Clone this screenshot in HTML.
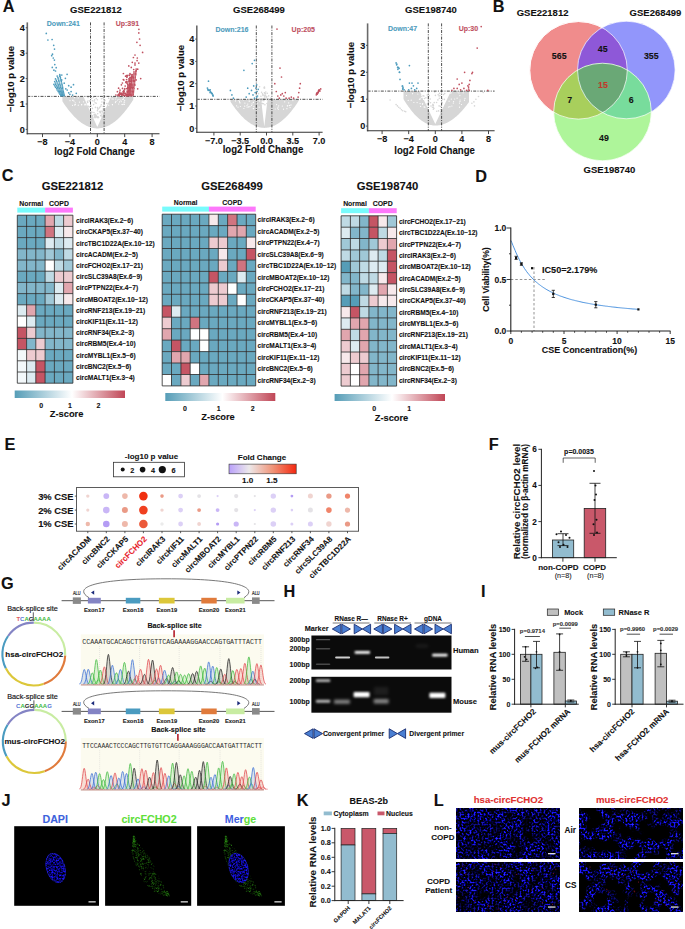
<!DOCTYPE html><html><head><meta charset="utf-8"><style>html,body{margin:0;padding:0;background:#fff;}svg{display:block;}text{font-family:"Liberation Sans",sans-serif;}</style></head><body>
<svg width="685" height="929" viewBox="0 0 685 929">
<rect width="685" height="929" fill="#fff"/>
<path d="M62.4 96.4 L62.4 101.3 L63.2 102.6 L64.1 103.9 L65 105.2 L65.9 106.4 L66.7 107.6 L67.6 108.8 L68.5 109.9 L69.4 111 L70.2 112.1 L71.1 113.1 L72 114.1 L72.8 115.1 L73.7 116 L74.6 116.9 L75.5 117.8 L76.3 118.6 L77.2 119.4 L78.1 120.2 L79 120.9 L79.8 121.6 L80.7 122.3 L81.6 122.9 L82.5 123.5 L83.3 124.1 L84.2 124.6 L85.1 125.1 L85.9 125.5 L86.8 125.9 L87.7 126.3 L88.6 126.7 L89.4 127 L90.3 127.3 L91.2 127.6 L92.1 127.8 L92.9 128 L93.8 128.1 L94.7 128.2 L95.6 128.3 L96.4 128.4 L97.3 128.4 L97.3 128.4 L98.2 128.4 L99.1 128.3 L100 128.2 L100.9 128.1 L101.8 127.9 L102.7 127.7 L103.6 127.5 L104.5 127.2 L105.4 126.9 L106.3 126.6 L107.2 126.2 L108.1 125.8 L109 125.4 L109.9 124.9 L110.8 124.3 L111.7 123.8 L112.6 123.2 L113.5 122.6 L114.4 121.9 L115.3 121.2 L116.2 120.5 L117.1 119.7 L118 118.9 L118.9 118.1 L119.8 117.2 L120.7 116.3 L121.6 115.3 L122.5 114.3 L123.4 113.3 L124.3 112.2 L125.2 111.1 L126.1 110 L127 108.8 L127.9 107.6 L128.8 106.4 L129.7 105.1 L130.6 103.8 L131.5 102.5 L132.4 101.1 L133.3 99.7 L133.3 96.4 L111.2 96.4 L97.3 126.9 L83.4 96.4Z" fill="#d6d6d6"/>
<circle cx="72.8" cy="100.4" r="0.6" fill="#fff"/>
<circle cx="84.9" cy="104.9" r="0.6" fill="#fff"/>
<circle cx="124" cy="102.1" r="0.6" fill="#fff"/>
<circle cx="117.4" cy="100" r="0.6" fill="#fff"/>
<circle cx="78.3" cy="105.2" r="0.6" fill="#fff"/>
<circle cx="74" cy="101.1" r="0.6" fill="#fff"/>
<circle cx="75.5" cy="104.7" r="0.6" fill="#fff"/>
<circle cx="112.4" cy="104.6" r="0.6" fill="#fff"/>
<circle cx="112.1" cy="98.9" r="0.6" fill="#fff"/>
<circle cx="74.2" cy="97.1" r="0.6" fill="#fff"/>
<circle cx="122.2" cy="104.6" r="0.6" fill="#fff"/>
<circle cx="120.9" cy="100.1" r="0.6" fill="#fff"/>
<circle cx="85.1" cy="104" r="0.6" fill="#fff"/>
<circle cx="119" cy="99.5" r="0.6" fill="#fff"/>
<circle cx="86.1" cy="104.8" r="0.6" fill="#fff"/>
<circle cx="124.2" cy="104.4" r="0.6" fill="#fff"/>
<circle cx="75.2" cy="102.8" r="0.6" fill="#fff"/>
<circle cx="115.9" cy="101.4" r="0.6" fill="#fff"/>
<circle cx="70" cy="100.7" r="0.6" fill="#fff"/>
<circle cx="124.3" cy="97.4" r="0.6" fill="#fff"/>
<circle cx="81.6" cy="104.6" r="0.6" fill="#fff"/>
<circle cx="124.6" cy="102" r="0.6" fill="#fff"/>
<circle cx="85.1" cy="104.5" r="0.6" fill="#fff"/>
<circle cx="123.9" cy="104.2" r="0.6" fill="#fff"/>
<circle cx="122.8" cy="99.4" r="0.6" fill="#fff"/>
<circle cx="78.2" cy="97.9" r="0.6" fill="#fff"/>
<circle cx="108.7" cy="105.2" r="0.6" fill="#fff"/>
<circle cx="119.5" cy="101.9" r="0.6" fill="#fff"/>
<circle cx="79.5" cy="102.1" r="0.6" fill="#fff"/>
<circle cx="72.5" cy="105.3" r="0.6" fill="#fff"/>
<circle cx="122.1" cy="104.3" r="0.6" fill="#fff"/>
<circle cx="74.6" cy="97.7" r="0.6" fill="#fff"/>
<circle cx="112.4" cy="104.7" r="0.6" fill="#fff"/>
<circle cx="124.7" cy="100.3" r="0.6" fill="#fff"/>
<circle cx="123.5" cy="98.9" r="0.6" fill="#fff"/>
<circle cx="81.7" cy="104.8" r="0.6" fill="#fff"/>
<circle cx="118.7" cy="104" r="0.6" fill="#fff"/>
<circle cx="115.4" cy="102.6" r="0.6" fill="#fff"/>
<circle cx="121.2" cy="101.7" r="0.6" fill="#fff"/>
<circle cx="73" cy="100" r="0.6" fill="#fff"/>
<circle cx="74.5" cy="104.9" r="0.6" fill="#fff"/>
<circle cx="115.7" cy="99" r="0.6" fill="#fff"/>
<circle cx="116.2" cy="97.6" r="0.6" fill="#fff"/>
<circle cx="83.5" cy="101.8" r="0.6" fill="#fff"/>
<circle cx="113.2" cy="99.1" r="0.6" fill="#fff"/>
<circle cx="95.1" cy="102.7" r="0.8" fill="#d6d6d6"/>
<circle cx="97.4" cy="117.6" r="0.8" fill="#d6d6d6"/>
<circle cx="100.7" cy="106.3" r="0.8" fill="#d6d6d6"/>
<circle cx="105.1" cy="108.7" r="0.8" fill="#d6d6d6"/>
<circle cx="95.8" cy="117.6" r="0.8" fill="#d6d6d6"/>
<circle cx="102.1" cy="111" r="0.8" fill="#d6d6d6"/>
<circle cx="101.3" cy="104.8" r="0.8" fill="#d6d6d6"/>
<circle cx="99.7" cy="107.2" r="0.8" fill="#d6d6d6"/>
<circle cx="96.3" cy="116.6" r="0.8" fill="#d6d6d6"/>
<circle cx="93.5" cy="97.2" r="0.8" fill="#d6d6d6"/>
<circle cx="87.5" cy="101.3" r="0.8" fill="#d6d6d6"/>
<circle cx="88.1" cy="97.5" r="0.8" fill="#d6d6d6"/>
<circle cx="92.7" cy="115.8" r="0.8" fill="#d6d6d6"/>
<circle cx="100.5" cy="112.4" r="0.8" fill="#d6d6d6"/>
<circle cx="95" cy="117.1" r="0.8" fill="#d6d6d6"/>
<circle cx="90" cy="101.5" r="0.8" fill="#d6d6d6"/>
<circle cx="91.7" cy="112.3" r="0.8" fill="#d6d6d6"/>
<circle cx="101.1" cy="115.2" r="0.8" fill="#d6d6d6"/>
<circle cx="103.2" cy="109.1" r="0.8" fill="#d6d6d6"/>
<circle cx="101.4" cy="98.8" r="0.8" fill="#d6d6d6"/>
<circle cx="92.4" cy="100.7" r="0.8" fill="#d6d6d6"/>
<circle cx="93.9" cy="112.5" r="0.8" fill="#d6d6d6"/>
<circle cx="94.9" cy="114.8" r="0.8" fill="#d6d6d6"/>
<circle cx="96.3" cy="98.6" r="0.8" fill="#d6d6d6"/>
<circle cx="91" cy="105.9" r="0.8" fill="#d6d6d6"/>
<circle cx="96.2" cy="103.2" r="0.8" fill="#d6d6d6"/>
<circle cx="94.8" cy="116.1" r="0.8" fill="#d6d6d6"/>
<circle cx="101.9" cy="116.8" r="0.8" fill="#d6d6d6"/>
<circle cx="106.9" cy="103.5" r="0.8" fill="#d6d6d6"/>
<circle cx="98.1" cy="109" r="0.8" fill="#d6d6d6"/>
<circle cx="94.7" cy="116.4" r="0.8" fill="#d6d6d6"/>
<circle cx="108.7" cy="98.2" r="0.8" fill="#d6d6d6"/>
<circle cx="93.6" cy="104.6" r="0.8" fill="#d6d6d6"/>
<circle cx="94.1" cy="101.1" r="0.8" fill="#d6d6d6"/>
<circle cx="92.2" cy="116.2" r="0.8" fill="#d6d6d6"/>
<circle cx="94.6" cy="99.9" r="0.8" fill="#d6d6d6"/>
<circle cx="97" cy="116.6" r="0.8" fill="#d6d6d6"/>
<circle cx="97.4" cy="99.8" r="0.8" fill="#d6d6d6"/>
<circle cx="92.4" cy="108.4" r="0.8" fill="#d6d6d6"/>
<circle cx="97.4" cy="110.8" r="0.8" fill="#d6d6d6"/>
<circle cx="88.4" cy="106.3" r="0.8" fill="#d6d6d6"/>
<circle cx="91.6" cy="98.4" r="0.8" fill="#d6d6d6"/>
<circle cx="91.8" cy="112.3" r="0.8" fill="#d6d6d6"/>
<circle cx="96.2" cy="115.2" r="0.8" fill="#d6d6d6"/>
<circle cx="89.2" cy="106.9" r="0.8" fill="#d6d6d6"/>
<circle cx="91.2" cy="112.9" r="0.8" fill="#d6d6d6"/>
<circle cx="95.2" cy="115.7" r="0.8" fill="#d6d6d6"/>
<circle cx="94.2" cy="114.6" r="0.8" fill="#d6d6d6"/>
<circle cx="98.1" cy="116.9" r="0.8" fill="#d6d6d6"/>
<circle cx="97.7" cy="113.7" r="0.8" fill="#d6d6d6"/>
<circle cx="100.8" cy="111.4" r="0.8" fill="#d6d6d6"/>
<circle cx="99.5" cy="111.5" r="0.8" fill="#d6d6d6"/>
<circle cx="101.9" cy="102" r="0.8" fill="#d6d6d6"/>
<circle cx="102.5" cy="111.9" r="0.8" fill="#d6d6d6"/>
<circle cx="95.4" cy="107.4" r="0.8" fill="#d6d6d6"/>
<circle cx="95.2" cy="114.2" r="0.8" fill="#d6d6d6"/>
<circle cx="104.4" cy="110.7" r="0.8" fill="#d6d6d6"/>
<circle cx="94.1" cy="117.6" r="0.8" fill="#d6d6d6"/>
<circle cx="100.2" cy="112.7" r="0.8" fill="#d6d6d6"/>
<circle cx="98.6" cy="117.6" r="0.8" fill="#d6d6d6"/>
<circle cx="87.7" cy="102.5" r="0.8" fill="#d6d6d6"/>
<circle cx="103.3" cy="106.4" r="0.8" fill="#d6d6d6"/>
<circle cx="102" cy="114" r="0.8" fill="#d6d6d6"/>
<circle cx="99.4" cy="108" r="0.8" fill="#d6d6d6"/>
<circle cx="103" cy="98.3" r="0.8" fill="#d6d6d6"/>
<circle cx="100.6" cy="115.7" r="0.8" fill="#d6d6d6"/>
<circle cx="89.2" cy="100.7" r="0.8" fill="#d6d6d6"/>
<circle cx="97.7" cy="108.9" r="0.8" fill="#d6d6d6"/>
<circle cx="97.4" cy="107.5" r="0.8" fill="#d6d6d6"/>
<circle cx="104.9" cy="100.4" r="0.8" fill="#d6d6d6"/>
<line x1="27.3" y1="96.4" x2="159.5" y2="96.4" stroke="#222" stroke-width="0.8" stroke-dasharray="3 1.3 1 1.3"/>
<line x1="90.5" y1="22.4" x2="90.5" y2="133.8" stroke="#222" stroke-width="0.8" stroke-dasharray="3 1.3 1 1.3"/>
<line x1="104.1" y1="22.4" x2="104.1" y2="133.8" stroke="#222" stroke-width="0.8" stroke-dasharray="3 1.3 1 1.3"/>
<circle cx="64.2" cy="95.6" r="0.85" fill="#4e9cbd"/>
<circle cx="64" cy="94.2" r="0.85" fill="#4e9cbd"/>
<circle cx="63.6" cy="92.8" r="0.85" fill="#4e9cbd"/>
<circle cx="63.3" cy="91.4" r="0.85" fill="#4e9cbd"/>
<circle cx="63" cy="90" r="0.85" fill="#4e9cbd"/>
<circle cx="62.7" cy="88.6" r="0.85" fill="#4e9cbd"/>
<circle cx="62.6" cy="87.2" r="0.85" fill="#4e9cbd"/>
<circle cx="62.2" cy="85.8" r="0.85" fill="#4e9cbd"/>
<circle cx="62" cy="84.4" r="0.85" fill="#4e9cbd"/>
<circle cx="61.6" cy="83" r="0.85" fill="#4e9cbd"/>
<circle cx="61.3" cy="81.6" r="0.85" fill="#4e9cbd"/>
<circle cx="61" cy="80.3" r="0.85" fill="#4e9cbd"/>
<circle cx="60.5" cy="78.9" r="0.85" fill="#4e9cbd"/>
<circle cx="60.4" cy="77.5" r="0.85" fill="#4e9cbd"/>
<circle cx="60.1" cy="76.1" r="0.85" fill="#4e9cbd"/>
<circle cx="59.8" cy="74.7" r="0.85" fill="#4e9cbd"/>
<circle cx="63.2" cy="95.6" r="0.85" fill="#4e9cbd"/>
<circle cx="62.7" cy="94.2" r="0.85" fill="#4e9cbd"/>
<circle cx="62.4" cy="92.8" r="0.85" fill="#4e9cbd"/>
<circle cx="62" cy="91.4" r="0.85" fill="#4e9cbd"/>
<circle cx="61.7" cy="90" r="0.85" fill="#4e9cbd"/>
<circle cx="61.2" cy="88.6" r="0.85" fill="#4e9cbd"/>
<circle cx="60.8" cy="87.2" r="0.85" fill="#4e9cbd"/>
<circle cx="60.3" cy="85.8" r="0.85" fill="#4e9cbd"/>
<circle cx="59.9" cy="84.4" r="0.85" fill="#4e9cbd"/>
<circle cx="59.5" cy="83" r="0.85" fill="#4e9cbd"/>
<circle cx="59" cy="81.6" r="0.85" fill="#4e9cbd"/>
<circle cx="58.8" cy="80.3" r="0.85" fill="#4e9cbd"/>
<circle cx="58.2" cy="78.9" r="0.85" fill="#4e9cbd"/>
<circle cx="57.9" cy="77.5" r="0.85" fill="#4e9cbd"/>
<circle cx="57.2" cy="76.1" r="0.85" fill="#4e9cbd"/>
<circle cx="62.4" cy="95.6" r="0.85" fill="#4e9cbd"/>
<circle cx="61.9" cy="94.2" r="0.85" fill="#4e9cbd"/>
<circle cx="61.3" cy="92.8" r="0.85" fill="#4e9cbd"/>
<circle cx="60.8" cy="91.4" r="0.85" fill="#4e9cbd"/>
<circle cx="60.2" cy="90" r="0.85" fill="#4e9cbd"/>
<circle cx="59.6" cy="88.6" r="0.85" fill="#4e9cbd"/>
<circle cx="59" cy="87.2" r="0.85" fill="#4e9cbd"/>
<circle cx="58.5" cy="85.8" r="0.85" fill="#4e9cbd"/>
<circle cx="58.1" cy="84.4" r="0.85" fill="#4e9cbd"/>
<circle cx="57.3" cy="83" r="0.85" fill="#4e9cbd"/>
<circle cx="56.8" cy="81.6" r="0.85" fill="#4e9cbd"/>
<circle cx="56.3" cy="80.3" r="0.85" fill="#4e9cbd"/>
<circle cx="55.5" cy="78.9" r="0.85" fill="#4e9cbd"/>
<circle cx="61.6" cy="95.6" r="0.85" fill="#4e9cbd"/>
<circle cx="61" cy="94.2" r="0.85" fill="#4e9cbd"/>
<circle cx="60" cy="92.8" r="0.85" fill="#4e9cbd"/>
<circle cx="59.4" cy="91.4" r="0.85" fill="#4e9cbd"/>
<circle cx="58.8" cy="90" r="0.85" fill="#4e9cbd"/>
<circle cx="58" cy="88.6" r="0.85" fill="#4e9cbd"/>
<circle cx="57.4" cy="87.2" r="0.85" fill="#4e9cbd"/>
<circle cx="56.7" cy="85.8" r="0.85" fill="#4e9cbd"/>
<circle cx="55.8" cy="84.4" r="0.85" fill="#4e9cbd"/>
<circle cx="55.4" cy="83" r="0.85" fill="#4e9cbd"/>
<circle cx="54.7" cy="81.6" r="0.85" fill="#4e9cbd"/>
<circle cx="60.8" cy="95.6" r="0.85" fill="#4e9cbd"/>
<circle cx="60" cy="94.2" r="0.85" fill="#4e9cbd"/>
<circle cx="59.1" cy="92.8" r="0.85" fill="#4e9cbd"/>
<circle cx="58.2" cy="91.4" r="0.85" fill="#4e9cbd"/>
<circle cx="57.2" cy="90" r="0.85" fill="#4e9cbd"/>
<circle cx="56.6" cy="88.6" r="0.85" fill="#4e9cbd"/>
<circle cx="55.6" cy="87.2" r="0.85" fill="#4e9cbd"/>
<circle cx="54.8" cy="85.8" r="0.85" fill="#4e9cbd"/>
<circle cx="53.9" cy="84.4" r="0.85" fill="#4e9cbd"/>
<circle cx="46.3" cy="33.4" r="0.85" fill="#4e9cbd"/>
<circle cx="47.9" cy="40" r="0.85" fill="#4e9cbd"/>
<circle cx="52.1" cy="39.5" r="0.85" fill="#4e9cbd"/>
<circle cx="53.7" cy="45.3" r="0.85" fill="#4e9cbd"/>
<circle cx="54.5" cy="49.1" r="0.85" fill="#4e9cbd"/>
<circle cx="52.5" cy="54.2" r="0.85" fill="#4e9cbd"/>
<circle cx="51.7" cy="55.7" r="0.85" fill="#4e9cbd"/>
<circle cx="53.3" cy="58" r="0.85" fill="#4e9cbd"/>
<circle cx="54.4" cy="60.1" r="0.85" fill="#4e9cbd"/>
<circle cx="52.3" cy="67.4" r="0.85" fill="#4e9cbd"/>
<circle cx="56.2" cy="67.7" r="0.85" fill="#4e9cbd"/>
<circle cx="53.9" cy="70.2" r="0.85" fill="#4e9cbd"/>
<circle cx="67.1" cy="74.3" r="0.85" fill="#4e9cbd"/>
<circle cx="65.4" cy="78.3" r="0.85" fill="#4e9cbd"/>
<circle cx="61.8" cy="75" r="0.85" fill="#4e9cbd"/>
<circle cx="68.7" cy="85.7" r="0.85" fill="#4e9cbd"/>
<circle cx="73.5" cy="84.7" r="0.85" fill="#4e9cbd"/>
<circle cx="71.1" cy="87.2" r="0.85" fill="#4e9cbd"/>
<circle cx="71.1" cy="91.6" r="0.85" fill="#4e9cbd"/>
<circle cx="76.3" cy="93.3" r="0.85" fill="#4e9cbd"/>
<circle cx="64.2" cy="83.2" r="0.85" fill="#4e9cbd"/>
<circle cx="65.8" cy="88.8" r="0.85" fill="#4e9cbd"/>
<circle cx="68.7" cy="92.8" r="0.85" fill="#4e9cbd"/>
<circle cx="59.6" cy="76.1" r="0.85" fill="#4e9cbd"/>
<circle cx="61.7" cy="79.9" r="0.85" fill="#4e9cbd"/>
<circle cx="67.2" cy="90" r="0.85" fill="#4e9cbd"/>
<circle cx="69.9" cy="94.3" r="0.85" fill="#4e9cbd"/>
<circle cx="72.6" cy="95.1" r="0.85" fill="#4e9cbd"/>
<circle cx="54.8" cy="64.6" r="0.85" fill="#4e9cbd"/>
<circle cx="55.5" cy="71" r="0.85" fill="#4e9cbd"/>
<circle cx="127" cy="95.6" r="0.85" fill="#c0505f"/>
<circle cx="127.2" cy="94.2" r="0.85" fill="#c0505f"/>
<circle cx="127.5" cy="92.8" r="0.85" fill="#c0505f"/>
<circle cx="127.2" cy="91.4" r="0.85" fill="#c0505f"/>
<circle cx="127.4" cy="90" r="0.85" fill="#c0505f"/>
<circle cx="127.6" cy="88.6" r="0.85" fill="#c0505f"/>
<circle cx="127.9" cy="87.2" r="0.85" fill="#c0505f"/>
<circle cx="127.9" cy="85.8" r="0.85" fill="#c0505f"/>
<circle cx="127.7" cy="84.4" r="0.85" fill="#c0505f"/>
<circle cx="127.7" cy="83" r="0.85" fill="#c0505f"/>
<circle cx="128.1" cy="81.6" r="0.85" fill="#c0505f"/>
<circle cx="128.3" cy="95.6" r="0.85" fill="#c0505f"/>
<circle cx="128.4" cy="94.2" r="0.85" fill="#c0505f"/>
<circle cx="128.7" cy="92.8" r="0.85" fill="#c0505f"/>
<circle cx="128.8" cy="91.4" r="0.85" fill="#c0505f"/>
<circle cx="128.9" cy="90" r="0.85" fill="#c0505f"/>
<circle cx="129" cy="88.6" r="0.85" fill="#c0505f"/>
<circle cx="129.2" cy="87.2" r="0.85" fill="#c0505f"/>
<circle cx="129.4" cy="85.8" r="0.85" fill="#c0505f"/>
<circle cx="129.5" cy="84.4" r="0.85" fill="#c0505f"/>
<circle cx="129.6" cy="83" r="0.85" fill="#c0505f"/>
<circle cx="129.7" cy="81.6" r="0.85" fill="#c0505f"/>
<circle cx="129.6" cy="80.3" r="0.85" fill="#c0505f"/>
<circle cx="130" cy="78.9" r="0.85" fill="#c0505f"/>
<circle cx="129.6" cy="95.6" r="0.85" fill="#c0505f"/>
<circle cx="129.7" cy="94.2" r="0.85" fill="#c0505f"/>
<circle cx="129.7" cy="92.8" r="0.85" fill="#c0505f"/>
<circle cx="130" cy="91.4" r="0.85" fill="#c0505f"/>
<circle cx="130.3" cy="90" r="0.85" fill="#c0505f"/>
<circle cx="130.2" cy="88.6" r="0.85" fill="#c0505f"/>
<circle cx="130.5" cy="87.2" r="0.85" fill="#c0505f"/>
<circle cx="130.8" cy="85.8" r="0.85" fill="#c0505f"/>
<circle cx="130.7" cy="84.4" r="0.85" fill="#c0505f"/>
<circle cx="131.2" cy="83" r="0.85" fill="#c0505f"/>
<circle cx="131.3" cy="81.6" r="0.85" fill="#c0505f"/>
<circle cx="131.4" cy="80.3" r="0.85" fill="#c0505f"/>
<circle cx="131.6" cy="78.9" r="0.85" fill="#c0505f"/>
<circle cx="131.8" cy="77.5" r="0.85" fill="#c0505f"/>
<circle cx="131.9" cy="76.1" r="0.85" fill="#c0505f"/>
<circle cx="130.8" cy="95.6" r="0.85" fill="#c0505f"/>
<circle cx="130.7" cy="94.2" r="0.85" fill="#c0505f"/>
<circle cx="130.8" cy="92.8" r="0.85" fill="#c0505f"/>
<circle cx="131" cy="91.4" r="0.85" fill="#c0505f"/>
<circle cx="131" cy="90" r="0.85" fill="#c0505f"/>
<circle cx="131" cy="88.6" r="0.85" fill="#c0505f"/>
<circle cx="131.3" cy="87.2" r="0.85" fill="#c0505f"/>
<circle cx="131.5" cy="85.8" r="0.85" fill="#c0505f"/>
<circle cx="131.4" cy="84.4" r="0.85" fill="#c0505f"/>
<circle cx="131.3" cy="83" r="0.85" fill="#c0505f"/>
<circle cx="131.6" cy="81.6" r="0.85" fill="#c0505f"/>
<circle cx="131.7" cy="80.3" r="0.85" fill="#c0505f"/>
<circle cx="131.7" cy="78.9" r="0.85" fill="#c0505f"/>
<circle cx="132" cy="77.5" r="0.85" fill="#c0505f"/>
<circle cx="131.9" cy="76.1" r="0.85" fill="#c0505f"/>
<circle cx="132.2" cy="74.7" r="0.85" fill="#c0505f"/>
<circle cx="131.7" cy="95.6" r="0.85" fill="#c0505f"/>
<circle cx="131.9" cy="94.2" r="0.85" fill="#c0505f"/>
<circle cx="132.2" cy="92.8" r="0.85" fill="#c0505f"/>
<circle cx="132.3" cy="91.4" r="0.85" fill="#c0505f"/>
<circle cx="132.4" cy="90" r="0.85" fill="#c0505f"/>
<circle cx="132.5" cy="88.6" r="0.85" fill="#c0505f"/>
<circle cx="132.6" cy="87.2" r="0.85" fill="#c0505f"/>
<circle cx="132.8" cy="85.8" r="0.85" fill="#c0505f"/>
<circle cx="132.9" cy="84.4" r="0.85" fill="#c0505f"/>
<circle cx="133" cy="83" r="0.85" fill="#c0505f"/>
<circle cx="133.2" cy="81.6" r="0.85" fill="#c0505f"/>
<circle cx="133.3" cy="80.3" r="0.85" fill="#c0505f"/>
<circle cx="133.4" cy="78.9" r="0.85" fill="#c0505f"/>
<circle cx="133.6" cy="77.5" r="0.85" fill="#c0505f"/>
<circle cx="133.7" cy="76.1" r="0.85" fill="#c0505f"/>
<circle cx="134" cy="74.7" r="0.85" fill="#c0505f"/>
<circle cx="134" cy="73.3" r="0.85" fill="#c0505f"/>
<circle cx="134" cy="71.9" r="0.85" fill="#c0505f"/>
<circle cx="133" cy="95.6" r="0.85" fill="#c0505f"/>
<circle cx="133.2" cy="94.2" r="0.85" fill="#c0505f"/>
<circle cx="133.4" cy="92.8" r="0.85" fill="#c0505f"/>
<circle cx="133.5" cy="91.4" r="0.85" fill="#c0505f"/>
<circle cx="133.7" cy="90" r="0.85" fill="#c0505f"/>
<circle cx="134" cy="88.6" r="0.85" fill="#c0505f"/>
<circle cx="133.8" cy="87.2" r="0.85" fill="#c0505f"/>
<circle cx="134.1" cy="85.8" r="0.85" fill="#c0505f"/>
<circle cx="134.4" cy="84.4" r="0.85" fill="#c0505f"/>
<circle cx="134.6" cy="83" r="0.85" fill="#c0505f"/>
<circle cx="134.7" cy="81.6" r="0.85" fill="#c0505f"/>
<circle cx="134.8" cy="80.3" r="0.85" fill="#c0505f"/>
<circle cx="135.1" cy="78.9" r="0.85" fill="#c0505f"/>
<circle cx="135.2" cy="77.5" r="0.85" fill="#c0505f"/>
<circle cx="135.3" cy="76.1" r="0.85" fill="#c0505f"/>
<circle cx="135.8" cy="74.7" r="0.85" fill="#c0505f"/>
<circle cx="135.8" cy="73.3" r="0.85" fill="#c0505f"/>
<circle cx="135.8" cy="71.9" r="0.85" fill="#c0505f"/>
<circle cx="136.1" cy="70.5" r="0.85" fill="#c0505f"/>
<circle cx="136.2" cy="69.1" r="0.85" fill="#c0505f"/>
<circle cx="130.4" cy="88.1" r="0.85" fill="#c0505f"/>
<circle cx="128.9" cy="78.8" r="0.85" fill="#c0505f"/>
<circle cx="121.3" cy="93.4" r="0.85" fill="#c0505f"/>
<circle cx="126.6" cy="94.6" r="0.85" fill="#c0505f"/>
<circle cx="127.9" cy="88" r="0.85" fill="#c0505f"/>
<circle cx="119.8" cy="92.2" r="0.85" fill="#c0505f"/>
<circle cx="131.5" cy="80.4" r="0.85" fill="#c0505f"/>
<circle cx="129.9" cy="79.1" r="0.85" fill="#c0505f"/>
<circle cx="129.1" cy="80.2" r="0.85" fill="#c0505f"/>
<circle cx="123.2" cy="93.9" r="0.85" fill="#c0505f"/>
<circle cx="117.4" cy="91.7" r="0.85" fill="#c0505f"/>
<circle cx="119.3" cy="95.8" r="0.85" fill="#c0505f"/>
<circle cx="125.7" cy="93.4" r="0.85" fill="#c0505f"/>
<circle cx="127.4" cy="75.8" r="0.85" fill="#c0505f"/>
<circle cx="132.1" cy="76.4" r="0.85" fill="#c0505f"/>
<circle cx="126.7" cy="75.8" r="0.85" fill="#c0505f"/>
<circle cx="119.2" cy="94" r="0.85" fill="#c0505f"/>
<circle cx="118.8" cy="94.3" r="0.85" fill="#c0505f"/>
<circle cx="129.8" cy="85.7" r="0.85" fill="#c0505f"/>
<circle cx="126.6" cy="79.5" r="0.85" fill="#c0505f"/>
<circle cx="128.8" cy="85" r="0.85" fill="#c0505f"/>
<circle cx="124.8" cy="95.5" r="0.85" fill="#c0505f"/>
<circle cx="130.1" cy="77.3" r="0.85" fill="#c0505f"/>
<circle cx="125.9" cy="82.2" r="0.85" fill="#c0505f"/>
<circle cx="126.8" cy="94.5" r="0.85" fill="#c0505f"/>
<circle cx="127.4" cy="92.2" r="0.85" fill="#c0505f"/>
<circle cx="127.1" cy="75.3" r="0.85" fill="#c0505f"/>
<circle cx="129.6" cy="90.9" r="0.85" fill="#c0505f"/>
<circle cx="122.4" cy="83" r="0.85" fill="#c0505f"/>
<circle cx="117.8" cy="95.1" r="0.85" fill="#c0505f"/>
<circle cx="130.2" cy="77.5" r="0.85" fill="#c0505f"/>
<circle cx="127.3" cy="94.9" r="0.85" fill="#c0505f"/>
<circle cx="129.4" cy="75" r="0.85" fill="#c0505f"/>
<circle cx="124.2" cy="91.8" r="0.85" fill="#c0505f"/>
<circle cx="115.9" cy="95" r="0.85" fill="#c0505f"/>
<circle cx="129.3" cy="75.3" r="0.85" fill="#c0505f"/>
<circle cx="129.8" cy="88.1" r="0.85" fill="#c0505f"/>
<circle cx="128.7" cy="90.2" r="0.85" fill="#c0505f"/>
<circle cx="123.9" cy="80" r="0.85" fill="#c0505f"/>
<circle cx="120.3" cy="93.5" r="0.85" fill="#c0505f"/>
<circle cx="124.2" cy="93.7" r="0.85" fill="#c0505f"/>
<circle cx="122" cy="93.4" r="0.85" fill="#c0505f"/>
<circle cx="128.4" cy="95" r="0.85" fill="#c0505f"/>
<circle cx="123" cy="91.8" r="0.85" fill="#c0505f"/>
<circle cx="129.7" cy="86.8" r="0.85" fill="#c0505f"/>
<circle cx="129.2" cy="90.5" r="0.85" fill="#c0505f"/>
<circle cx="124.8" cy="88.7" r="0.85" fill="#c0505f"/>
<circle cx="118.6" cy="88.2" r="0.85" fill="#c0505f"/>
<circle cx="120" cy="90.1" r="0.85" fill="#c0505f"/>
<circle cx="126.7" cy="95.9" r="0.85" fill="#c0505f"/>
<circle cx="122.4" cy="94.6" r="0.85" fill="#c0505f"/>
<circle cx="126.5" cy="83" r="0.85" fill="#c0505f"/>
<circle cx="123.7" cy="92.3" r="0.85" fill="#c0505f"/>
<circle cx="128.1" cy="87.4" r="0.85" fill="#c0505f"/>
<circle cx="123.4" cy="95.3" r="0.85" fill="#c0505f"/>
<circle cx="120" cy="93.5" r="0.85" fill="#c0505f"/>
<circle cx="126.4" cy="81.6" r="0.85" fill="#c0505f"/>
<circle cx="127.9" cy="87.3" r="0.85" fill="#c0505f"/>
<circle cx="126.9" cy="77.2" r="0.85" fill="#c0505f"/>
<circle cx="125.2" cy="86" r="0.85" fill="#c0505f"/>
<circle cx="126.8" cy="88.5" r="0.85" fill="#c0505f"/>
<circle cx="124.5" cy="89.8" r="0.85" fill="#c0505f"/>
<circle cx="129.7" cy="89.2" r="0.85" fill="#c0505f"/>
<circle cx="129.9" cy="83.7" r="0.85" fill="#c0505f"/>
<circle cx="125.6" cy="76.2" r="0.85" fill="#c0505f"/>
<circle cx="130" cy="87.3" r="0.85" fill="#c0505f"/>
<circle cx="123.3" cy="79.5" r="0.85" fill="#c0505f"/>
<circle cx="121.8" cy="95.1" r="0.85" fill="#c0505f"/>
<circle cx="118.9" cy="95.5" r="0.85" fill="#c0505f"/>
<circle cx="124.9" cy="95.5" r="0.85" fill="#c0505f"/>
<circle cx="130.5" cy="81.2" r="0.85" fill="#c0505f"/>
<circle cx="125.7" cy="94.8" r="0.85" fill="#c0505f"/>
<circle cx="121.4" cy="84.8" r="0.85" fill="#c0505f"/>
<circle cx="131.6" cy="78.2" r="0.85" fill="#c0505f"/>
<circle cx="129.2" cy="94" r="0.85" fill="#c0505f"/>
<circle cx="123.6" cy="90.9" r="0.85" fill="#c0505f"/>
<circle cx="131" cy="74.6" r="0.85" fill="#c0505f"/>
<circle cx="121.8" cy="94.7" r="0.85" fill="#c0505f"/>
<circle cx="122.5" cy="88.4" r="0.85" fill="#c0505f"/>
<circle cx="120.4" cy="94.3" r="0.85" fill="#c0505f"/>
<circle cx="138.9" cy="29.3" r="0.85" fill="#c0505f"/>
<circle cx="138.8" cy="32.9" r="0.85" fill="#c0505f"/>
<circle cx="139.6" cy="39" r="0.85" fill="#c0505f"/>
<circle cx="136.9" cy="42.3" r="0.85" fill="#c0505f"/>
<circle cx="140.1" cy="45.3" r="0.85" fill="#c0505f"/>
<circle cx="142.6" cy="52.4" r="0.85" fill="#c0505f"/>
<circle cx="135" cy="55" r="0.85" fill="#c0505f"/>
<circle cx="133.4" cy="57.5" r="0.85" fill="#c0505f"/>
<circle cx="137.3" cy="58" r="0.85" fill="#c0505f"/>
<circle cx="137.1" cy="60.6" r="0.85" fill="#c0505f"/>
<circle cx="132.3" cy="62.3" r="0.85" fill="#c0505f"/>
<circle cx="135" cy="63.1" r="0.85" fill="#c0505f"/>
<circle cx="138.8" cy="63.1" r="0.85" fill="#c0505f"/>
<circle cx="135" cy="64.9" r="0.85" fill="#c0505f"/>
<circle cx="128.8" cy="65.9" r="0.85" fill="#c0505f"/>
<circle cx="131.3" cy="67.4" r="0.85" fill="#c0505f"/>
<circle cx="133.7" cy="69.5" r="0.85" fill="#c0505f"/>
<circle cx="137.7" cy="69.2" r="0.85" fill="#c0505f"/>
<circle cx="136.1" cy="71" r="0.85" fill="#c0505f"/>
<circle cx="123.4" cy="73.5" r="0.85" fill="#c0505f"/>
<circle cx="130" cy="73.5" r="0.85" fill="#c0505f"/>
<circle cx="140.7" cy="78.6" r="0.85" fill="#c0505f"/>
<circle cx="136.1" cy="79.9" r="0.85" fill="#c0505f"/>
<circle cx="137.7" cy="88.8" r="0.85" fill="#c0505f"/>
<circle cx="135" cy="85" r="0.85" fill="#c0505f"/>
<line x1="27.3" y1="22.4" x2="27.3" y2="134.3" stroke="#6a6a6a" stroke-width="1.6" />
<line x1="26.8" y1="133.8" x2="159.5" y2="133.8" stroke="#333" stroke-width="1.1" />
<line x1="25.7" y1="129.4" x2="27.3" y2="129.4" stroke="#444" stroke-width="0.9" />
<text x="24.9" y="132.6" font-size="9.1" text-anchor="end" font-weight="bold" fill="#111" stroke="#111" stroke-width="0.1" >0</text>
<line x1="25.7" y1="104" x2="27.3" y2="104" stroke="#444" stroke-width="0.9" />
<text x="24.9" y="107.2" font-size="9.1" text-anchor="end" font-weight="bold" fill="#111" stroke="#111" stroke-width="0.1" >1</text>
<line x1="25.7" y1="78.6" x2="27.3" y2="78.6" stroke="#444" stroke-width="0.9" />
<text x="24.9" y="81.8" font-size="9.1" text-anchor="end" font-weight="bold" fill="#111" stroke="#111" stroke-width="0.1" >2</text>
<line x1="25.7" y1="53.2" x2="27.3" y2="53.2" stroke="#444" stroke-width="0.9" />
<text x="24.9" y="56.4" font-size="9.1" text-anchor="end" font-weight="bold" fill="#111" stroke="#111" stroke-width="0.1" >3</text>
<line x1="25.7" y1="27.8" x2="27.3" y2="27.8" stroke="#444" stroke-width="0.9" />
<text x="24.9" y="31" font-size="9.1" text-anchor="end" font-weight="bold" fill="#111" stroke="#111" stroke-width="0.1" >4</text>
<line x1="42.5" y1="133.8" x2="42.5" y2="137.1" stroke="#333" stroke-width="0.9" />
<text x="42.5" y="145.2" font-size="9.1" text-anchor="middle" font-weight="bold" fill="#111" stroke="#111" stroke-width="0.1" >−8</text>
<line x1="69.9" y1="133.8" x2="69.9" y2="137.1" stroke="#333" stroke-width="0.9" />
<text x="69.9" y="145.2" font-size="9.1" text-anchor="middle" font-weight="bold" fill="#111" stroke="#111" stroke-width="0.1" >−4</text>
<line x1="97.3" y1="133.8" x2="97.3" y2="137.1" stroke="#333" stroke-width="0.9" />
<text x="97.3" y="145.2" font-size="9.1" text-anchor="middle" font-weight="bold" fill="#111" stroke="#111" stroke-width="0.1" >0</text>
<line x1="124.7" y1="133.8" x2="124.7" y2="137.1" stroke="#333" stroke-width="0.9" />
<text x="124.7" y="145.2" font-size="9.1" text-anchor="middle" font-weight="bold" fill="#111" stroke="#111" stroke-width="0.1" >4</text>
<line x1="152.1" y1="133.8" x2="152.1" y2="137.1" stroke="#333" stroke-width="0.9" />
<text x="152.1" y="145.2" font-size="9.1" text-anchor="middle" font-weight="bold" fill="#111" stroke="#111" stroke-width="0.1" >8</text>
<text x="96" y="13.1" font-size="9.5" text-anchor="middle" font-weight="bold" fill="#111" stroke="#111" stroke-width="0.1" >GSE221812</text>
<text x="94.5" y="154.5" font-size="10.2" text-anchor="middle" font-weight="bold" fill="#111" stroke="#111" stroke-width="0.1" textLength="80.6" lengthAdjust="spacingAndGlyphs">log2 Fold Change</text>
<text transform="translate(13.5 79) rotate(-90)" font-size="9.6" text-anchor="middle" font-weight="bold" fill="#111" stroke="#111" stroke-width="0.1">−log10 p value</text>
<text x="46.8" y="25.8" font-size="7" text-anchor="start" font-weight="bold" fill="#4e9cbd" stroke="#4e9cbd" stroke-width="0.1" >Down:241</text>
<text x="115.7" y="25.8" font-size="7" text-anchor="start" font-weight="bold" fill="#c0505f" stroke="#c0505f" stroke-width="0.1" >Up:391</text>
<path d="M230.5 99.3 L230.5 101.7 L231.3 103 L232.2 104.2 L233 105.4 L233.8 106.6 L234.7 107.8 L235.5 108.9 L236.4 110 L237.2 111.1 L238.1 112.1 L238.9 113.1 L239.8 114.1 L240.6 115 L241.5 115.9 L242.3 116.8 L243.2 117.6 L244 118.4 L244.8 119.2 L245.7 119.9 L246.5 120.6 L247.4 121.3 L248.2 121.9 L249.1 122.6 L249.9 123.1 L250.8 123.7 L251.6 124.2 L252.5 124.6 L253.3 125.1 L254.1 125.5 L255 125.9 L255.8 126.2 L256.7 126.5 L257.5 126.8 L258.4 127.1 L259.2 127.3 L260.1 127.4 L260.9 127.6 L261.8 127.7 L262.6 127.8 L263.5 127.8 L264.3 127.9 L264.3 127.9 L265.2 127.8 L266 127.8 L266.9 127.7 L267.8 127.6 L268.6 127.4 L269.5 127.2 L270.4 127 L271.2 126.8 L272.1 126.5 L272.9 126.1 L273.8 125.8 L274.7 125.4 L275.5 125 L276.4 124.5 L277.3 124 L278.1 123.5 L279 122.9 L279.9 122.3 L280.7 121.7 L281.6 121 L282.5 120.3 L283.3 119.6 L284.2 118.8 L285.1 118 L285.9 117.2 L286.8 116.3 L287.6 115.4 L288.5 114.4 L289.4 113.5 L290.2 112.5 L291.1 111.4 L292 110.3 L292.8 109.2 L293.7 108.1 L294.6 106.9 L295.4 105.7 L296.3 104.4 L297.2 103.2 L298 101.8 L298.9 100.5 L298.9 99.3 L267.6 99.3 L264.3 126.5 L261 99.3Z" fill="#d6d6d6"/>
<circle cx="253.4" cy="102.2" r="0.6" fill="#fff"/>
<circle cx="282.3" cy="106.1" r="0.6" fill="#fff"/>
<circle cx="253.2" cy="102.5" r="0.6" fill="#fff"/>
<circle cx="296.2" cy="106.5" r="0.6" fill="#fff"/>
<circle cx="259.1" cy="107.1" r="0.6" fill="#fff"/>
<circle cx="291" cy="104.9" r="0.6" fill="#fff"/>
<circle cx="292.9" cy="100.6" r="0.6" fill="#fff"/>
<circle cx="276.6" cy="104.6" r="0.6" fill="#fff"/>
<circle cx="239.8" cy="102.3" r="0.6" fill="#fff"/>
<circle cx="244.7" cy="106.2" r="0.6" fill="#fff"/>
<circle cx="284.7" cy="101.8" r="0.6" fill="#fff"/>
<circle cx="247" cy="105.6" r="0.6" fill="#fff"/>
<circle cx="253.6" cy="108.7" r="0.6" fill="#fff"/>
<circle cx="247.8" cy="104.1" r="0.6" fill="#fff"/>
<circle cx="235.4" cy="100.9" r="0.6" fill="#fff"/>
<circle cx="253.2" cy="108.5" r="0.6" fill="#fff"/>
<circle cx="249.3" cy="99.9" r="0.6" fill="#fff"/>
<circle cx="277.6" cy="108.1" r="0.6" fill="#fff"/>
<circle cx="288.7" cy="102.9" r="0.6" fill="#fff"/>
<circle cx="240.4" cy="106.5" r="0.6" fill="#fff"/>
<circle cx="287.3" cy="105.8" r="0.6" fill="#fff"/>
<circle cx="278.2" cy="107" r="0.6" fill="#fff"/>
<circle cx="253.9" cy="106.6" r="0.6" fill="#fff"/>
<circle cx="251.6" cy="105.5" r="0.6" fill="#fff"/>
<circle cx="247.1" cy="107.1" r="0.6" fill="#fff"/>
<circle cx="243.5" cy="99.8" r="0.6" fill="#fff"/>
<circle cx="259.6" cy="100.9" r="0.6" fill="#fff"/>
<circle cx="238.9" cy="100.6" r="0.6" fill="#fff"/>
<circle cx="238" cy="107.1" r="0.6" fill="#fff"/>
<circle cx="255" cy="100" r="0.6" fill="#fff"/>
<circle cx="236.6" cy="105.8" r="0.6" fill="#fff"/>
<circle cx="248.6" cy="106.9" r="0.6" fill="#fff"/>
<circle cx="257.1" cy="103.6" r="0.6" fill="#fff"/>
<circle cx="278.7" cy="105.8" r="0.6" fill="#fff"/>
<circle cx="258.6" cy="99.8" r="0.6" fill="#fff"/>
<circle cx="244.9" cy="103.1" r="0.6" fill="#fff"/>
<circle cx="239.5" cy="101.5" r="0.6" fill="#fff"/>
<circle cx="290.1" cy="107.6" r="0.6" fill="#fff"/>
<circle cx="275.2" cy="109" r="0.6" fill="#fff"/>
<circle cx="286.9" cy="108.7" r="0.6" fill="#fff"/>
<circle cx="240" cy="103" r="0.6" fill="#fff"/>
<circle cx="243.9" cy="108.5" r="0.6" fill="#fff"/>
<circle cx="249.9" cy="106.7" r="0.6" fill="#fff"/>
<circle cx="289.8" cy="105.3" r="0.6" fill="#fff"/>
<circle cx="252" cy="103.9" r="0.6" fill="#fff"/>
<circle cx="283.5" cy="109.2" r="0.6" fill="#fff"/>
<circle cx="289.3" cy="105.6" r="0.6" fill="#fff"/>
<circle cx="278.3" cy="109.3" r="0.6" fill="#fff"/>
<circle cx="249.2" cy="101.5" r="0.6" fill="#fff"/>
<circle cx="287.6" cy="105.8" r="0.6" fill="#fff"/>
<circle cx="259.6" cy="86.7" r="0.8" fill="#d6d6d6"/>
<circle cx="264.3" cy="99" r="0.8" fill="#d6d6d6"/>
<circle cx="265.5" cy="95.7" r="0.8" fill="#d6d6d6"/>
<circle cx="261.6" cy="92.3" r="0.8" fill="#d6d6d6"/>
<circle cx="258.5" cy="93.7" r="0.8" fill="#d6d6d6"/>
<circle cx="264.5" cy="95.2" r="0.8" fill="#d6d6d6"/>
<circle cx="261.3" cy="99.3" r="0.8" fill="#d6d6d6"/>
<circle cx="264.6" cy="88" r="0.8" fill="#d6d6d6"/>
<circle cx="262.4" cy="93.7" r="0.8" fill="#d6d6d6"/>
<circle cx="263.8" cy="98.5" r="0.8" fill="#d6d6d6"/>
<circle cx="265.5" cy="93.9" r="0.8" fill="#d6d6d6"/>
<circle cx="263.8" cy="99.2" r="0.8" fill="#d6d6d6"/>
<circle cx="263" cy="95.6" r="0.8" fill="#d6d6d6"/>
<circle cx="262" cy="98.6" r="0.8" fill="#d6d6d6"/>
<circle cx="262.9" cy="94.5" r="0.8" fill="#d6d6d6"/>
<circle cx="266.5" cy="96.5" r="0.8" fill="#d6d6d6"/>
<circle cx="264.4" cy="87" r="0.8" fill="#d6d6d6"/>
<circle cx="260.9" cy="96.3" r="0.8" fill="#d6d6d6"/>
<circle cx="259.9" cy="98.6" r="0.8" fill="#d6d6d6"/>
<circle cx="264.4" cy="92.7" r="0.8" fill="#d6d6d6"/>
<circle cx="270.9" cy="98" r="0.8" fill="#d6d6d6"/>
<circle cx="267.3" cy="93.2" r="0.8" fill="#d6d6d6"/>
<circle cx="264.7" cy="96.9" r="0.8" fill="#d6d6d6"/>
<circle cx="264.1" cy="87.9" r="0.8" fill="#d6d6d6"/>
<circle cx="268.1" cy="98.6" r="0.8" fill="#d6d6d6"/>
<circle cx="266.6" cy="96.9" r="0.8" fill="#d6d6d6"/>
<circle cx="264.8" cy="93.1" r="0.8" fill="#d6d6d6"/>
<circle cx="265.8" cy="92" r="0.8" fill="#d6d6d6"/>
<circle cx="268.7" cy="95.9" r="0.8" fill="#d6d6d6"/>
<circle cx="266.2" cy="98" r="0.8" fill="#d6d6d6"/>
<circle cx="268.8" cy="104.5" r="0.8" fill="#d6d6d6"/>
<circle cx="261.6" cy="100.9" r="0.8" fill="#d6d6d6"/>
<circle cx="262.5" cy="99.6" r="0.8" fill="#d6d6d6"/>
<circle cx="264.9" cy="104.7" r="0.8" fill="#d6d6d6"/>
<circle cx="261.7" cy="103.2" r="0.8" fill="#d6d6d6"/>
<circle cx="267" cy="99.7" r="0.8" fill="#d6d6d6"/>
<circle cx="260.7" cy="103.4" r="0.8" fill="#d6d6d6"/>
<circle cx="261.5" cy="99.5" r="0.8" fill="#d6d6d6"/>
<circle cx="260.7" cy="105.7" r="0.8" fill="#d6d6d6"/>
<circle cx="259.7" cy="103.4" r="0.8" fill="#d6d6d6"/>
<circle cx="269.8" cy="100.1" r="0.8" fill="#d6d6d6"/>
<circle cx="267.8" cy="99.3" r="0.8" fill="#d6d6d6"/>
<circle cx="270.2" cy="103.8" r="0.8" fill="#d6d6d6"/>
<circle cx="261.2" cy="99.7" r="0.8" fill="#d6d6d6"/>
<circle cx="268" cy="105.8" r="0.8" fill="#d6d6d6"/>
<circle cx="267" cy="103.5" r="0.8" fill="#d6d6d6"/>
<circle cx="263.5" cy="103.8" r="0.8" fill="#d6d6d6"/>
<circle cx="261" cy="106" r="0.8" fill="#d6d6d6"/>
<circle cx="262.3" cy="103.6" r="0.8" fill="#d6d6d6"/>
<circle cx="270.5" cy="105.2" r="0.8" fill="#d6d6d6"/>
<circle cx="270.6" cy="104.6" r="0.8" fill="#d6d6d6"/>
<circle cx="263.3" cy="100.5" r="0.8" fill="#d6d6d6"/>
<circle cx="268.9" cy="103.1" r="0.8" fill="#d6d6d6"/>
<circle cx="259.6" cy="102.8" r="0.8" fill="#d6d6d6"/>
<circle cx="263.5" cy="99.8" r="0.8" fill="#d6d6d6"/>
<circle cx="261.3" cy="103.6" r="0.8" fill="#d6d6d6"/>
<circle cx="269.8" cy="105.8" r="0.8" fill="#d6d6d6"/>
<circle cx="263.9" cy="100.6" r="0.8" fill="#d6d6d6"/>
<circle cx="268.2" cy="105.7" r="0.8" fill="#d6d6d6"/>
<circle cx="259.4" cy="105.6" r="0.8" fill="#d6d6d6"/>
<line x1="196.8" y1="99.3" x2="322.6" y2="99.3" stroke="#222" stroke-width="0.8" stroke-dasharray="3 1.3 1 1.3"/>
<line x1="256.3" y1="25.5" x2="256.3" y2="132.2" stroke="#222" stroke-width="0.8" stroke-dasharray="3 1.3 1 1.3"/>
<line x1="271.9" y1="25.5" x2="271.9" y2="132.2" stroke="#222" stroke-width="0.8" stroke-dasharray="3 1.3 1 1.3"/>
<circle cx="208.5" cy="81.2" r="0.85" fill="#4e9cbd"/>
<circle cx="207.4" cy="88.1" r="0.85" fill="#4e9cbd"/>
<circle cx="207.9" cy="89.4" r="0.85" fill="#4e9cbd"/>
<circle cx="208.2" cy="90.3" r="0.85" fill="#4e9cbd"/>
<circle cx="208.8" cy="90" r="0.85" fill="#4e9cbd"/>
<circle cx="209.5" cy="90.3" r="0.85" fill="#4e9cbd"/>
<circle cx="210.4" cy="91.7" r="0.85" fill="#4e9cbd"/>
<circle cx="210.2" cy="89.8" r="0.85" fill="#4e9cbd"/>
<circle cx="210.1" cy="92.6" r="0.85" fill="#4e9cbd"/>
<circle cx="211.2" cy="92.6" r="0.85" fill="#4e9cbd"/>
<circle cx="211.8" cy="93.4" r="0.85" fill="#4e9cbd"/>
<circle cx="212.2" cy="93.7" r="0.85" fill="#4e9cbd"/>
<circle cx="212.8" cy="95.5" r="0.85" fill="#4e9cbd"/>
<circle cx="212.8" cy="94.8" r="0.85" fill="#4e9cbd"/>
<circle cx="213.2" cy="96" r="0.85" fill="#4e9cbd"/>
<circle cx="230.4" cy="90.4" r="0.85" fill="#4e9cbd"/>
<circle cx="231.9" cy="94.9" r="0.85" fill="#4e9cbd"/>
<circle cx="233.4" cy="98.2" r="0.85" fill="#4e9cbd"/>
<circle cx="243.9" cy="70.3" r="0.85" fill="#4e9cbd"/>
<circle cx="247.7" cy="88.2" r="0.85" fill="#4e9cbd"/>
<circle cx="246.2" cy="97.1" r="0.85" fill="#4e9cbd"/>
<circle cx="249.2" cy="93.7" r="0.85" fill="#4e9cbd"/>
<circle cx="252.2" cy="63.6" r="0.85" fill="#4e9cbd"/>
<circle cx="254.5" cy="60.3" r="0.85" fill="#4e9cbd"/>
<circle cx="253.7" cy="85.9" r="0.85" fill="#4e9cbd"/>
<circle cx="256" cy="88.2" r="0.85" fill="#4e9cbd"/>
<circle cx="256.7" cy="84.8" r="0.85" fill="#4e9cbd"/>
<circle cx="255.2" cy="92.6" r="0.85" fill="#4e9cbd"/>
<circle cx="257.5" cy="96" r="0.85" fill="#4e9cbd"/>
<circle cx="253" cy="94.9" r="0.85" fill="#4e9cbd"/>
<circle cx="254.5" cy="98.2" r="0.85" fill="#4e9cbd"/>
<circle cx="258.2" cy="89.3" r="0.85" fill="#4e9cbd"/>
<circle cx="256.7" cy="97.1" r="0.85" fill="#4e9cbd"/>
<circle cx="251.5" cy="90.4" r="0.85" fill="#4e9cbd"/>
<circle cx="257.1" cy="91.5" r="0.85" fill="#4e9cbd"/>
<circle cx="277" cy="29.1" r="0.85" fill="#c0505f"/>
<circle cx="280" cy="68.1" r="0.85" fill="#c0505f"/>
<circle cx="281.5" cy="77" r="0.85" fill="#c0505f"/>
<circle cx="274.8" cy="83.7" r="0.85" fill="#c0505f"/>
<circle cx="276.3" cy="91.5" r="0.85" fill="#c0505f"/>
<circle cx="277.8" cy="96" r="0.85" fill="#c0505f"/>
<circle cx="280.8" cy="94.9" r="0.85" fill="#c0505f"/>
<circle cx="285.3" cy="92.6" r="0.85" fill="#c0505f"/>
<circle cx="286.1" cy="98.2" r="0.85" fill="#c0505f"/>
<circle cx="283.8" cy="96" r="0.85" fill="#c0505f"/>
<circle cx="289.1" cy="98.2" r="0.85" fill="#c0505f"/>
<circle cx="293.6" cy="98.2" r="0.85" fill="#c0505f"/>
<circle cx="291.3" cy="97.1" r="0.85" fill="#c0505f"/>
<circle cx="300.3" cy="83.7" r="0.85" fill="#c0505f"/>
<circle cx="299.6" cy="88.2" r="0.85" fill="#c0505f"/>
<circle cx="298.8" cy="92.6" r="0.85" fill="#c0505f"/>
<circle cx="298.1" cy="97.1" r="0.85" fill="#c0505f"/>
<circle cx="279.3" cy="98.2" r="0.85" fill="#c0505f"/>
<circle cx="282.3" cy="93.7" r="0.85" fill="#c0505f"/>
<circle cx="316.3" cy="94.8" r="0.85" fill="#c0505f"/>
<circle cx="316.6" cy="93.5" r="0.85" fill="#c0505f"/>
<circle cx="316.9" cy="93.3" r="0.85" fill="#c0505f"/>
<circle cx="317.1" cy="94.2" r="0.85" fill="#c0505f"/>
<circle cx="317.4" cy="92.6" r="0.85" fill="#c0505f"/>
<circle cx="317.6" cy="92.6" r="0.85" fill="#c0505f"/>
<circle cx="318.3" cy="92.7" r="0.85" fill="#c0505f"/>
<circle cx="318.6" cy="90.5" r="0.85" fill="#c0505f"/>
<circle cx="318.5" cy="91.3" r="0.85" fill="#c0505f"/>
<circle cx="319" cy="90" r="0.85" fill="#c0505f"/>
<circle cx="319.4" cy="90" r="0.85" fill="#c0505f"/>
<circle cx="319.4" cy="90.3" r="0.85" fill="#c0505f"/>
<circle cx="319.9" cy="91.1" r="0.85" fill="#c0505f"/>
<circle cx="320.7" cy="88.9" r="0.85" fill="#c0505f"/>
<line x1="196.8" y1="25.5" x2="196.8" y2="132.7" stroke="#6a6a6a" stroke-width="1.6" />
<line x1="196.3" y1="132.2" x2="322.6" y2="132.2" stroke="#333" stroke-width="1.1" />
<line x1="195.2" y1="128.3" x2="196.8" y2="128.3" stroke="#444" stroke-width="0.9" />
<text x="194.4" y="131.5" font-size="9.1" text-anchor="end" font-weight="bold" fill="#111" stroke="#111" stroke-width="0.1" >0</text>
<line x1="195.2" y1="106" x2="196.8" y2="106" stroke="#444" stroke-width="0.9" />
<text x="194.4" y="109.2" font-size="9.1" text-anchor="end" font-weight="bold" fill="#111" stroke="#111" stroke-width="0.1" >1</text>
<line x1="195.2" y1="83.7" x2="196.8" y2="83.7" stroke="#444" stroke-width="0.9" />
<text x="194.4" y="86.9" font-size="9.1" text-anchor="end" font-weight="bold" fill="#111" stroke="#111" stroke-width="0.1" >2</text>
<line x1="195.2" y1="61.4" x2="196.8" y2="61.4" stroke="#444" stroke-width="0.9" />
<text x="194.4" y="64.6" font-size="9.1" text-anchor="end" font-weight="bold" fill="#111" stroke="#111" stroke-width="0.1" >3</text>
<line x1="195.2" y1="39.1" x2="196.8" y2="39.1" stroke="#444" stroke-width="0.9" />
<text x="194.4" y="42.3" font-size="9.1" text-anchor="end" font-weight="bold" fill="#111" stroke="#111" stroke-width="0.1" >4</text>
<line x1="213.9" y1="132.2" x2="213.9" y2="135.5" stroke="#333" stroke-width="0.9" />
<text x="213.9" y="143.6" font-size="9.1" text-anchor="middle" font-weight="bold" fill="#111" stroke="#111" stroke-width="0.1" >−7.0</text>
<line x1="240.2" y1="132.2" x2="240.2" y2="135.5" stroke="#333" stroke-width="0.9" />
<text x="240.2" y="143.6" font-size="9.1" text-anchor="middle" font-weight="bold" fill="#111" stroke="#111" stroke-width="0.1" >−3.5</text>
<line x1="266.5" y1="132.2" x2="266.5" y2="135.5" stroke="#333" stroke-width="0.9" />
<text x="266.5" y="143.6" font-size="9.1" text-anchor="middle" font-weight="bold" fill="#111" stroke="#111" stroke-width="0.1" >0.0</text>
<line x1="292.8" y1="132.2" x2="292.8" y2="135.5" stroke="#333" stroke-width="0.9" />
<text x="292.8" y="143.6" font-size="9.1" text-anchor="middle" font-weight="bold" fill="#111" stroke="#111" stroke-width="0.1" >3.5</text>
<line x1="319.1" y1="132.2" x2="319.1" y2="135.5" stroke="#333" stroke-width="0.9" />
<text x="319.1" y="143.6" font-size="9.1" text-anchor="middle" font-weight="bold" fill="#111" stroke="#111" stroke-width="0.1" >7.0</text>
<text x="259" y="13.3" font-size="9.5" text-anchor="middle" font-weight="bold" fill="#111" stroke="#111" stroke-width="0.1" >GSE268499</text>
<text x="263" y="153" font-size="10.2" text-anchor="middle" font-weight="bold" fill="#111" stroke="#111" stroke-width="0.1" textLength="80.6" lengthAdjust="spacingAndGlyphs">log2 Fold Change</text>
<text transform="translate(183.5 78) rotate(-90)" font-size="9.6" text-anchor="middle" font-weight="bold" fill="#111" stroke="#111" stroke-width="0.1">−log10 p value</text>
<text x="215.4" y="31.5" font-size="7" text-anchor="start" font-weight="bold" fill="#4e9cbd" stroke="#4e9cbd" stroke-width="0.1" >Down:216</text>
<text x="291.6" y="31.5" font-size="7" text-anchor="start" font-weight="bold" fill="#c0505f" stroke="#c0505f" stroke-width="0.1" >Up:205</text>
<path d="M403.5 91.1 L403.5 99.1 L404.3 100.4 L405.1 101.7 L405.9 102.9 L406.7 104.2 L407.5 105.3 L408.3 106.5 L409.1 107.6 L409.9 108.6 L410.7 109.7 L411.5 110.7 L412.3 111.7 L413 112.6 L413.8 113.5 L414.6 114.4 L415.4 115.2 L416.2 116 L417 116.8 L417.8 117.6 L418.6 118.3 L419.4 119 L420.2 119.6 L421 120.2 L421.8 120.8 L422.6 121.3 L423.4 121.8 L424.2 122.3 L425 122.8 L425.8 123.2 L426.6 123.6 L427.4 123.9 L428.1 124.2 L428.9 124.5 L429.7 124.8 L430.5 125 L431.3 125.1 L432.1 125.3 L432.9 125.4 L433.7 125.5 L434.5 125.5 L435.3 125.6 L435.3 125.6 L436.1 125.5 L437 125.5 L437.8 125.4 L438.7 125.3 L439.5 125.2 L440.4 125 L441.2 124.8 L442 124.6 L442.9 124.4 L443.7 124.1 L444.6 123.8 L445.4 123.4 L446.3 123.1 L447.1 122.7 L447.9 122.3 L448.8 121.8 L449.6 121.3 L450.5 120.8 L451.3 120.3 L452.2 119.7 L453 119.1 L453.8 118.5 L454.7 117.8 L455.5 117.1 L456.4 116.4 L457.2 115.6 L458.1 114.9 L458.9 114 L459.7 113.2 L460.6 112.3 L461.4 111.4 L462.3 110.5 L463.1 109.6 L464 108.6 L464.8 107.6 L465.6 106.5 L466.5 105.4 L467.3 104.3 L468.2 103.2 L469 102.1 L469 91.1 L451 91.1 L435.3 123.9 L419.6 91.1Z" fill="#d6d6d6"/>
<circle cx="464.5" cy="100.2" r="0.6" fill="#fff"/>
<circle cx="420.3" cy="98.9" r="0.6" fill="#fff"/>
<circle cx="460" cy="101.5" r="0.6" fill="#fff"/>
<circle cx="465" cy="98.3" r="0.6" fill="#fff"/>
<circle cx="451.9" cy="106" r="0.6" fill="#fff"/>
<circle cx="421.8" cy="95.7" r="0.6" fill="#fff"/>
<circle cx="419.4" cy="99.2" r="0.6" fill="#fff"/>
<circle cx="458" cy="91.9" r="0.6" fill="#fff"/>
<circle cx="459.9" cy="95.6" r="0.6" fill="#fff"/>
<circle cx="422.3" cy="97.7" r="0.6" fill="#fff"/>
<circle cx="453.6" cy="101.6" r="0.6" fill="#fff"/>
<circle cx="422.7" cy="103.7" r="0.6" fill="#fff"/>
<circle cx="424.9" cy="107.2" r="0.6" fill="#fff"/>
<circle cx="451.3" cy="99.1" r="0.6" fill="#fff"/>
<circle cx="417.1" cy="102.6" r="0.6" fill="#fff"/>
<circle cx="421.3" cy="97.5" r="0.6" fill="#fff"/>
<circle cx="448.4" cy="107" r="0.6" fill="#fff"/>
<circle cx="411.2" cy="100.2" r="0.6" fill="#fff"/>
<circle cx="412.6" cy="93.7" r="0.6" fill="#fff"/>
<circle cx="453.3" cy="103.1" r="0.6" fill="#fff"/>
<circle cx="424.2" cy="94.5" r="0.6" fill="#fff"/>
<circle cx="457.1" cy="98.2" r="0.6" fill="#fff"/>
<circle cx="450.2" cy="93.2" r="0.6" fill="#fff"/>
<circle cx="424.1" cy="106.9" r="0.6" fill="#fff"/>
<circle cx="420.6" cy="106.4" r="0.6" fill="#fff"/>
<circle cx="425.1" cy="98.7" r="0.6" fill="#fff"/>
<circle cx="422.5" cy="104.2" r="0.6" fill="#fff"/>
<circle cx="461.5" cy="104.5" r="0.6" fill="#fff"/>
<circle cx="446.5" cy="97.5" r="0.6" fill="#fff"/>
<circle cx="459.5" cy="107.2" r="0.6" fill="#fff"/>
<circle cx="460.1" cy="100" r="0.6" fill="#fff"/>
<circle cx="448.8" cy="91.7" r="0.6" fill="#fff"/>
<circle cx="449.9" cy="106.7" r="0.6" fill="#fff"/>
<circle cx="463.1" cy="92.8" r="0.6" fill="#fff"/>
<circle cx="459.5" cy="103.1" r="0.6" fill="#fff"/>
<circle cx="459" cy="93" r="0.6" fill="#fff"/>
<circle cx="451.2" cy="92.8" r="0.6" fill="#fff"/>
<circle cx="423.6" cy="99.4" r="0.6" fill="#fff"/>
<circle cx="420.1" cy="103.6" r="0.6" fill="#fff"/>
<circle cx="406.5" cy="95.6" r="0.6" fill="#fff"/>
<circle cx="449.1" cy="101.2" r="0.6" fill="#fff"/>
<circle cx="417.8" cy="94" r="0.6" fill="#fff"/>
<circle cx="454.7" cy="99" r="0.6" fill="#fff"/>
<circle cx="408.2" cy="100.4" r="0.6" fill="#fff"/>
<circle cx="413.9" cy="102.5" r="0.6" fill="#fff"/>
<circle cx="390.1" cy="100" r="0.8" fill="#d6d6d6"/>
<circle cx="396.1" cy="104.6" r="0.8" fill="#d6d6d6"/>
<circle cx="397.4" cy="105.9" r="0.8" fill="#d6d6d6"/>
<circle cx="398.7" cy="107.3" r="0.8" fill="#d6d6d6"/>
<circle cx="400.1" cy="108.3" r="0.8" fill="#d6d6d6"/>
<circle cx="401.4" cy="109.7" r="0.8" fill="#d6d6d6"/>
<circle cx="402.7" cy="110.8" r="0.8" fill="#d6d6d6"/>
<circle cx="404.7" cy="111.3" r="0.8" fill="#d6d6d6"/>
<circle cx="405.7" cy="111.8" r="0.8" fill="#d6d6d6"/>
<circle cx="473.9" cy="101.9" r="0.8" fill="#d6d6d6"/>
<circle cx="475.9" cy="99.2" r="0.8" fill="#d6d6d6"/>
<circle cx="478.5" cy="96.5" r="0.8" fill="#d6d6d6"/>
<circle cx="483.2" cy="92.5" r="0.8" fill="#d6d6d6"/>
<circle cx="471.9" cy="103.2" r="0.8" fill="#d6d6d6"/>
<circle cx="474.5" cy="105.9" r="0.8" fill="#d6d6d6"/>
<circle cx="428.4" cy="99.4" r="0.8" fill="#d6d6d6"/>
<circle cx="436.6" cy="102.5" r="0.8" fill="#d6d6d6"/>
<circle cx="440.6" cy="111.8" r="0.8" fill="#d6d6d6"/>
<circle cx="433.3" cy="109.3" r="0.8" fill="#d6d6d6"/>
<circle cx="441.9" cy="109.4" r="0.8" fill="#d6d6d6"/>
<circle cx="427.2" cy="95.1" r="0.8" fill="#d6d6d6"/>
<circle cx="444.7" cy="93.6" r="0.8" fill="#d6d6d6"/>
<circle cx="439.3" cy="98.2" r="0.8" fill="#d6d6d6"/>
<circle cx="433.4" cy="105.7" r="0.8" fill="#d6d6d6"/>
<circle cx="442.2" cy="102.8" r="0.8" fill="#d6d6d6"/>
<circle cx="439.1" cy="95.9" r="0.8" fill="#d6d6d6"/>
<circle cx="431" cy="106" r="0.8" fill="#d6d6d6"/>
<circle cx="432.9" cy="104.3" r="0.8" fill="#d6d6d6"/>
<circle cx="428.7" cy="101.8" r="0.8" fill="#d6d6d6"/>
<circle cx="440.9" cy="112.6" r="0.8" fill="#d6d6d6"/>
<circle cx="434.2" cy="102.6" r="0.8" fill="#d6d6d6"/>
<circle cx="442.5" cy="99.3" r="0.8" fill="#d6d6d6"/>
<circle cx="443.6" cy="94.6" r="0.8" fill="#d6d6d6"/>
<circle cx="427.2" cy="104" r="0.8" fill="#d6d6d6"/>
<circle cx="432.9" cy="104.9" r="0.8" fill="#d6d6d6"/>
<circle cx="435.4" cy="95.4" r="0.8" fill="#d6d6d6"/>
<circle cx="424.6" cy="98.5" r="0.8" fill="#d6d6d6"/>
<circle cx="441.1" cy="109.8" r="0.8" fill="#d6d6d6"/>
<circle cx="439.1" cy="105.9" r="0.8" fill="#d6d6d6"/>
<circle cx="438.5" cy="110.9" r="0.8" fill="#d6d6d6"/>
<circle cx="439.5" cy="93.4" r="0.8" fill="#d6d6d6"/>
<circle cx="423.1" cy="95.8" r="0.8" fill="#d6d6d6"/>
<circle cx="436.7" cy="111.2" r="0.8" fill="#d6d6d6"/>
<circle cx="425.9" cy="97.7" r="0.8" fill="#d6d6d6"/>
<circle cx="440.6" cy="109.8" r="0.8" fill="#d6d6d6"/>
<circle cx="440.5" cy="106.5" r="0.8" fill="#d6d6d6"/>
<circle cx="440.1" cy="95.5" r="0.8" fill="#d6d6d6"/>
<circle cx="428.5" cy="97.1" r="0.8" fill="#d6d6d6"/>
<circle cx="438.2" cy="94.7" r="0.8" fill="#d6d6d6"/>
<circle cx="432.5" cy="107.2" r="0.8" fill="#d6d6d6"/>
<circle cx="444.4" cy="99.4" r="0.8" fill="#d6d6d6"/>
<circle cx="430.5" cy="102.8" r="0.8" fill="#d6d6d6"/>
<circle cx="434.7" cy="91.9" r="0.8" fill="#d6d6d6"/>
<circle cx="437.9" cy="99.9" r="0.8" fill="#d6d6d6"/>
<circle cx="433.3" cy="107.5" r="0.8" fill="#d6d6d6"/>
<circle cx="433.9" cy="108.4" r="0.8" fill="#d6d6d6"/>
<circle cx="430.2" cy="99" r="0.8" fill="#d6d6d6"/>
<circle cx="433.2" cy="105.6" r="0.8" fill="#d6d6d6"/>
<circle cx="429.2" cy="95.6" r="0.8" fill="#d6d6d6"/>
<circle cx="423.9" cy="96.1" r="0.8" fill="#d6d6d6"/>
<line x1="367.6" y1="91.1" x2="494.6" y2="91.1" stroke="#222" stroke-width="0.8" stroke-dasharray="3 1.3 1 1.3"/>
<line x1="428.3" y1="23.4" x2="428.3" y2="130.8" stroke="#222" stroke-width="0.8" stroke-dasharray="3 1.3 1 1.3"/>
<line x1="441.6" y1="23.4" x2="441.6" y2="130.8" stroke="#222" stroke-width="0.8" stroke-dasharray="3 1.3 1 1.3"/>
<circle cx="399.1" cy="68.3" r="0.85" fill="#4e9cbd"/>
<circle cx="403" cy="87.3" r="0.85" fill="#4e9cbd"/>
<circle cx="397.9" cy="67.3" r="0.85" fill="#4e9cbd"/>
<circle cx="400" cy="79.4" r="0.85" fill="#4e9cbd"/>
<circle cx="397.9" cy="69.3" r="0.85" fill="#4e9cbd"/>
<circle cx="402.3" cy="86" r="0.85" fill="#4e9cbd"/>
<circle cx="402.6" cy="86" r="0.85" fill="#4e9cbd"/>
<circle cx="402.7" cy="89.1" r="0.85" fill="#4e9cbd"/>
<circle cx="398.4" cy="67.7" r="0.85" fill="#4e9cbd"/>
<circle cx="397.6" cy="67.3" r="0.85" fill="#4e9cbd"/>
<circle cx="404.1" cy="89.8" r="0.85" fill="#4e9cbd"/>
<circle cx="396.8" cy="64.1" r="0.85" fill="#4e9cbd"/>
<circle cx="399.6" cy="72.3" r="0.85" fill="#4e9cbd"/>
<circle cx="402.9" cy="88.6" r="0.85" fill="#4e9cbd"/>
<circle cx="396.6" cy="64.8" r="0.85" fill="#4e9cbd"/>
<circle cx="399.4" cy="72.2" r="0.85" fill="#4e9cbd"/>
<circle cx="409.4" cy="65.6" r="0.85" fill="#4e9cbd"/>
<circle cx="409.4" cy="83.1" r="0.85" fill="#4e9cbd"/>
<circle cx="412" cy="83.1" r="0.85" fill="#4e9cbd"/>
<circle cx="413.4" cy="85.8" r="0.85" fill="#4e9cbd"/>
<circle cx="418" cy="83.1" r="0.85" fill="#4e9cbd"/>
<circle cx="416.7" cy="88.4" r="0.85" fill="#4e9cbd"/>
<circle cx="411.4" cy="88.4" r="0.85" fill="#4e9cbd"/>
<circle cx="408.7" cy="89.8" r="0.85" fill="#4e9cbd"/>
<circle cx="414.7" cy="89.8" r="0.85" fill="#4e9cbd"/>
<circle cx="396.1" cy="62.9" r="0.85" fill="#4e9cbd"/>
<circle cx="481.2" cy="26.6" r="0.85" fill="#c0505f"/>
<circle cx="477.2" cy="48.1" r="0.85" fill="#c0505f"/>
<circle cx="464.6" cy="72.3" r="0.85" fill="#c0505f"/>
<circle cx="457.2" cy="79" r="0.85" fill="#c0505f"/>
<circle cx="461.9" cy="83.1" r="0.85" fill="#c0505f"/>
<circle cx="459.2" cy="84.4" r="0.85" fill="#c0505f"/>
<circle cx="471.9" cy="73.6" r="0.85" fill="#c0505f"/>
<circle cx="472.5" cy="72.3" r="0.85" fill="#c0505f"/>
<circle cx="469.9" cy="80.4" r="0.85" fill="#c0505f"/>
<circle cx="469.2" cy="84.4" r="0.85" fill="#c0505f"/>
<circle cx="468.6" cy="87.1" r="0.85" fill="#c0505f"/>
<circle cx="468.6" cy="89" r="0.85" fill="#c0505f"/>
<circle cx="469.2" cy="90.3" r="0.85" fill="#c0505f"/>
<circle cx="453.9" cy="88.4" r="0.85" fill="#c0505f"/>
<circle cx="457.2" cy="88.4" r="0.85" fill="#c0505f"/>
<circle cx="460.6" cy="89.8" r="0.85" fill="#c0505f"/>
<circle cx="463.9" cy="88.4" r="0.85" fill="#c0505f"/>
<circle cx="451.9" cy="90.3" r="0.85" fill="#c0505f"/>
<circle cx="487.8" cy="90.3" r="0.85" fill="#c0505f"/>
<circle cx="466.6" cy="90.3" r="0.85" fill="#c0505f"/>
<circle cx="467.9" cy="85.8" r="0.85" fill="#c0505f"/>
<line x1="367.6" y1="23.4" x2="367.6" y2="131.3" stroke="#6a6a6a" stroke-width="1.6" />
<line x1="367.1" y1="130.8" x2="494.6" y2="130.8" stroke="#333" stroke-width="1.1" />
<line x1="366" y1="126.1" x2="367.6" y2="126.1" stroke="#444" stroke-width="0.9" />
<text x="365.2" y="129.3" font-size="9.1" text-anchor="end" font-weight="bold" fill="#111" stroke="#111" stroke-width="0.1" >0</text>
<line x1="366" y1="99.2" x2="367.6" y2="99.2" stroke="#444" stroke-width="0.9" />
<text x="365.2" y="102.4" font-size="9.1" text-anchor="end" font-weight="bold" fill="#111" stroke="#111" stroke-width="0.1" >1</text>
<line x1="366" y1="72.3" x2="367.6" y2="72.3" stroke="#444" stroke-width="0.9" />
<text x="365.2" y="75.5" font-size="9.1" text-anchor="end" font-weight="bold" fill="#111" stroke="#111" stroke-width="0.1" >2</text>
<line x1="366" y1="45.4" x2="367.6" y2="45.4" stroke="#444" stroke-width="0.9" />
<text x="365.2" y="48.6" font-size="9.1" text-anchor="end" font-weight="bold" fill="#111" stroke="#111" stroke-width="0.1" >3</text>
<line x1="382.1" y1="130.8" x2="382.1" y2="134.1" stroke="#333" stroke-width="0.9" />
<text x="382.1" y="142.2" font-size="9.1" text-anchor="middle" font-weight="bold" fill="#111" stroke="#111" stroke-width="0.1" >−8</text>
<line x1="408.7" y1="130.8" x2="408.7" y2="134.1" stroke="#333" stroke-width="0.9" />
<text x="408.7" y="142.2" font-size="9.1" text-anchor="middle" font-weight="bold" fill="#111" stroke="#111" stroke-width="0.1" >−4</text>
<line x1="435.3" y1="130.8" x2="435.3" y2="134.1" stroke="#333" stroke-width="0.9" />
<text x="435.3" y="142.2" font-size="9.1" text-anchor="middle" font-weight="bold" fill="#111" stroke="#111" stroke-width="0.1" >0</text>
<line x1="461.9" y1="130.8" x2="461.9" y2="134.1" stroke="#333" stroke-width="0.9" />
<text x="461.9" y="142.2" font-size="9.1" text-anchor="middle" font-weight="bold" fill="#111" stroke="#111" stroke-width="0.1" >4</text>
<line x1="488.5" y1="130.8" x2="488.5" y2="134.1" stroke="#333" stroke-width="0.9" />
<text x="488.5" y="142.2" font-size="9.1" text-anchor="middle" font-weight="bold" fill="#111" stroke="#111" stroke-width="0.1" >8</text>
<text x="431" y="12.8" font-size="9.5" text-anchor="middle" font-weight="bold" fill="#111" stroke="#111" stroke-width="0.1" >GSE198740</text>
<text x="434.6" y="154" font-size="10.2" text-anchor="middle" font-weight="bold" fill="#111" stroke="#111" stroke-width="0.1" textLength="80.6" lengthAdjust="spacingAndGlyphs">log2 Fold Change</text>
<text transform="translate(354 75) rotate(-90)" font-size="9.6" text-anchor="middle" font-weight="bold" fill="#111" stroke="#111" stroke-width="0.1">−log10 p value</text>
<text x="387.9" y="30.5" font-size="7" text-anchor="start" font-weight="bold" fill="#4e9cbd" stroke="#4e9cbd" stroke-width="0.1" >Down:47</text>
<text x="458.7" y="30.5" font-size="7" text-anchor="start" font-weight="bold" fill="#c0505f" stroke="#c0505f" stroke-width="0.1" >Up:30</text>
<text x="2.8" y="12.4" font-size="16.3" text-anchor="start" font-weight="bold" fill="#111" stroke="#111" stroke-width="0.1" >A</text>
<text x="492.8" y="12.4" font-size="16.3" text-anchor="start" font-weight="bold" fill="#111" stroke="#111" stroke-width="0.1" >B</text>
<g stroke="#fff" stroke-width="0.8">
<circle cx="578.5" cy="70.3" r="48.8" fill="#f08c8c" fill-opacity="1"/>
</g>
<defs><clipPath id="cR"><circle cx="578.5" cy="70.3" r="48.8"/></clipPath><clipPath id="cB"><circle cx="626.3" cy="70" r="48.8"/></clipPath><clipPath id="cG"><circle cx="602.5" cy="112" r="48.8"/></clipPath></defs>
<circle cx="626.3" cy="70" r="48.8" fill="#9296fb"/>
<circle cx="602.5" cy="112" r="48.8" fill="#aef59a"/>
<g clip-path="url(#cR)"><circle cx="626.3" cy="70" r="48.8" fill="#8e58d8"/></g>
<g clip-path="url(#cR)"><circle cx="602.5" cy="112" r="48.8" fill="#a8cf5c"/></g>
<g clip-path="url(#cB)"><circle cx="602.5" cy="112" r="48.8" fill="#78dc9c"/></g>
<g clip-path="url(#cR)"><g clip-path="url(#cB)"><circle cx="602.5" cy="112" r="48.8" fill="#6aa876"/></g></g>
<g fill="none" stroke="#fff" stroke-width="0.7"><circle cx="578.5" cy="70.3" r="48.8"/><circle cx="626.3" cy="70" r="48.8"/><circle cx="602.5" cy="112" r="48.8"/></g>
<text x="542.6" y="15.5" font-size="9.5" text-anchor="middle" font-weight="bold" fill="#111" stroke="#111" stroke-width="0.1" >GSE221812</text>
<text x="655.5" y="15.5" font-size="9.5" text-anchor="middle" font-weight="bold" fill="#111" stroke="#111" stroke-width="0.1" >GSE268499</text>
<text x="609.5" y="173.3" font-size="9.5" text-anchor="middle" font-weight="bold" fill="#111" stroke="#111" stroke-width="0.1" >GSE198740</text>
<text x="559.2" y="59.2" font-size="8.8" text-anchor="middle" font-weight="bold" fill="#111" stroke="#111" stroke-width="0.1" >565</text>
<text x="602.7" y="52.3" font-size="8.8" text-anchor="middle" font-weight="bold" fill="#111" stroke="#111" stroke-width="0.1" >45</text>
<text x="651.3" y="59.2" font-size="8.8" text-anchor="middle" font-weight="bold" fill="#111" stroke="#111" stroke-width="0.1" >355</text>
<text x="603" y="88" font-size="8.8" text-anchor="middle" font-weight="bold" fill="#c0392b" stroke="#c0392b" stroke-width="0.1" >15</text>
<text x="569.8" y="102.9" font-size="8.8" text-anchor="middle" font-weight="bold" fill="#111" stroke="#111" stroke-width="0.1" >7</text>
<text x="631.3" y="102.9" font-size="8.8" text-anchor="middle" font-weight="bold" fill="#111" stroke="#111" stroke-width="0.1" >6</text>
<text x="604" y="141.3" font-size="8.8" text-anchor="middle" font-weight="bold" fill="#111" stroke="#111" stroke-width="0.1" >49</text>
<text x="1.8" y="181.2" font-size="16.3" text-anchor="start" font-weight="bold" fill="#111" stroke="#111" stroke-width="0.1" >C</text>
<rect x="17.3" y="207.6" width="27.8" height="5" fill="#78fbfc" stroke="none" stroke-width="1" />
<rect x="45.1" y="207.6" width="27.8" height="5" fill="#fd78fb" stroke="none" stroke-width="1" />
<text x="31.2" y="205.8" font-size="6.9" text-anchor="middle" font-weight="bold" fill="#111" stroke="#111" stroke-width="0.1" >Normal</text>
<text x="59" y="205.8" font-size="6.9" text-anchor="middle" font-weight="bold" fill="#111" stroke="#111" stroke-width="0.1" >COPD</text>
<rect x="17.3" y="215.2" width="9.3" height="11.2" fill="#6aa9c0" stroke="none" stroke-width="1" />
<rect x="26.6" y="215.2" width="9.3" height="11.2" fill="#6aa9c0" stroke="none" stroke-width="1" />
<rect x="35.8" y="215.2" width="9.3" height="11.2" fill="#6aa9c0" stroke="none" stroke-width="1" />
<rect x="45.1" y="215.2" width="9.3" height="11.2" fill="#e1a6ae" stroke="none" stroke-width="1" />
<rect x="54.4" y="215.2" width="9.3" height="11.2" fill="#bfdae4" stroke="none" stroke-width="1" />
<rect x="63.6" y="215.2" width="9.3" height="11.2" fill="#edcbd0" stroke="none" stroke-width="1" />
<rect x="17.3" y="226.4" width="9.3" height="11.2" fill="#6aa9c0" stroke="none" stroke-width="1" />
<rect x="26.6" y="226.4" width="9.3" height="11.2" fill="#6aa9c0" stroke="none" stroke-width="1" />
<rect x="35.8" y="226.4" width="9.3" height="11.2" fill="#6aa9c0" stroke="none" stroke-width="1" />
<rect x="45.1" y="226.4" width="9.3" height="11.2" fill="#d07480" stroke="none" stroke-width="1" />
<rect x="54.4" y="226.4" width="9.3" height="11.2" fill="#ddebf1" stroke="none" stroke-width="1" />
<rect x="63.6" y="226.4" width="9.3" height="11.2" fill="#f7e9eb" stroke="none" stroke-width="1" />
<rect x="17.3" y="237.6" width="9.3" height="11.2" fill="#6aa9c0" stroke="none" stroke-width="1" />
<rect x="26.6" y="237.6" width="9.3" height="11.2" fill="#6aa9c0" stroke="none" stroke-width="1" />
<rect x="35.8" y="237.6" width="9.3" height="11.2" fill="#6aa9c0" stroke="none" stroke-width="1" />
<rect x="45.1" y="237.6" width="9.3" height="11.2" fill="#ddebf1" stroke="none" stroke-width="1" />
<rect x="54.4" y="237.6" width="9.3" height="11.2" fill="#bfdae4" stroke="none" stroke-width="1" />
<rect x="63.6" y="237.6" width="9.3" height="11.2" fill="#ddebf1" stroke="none" stroke-width="1" />
<rect x="17.3" y="248.8" width="9.3" height="11.2" fill="#82b6ca" stroke="none" stroke-width="1" />
<rect x="26.6" y="248.8" width="9.3" height="11.2" fill="#82b6ca" stroke="none" stroke-width="1" />
<rect x="35.8" y="248.8" width="9.3" height="11.2" fill="#82b6ca" stroke="none" stroke-width="1" />
<rect x="45.1" y="248.8" width="9.3" height="11.2" fill="#a0c8d7" stroke="none" stroke-width="1" />
<rect x="54.4" y="248.8" width="9.3" height="11.2" fill="#82b6ca" stroke="none" stroke-width="1" />
<rect x="63.6" y="248.8" width="9.3" height="11.2" fill="#bfdae4" stroke="none" stroke-width="1" />
<rect x="17.3" y="260" width="9.3" height="11.2" fill="#82b6ca" stroke="none" stroke-width="1" />
<rect x="26.6" y="260" width="9.3" height="11.2" fill="#82b6ca" stroke="none" stroke-width="1" />
<rect x="35.8" y="260" width="9.3" height="11.2" fill="#82b6ca" stroke="none" stroke-width="1" />
<rect x="45.1" y="260" width="9.3" height="11.2" fill="#ffffff" stroke="none" stroke-width="1" />
<rect x="54.4" y="260" width="9.3" height="11.2" fill="#bfdae4" stroke="none" stroke-width="1" />
<rect x="63.6" y="260" width="9.3" height="11.2" fill="#a0c8d7" stroke="none" stroke-width="1" />
<rect x="17.3" y="271.2" width="9.3" height="11.2" fill="#6aa9c0" stroke="none" stroke-width="1" />
<rect x="26.6" y="271.2" width="9.3" height="11.2" fill="#6aa9c0" stroke="none" stroke-width="1" />
<rect x="35.8" y="271.2" width="9.3" height="11.2" fill="#6aa9c0" stroke="none" stroke-width="1" />
<rect x="45.1" y="271.2" width="9.3" height="11.2" fill="#bfdae4" stroke="none" stroke-width="1" />
<rect x="54.4" y="271.2" width="9.3" height="11.2" fill="#edcbd0" stroke="none" stroke-width="1" />
<rect x="63.6" y="271.2" width="9.3" height="11.2" fill="#edcbd0" stroke="none" stroke-width="1" />
<rect x="17.3" y="282.4" width="9.3" height="11.2" fill="#82b6ca" stroke="none" stroke-width="1" />
<rect x="26.6" y="282.4" width="9.3" height="11.2" fill="#82b6ca" stroke="none" stroke-width="1" />
<rect x="35.8" y="282.4" width="9.3" height="11.2" fill="#82b6ca" stroke="none" stroke-width="1" />
<rect x="45.1" y="282.4" width="9.3" height="11.2" fill="#82b6ca" stroke="none" stroke-width="1" />
<rect x="54.4" y="282.4" width="9.3" height="11.2" fill="#ddebf1" stroke="none" stroke-width="1" />
<rect x="63.6" y="282.4" width="9.3" height="11.2" fill="#e1a6ae" stroke="none" stroke-width="1" />
<rect x="17.3" y="293.6" width="9.3" height="11.2" fill="#6aa9c0" stroke="none" stroke-width="1" />
<rect x="26.6" y="293.6" width="9.3" height="11.2" fill="#6aa9c0" stroke="none" stroke-width="1" />
<rect x="35.8" y="293.6" width="9.3" height="11.2" fill="#6aa9c0" stroke="none" stroke-width="1" />
<rect x="45.1" y="293.6" width="9.3" height="11.2" fill="#a0c8d7" stroke="none" stroke-width="1" />
<rect x="54.4" y="293.6" width="9.3" height="11.2" fill="#ddebf1" stroke="none" stroke-width="1" />
<rect x="63.6" y="293.6" width="9.3" height="11.2" fill="#f7e9eb" stroke="none" stroke-width="1" />
<rect x="17.3" y="304.8" width="9.3" height="11.2" fill="#ddebf1" stroke="none" stroke-width="1" />
<rect x="26.6" y="304.8" width="9.3" height="11.2" fill="#e1a6ae" stroke="none" stroke-width="1" />
<rect x="35.8" y="304.8" width="9.3" height="11.2" fill="#6aa9c0" stroke="none" stroke-width="1" />
<rect x="45.1" y="304.8" width="9.3" height="11.2" fill="#6aa9c0" stroke="none" stroke-width="1" />
<rect x="54.4" y="304.8" width="9.3" height="11.2" fill="#6aa9c0" stroke="none" stroke-width="1" />
<rect x="63.6" y="304.8" width="9.3" height="11.2" fill="#6aa9c0" stroke="none" stroke-width="1" />
<rect x="17.3" y="316" width="9.3" height="11.2" fill="#ffffff" stroke="none" stroke-width="1" />
<rect x="26.6" y="316" width="9.3" height="11.2" fill="#ddebf1" stroke="none" stroke-width="1" />
<rect x="35.8" y="316" width="9.3" height="11.2" fill="#6aa9c0" stroke="none" stroke-width="1" />
<rect x="45.1" y="316" width="9.3" height="11.2" fill="#6aa9c0" stroke="none" stroke-width="1" />
<rect x="54.4" y="316" width="9.3" height="11.2" fill="#6aa9c0" stroke="none" stroke-width="1" />
<rect x="63.6" y="316" width="9.3" height="11.2" fill="#6aa9c0" stroke="none" stroke-width="1" />
<rect x="17.3" y="327.2" width="9.3" height="11.2" fill="#c55564" stroke="none" stroke-width="1" />
<rect x="26.6" y="327.2" width="9.3" height="11.2" fill="#edcbd0" stroke="none" stroke-width="1" />
<rect x="35.8" y="327.2" width="9.3" height="11.2" fill="#82b6ca" stroke="none" stroke-width="1" />
<rect x="45.1" y="327.2" width="9.3" height="11.2" fill="#82b6ca" stroke="none" stroke-width="1" />
<rect x="54.4" y="327.2" width="9.3" height="11.2" fill="#82b6ca" stroke="none" stroke-width="1" />
<rect x="63.6" y="327.2" width="9.3" height="11.2" fill="#82b6ca" stroke="none" stroke-width="1" />
<rect x="17.3" y="338.4" width="9.3" height="11.2" fill="#c55564" stroke="none" stroke-width="1" />
<rect x="26.6" y="338.4" width="9.3" height="11.2" fill="#82b6ca" stroke="none" stroke-width="1" />
<rect x="35.8" y="338.4" width="9.3" height="11.2" fill="#edcbd0" stroke="none" stroke-width="1" />
<rect x="45.1" y="338.4" width="9.3" height="11.2" fill="#82b6ca" stroke="none" stroke-width="1" />
<rect x="54.4" y="338.4" width="9.3" height="11.2" fill="#82b6ca" stroke="none" stroke-width="1" />
<rect x="63.6" y="338.4" width="9.3" height="11.2" fill="#82b6ca" stroke="none" stroke-width="1" />
<rect x="17.3" y="349.6" width="9.3" height="11.2" fill="#f3f8fa" stroke="none" stroke-width="1" />
<rect x="26.6" y="349.6" width="9.3" height="11.2" fill="#edcbd0" stroke="none" stroke-width="1" />
<rect x="35.8" y="349.6" width="9.3" height="11.2" fill="#edcbd0" stroke="none" stroke-width="1" />
<rect x="45.1" y="349.6" width="9.3" height="11.2" fill="#6aa9c0" stroke="none" stroke-width="1" />
<rect x="54.4" y="349.6" width="9.3" height="11.2" fill="#6aa9c0" stroke="none" stroke-width="1" />
<rect x="63.6" y="349.6" width="9.3" height="11.2" fill="#6aa9c0" stroke="none" stroke-width="1" />
<rect x="17.3" y="360.8" width="9.3" height="11.2" fill="#f3f8fa" stroke="none" stroke-width="1" />
<rect x="26.6" y="360.8" width="9.3" height="11.2" fill="#ddebf1" stroke="none" stroke-width="1" />
<rect x="35.8" y="360.8" width="9.3" height="11.2" fill="#c55564" stroke="none" stroke-width="1" />
<rect x="45.1" y="360.8" width="9.3" height="11.2" fill="#6aa9c0" stroke="none" stroke-width="1" />
<rect x="54.4" y="360.8" width="9.3" height="11.2" fill="#6aa9c0" stroke="none" stroke-width="1" />
<rect x="63.6" y="360.8" width="9.3" height="11.2" fill="#6aa9c0" stroke="none" stroke-width="1" />
<rect x="17.3" y="372" width="9.3" height="11.2" fill="#f3f8fa" stroke="none" stroke-width="1" />
<rect x="26.6" y="372" width="9.3" height="11.2" fill="#ddebf1" stroke="none" stroke-width="1" />
<rect x="35.8" y="372" width="9.3" height="11.2" fill="#c55564" stroke="none" stroke-width="1" />
<rect x="45.1" y="372" width="9.3" height="11.2" fill="#6aa9c0" stroke="none" stroke-width="1" />
<rect x="54.4" y="372" width="9.3" height="11.2" fill="#6aa9c0" stroke="none" stroke-width="1" />
<rect x="63.6" y="372" width="9.3" height="11.2" fill="#6aa9c0" stroke="none" stroke-width="1" />
<path d="M17.3 215.2V383.2M26.6 215.2V383.2M35.8 215.2V383.2M45.1 215.2V383.2M54.4 215.2V383.2M63.6 215.2V383.2M72.9 215.2V383.2M17.3 215.2H72.9M17.3 226.4H72.9M17.3 237.6H72.9M17.3 248.8H72.9M17.3 260H72.9M17.3 271.2H72.9M17.3 282.4H72.9M17.3 293.6H72.9M17.3 304.8H72.9M17.3 316H72.9M17.3 327.2H72.9M17.3 338.4H72.9M17.3 349.6H72.9M17.3 360.8H72.9M17.3 372H72.9M17.3 383.2H72.9" stroke="#262626" stroke-width="0.8" fill="none"/>
<text x="76.1" y="223.1" font-size="6.6" text-anchor="start" font-weight="bold" fill="#111" stroke="#111" stroke-width="0.1" >circIRAK3(Ex.2−6)</text>
<text x="76.1" y="234.3" font-size="6.6" text-anchor="start" font-weight="bold" fill="#111" stroke="#111" stroke-width="0.1" >circCKAP5(Ex.37−40)</text>
<text x="76.1" y="245.5" font-size="6.6" text-anchor="start" font-weight="bold" fill="#111" stroke="#111" stroke-width="0.1" >circTBC1D22A(Ex.10−12)</text>
<text x="76.1" y="256.7" font-size="6.6" text-anchor="start" font-weight="bold" fill="#111" stroke="#111" stroke-width="0.1" >circACADM(Ex.2−5)</text>
<text x="76.1" y="267.9" font-size="6.6" text-anchor="start" font-weight="bold" fill="#111" stroke="#111" stroke-width="0.1" >circFCHO2(Ex.17−21)</text>
<text x="76.1" y="279.1" font-size="6.6" text-anchor="start" font-weight="bold" fill="#111" stroke="#111" stroke-width="0.1" >circSLC39A8(Ex.6−9)</text>
<text x="76.1" y="290.3" font-size="6.6" text-anchor="start" font-weight="bold" fill="#111" stroke="#111" stroke-width="0.1" >circPTPN22(Ex.4−7)</text>
<text x="76.1" y="301.5" font-size="6.6" text-anchor="start" font-weight="bold" fill="#111" stroke="#111" stroke-width="0.1" >circMBOAT2(Ex.10−12)</text>
<text x="76.1" y="312.7" font-size="6.6" text-anchor="start" font-weight="bold" fill="#111" stroke="#111" stroke-width="0.1" >circRNF213(Ex.19−21)</text>
<text x="76.1" y="323.9" font-size="6.6" text-anchor="start" font-weight="bold" fill="#111" stroke="#111" stroke-width="0.1" >circKIF11(Ex.11−12)</text>
<text x="76.1" y="335.1" font-size="6.6" text-anchor="start" font-weight="bold" fill="#111" stroke="#111" stroke-width="0.1" >circRNF34(Ex.2−3)</text>
<text x="76.1" y="346.3" font-size="6.6" text-anchor="start" font-weight="bold" fill="#111" stroke="#111" stroke-width="0.1" >circRBM5(Ex.4−10)</text>
<text x="76.1" y="357.5" font-size="6.6" text-anchor="start" font-weight="bold" fill="#111" stroke="#111" stroke-width="0.1" >circMYBL1(Ex.5−6)</text>
<text x="76.1" y="368.7" font-size="6.6" text-anchor="start" font-weight="bold" fill="#111" stroke="#111" stroke-width="0.1" >circBNC2(Ex.5−6)</text>
<text x="76.1" y="379.9" font-size="6.6" text-anchor="start" font-weight="bold" fill="#111" stroke="#111" stroke-width="0.1" >circMALT1(Ex.3−4)</text>
<text x="72.5" y="190.3" font-size="11.3" text-anchor="middle" font-weight="bold" fill="#111" stroke="#111" stroke-width="0.1" >GSE221812</text>
<defs><linearGradient id="zg1" x1="0" x2="1" y1="0" y2="0"><stop offset="0" stop-color="#569db7"/><stop offset="0.52" stop-color="#ffffff"/><stop offset="1" stop-color="#c04656"/></linearGradient></defs>
<rect x="14.7" y="390.5" width="110.3" height="7.5" fill="url(#zg1)" stroke="none" stroke-width="1" />
<text x="41.2" y="407.5" font-size="7" text-anchor="middle" font-weight="bold" fill="#111" stroke="#111" stroke-width="0.1" >0</text>
<text x="70" y="407.5" font-size="7" text-anchor="middle" font-weight="bold" fill="#111" stroke="#111" stroke-width="0.1" >1</text>
<text x="98.4" y="407.5" font-size="7" text-anchor="middle" font-weight="bold" fill="#111" stroke="#111" stroke-width="0.1" >2</text>
<text x="66.6" y="417.3" font-size="9.3" text-anchor="middle" font-weight="bold" fill="#111" stroke="#111" stroke-width="0.1" >Z-score</text>
<rect x="162.2" y="206.6" width="46.8" height="5" fill="#78fbfc" stroke="none" stroke-width="1" />
<rect x="208.9" y="206.6" width="46.8" height="5" fill="#fd78fb" stroke="none" stroke-width="1" />
<text x="185.6" y="204.8" font-size="6.9" text-anchor="middle" font-weight="bold" fill="#111" stroke="#111" stroke-width="0.1" >Normal</text>
<text x="232.3" y="204.8" font-size="6.9" text-anchor="middle" font-weight="bold" fill="#111" stroke="#111" stroke-width="0.1" >COPD</text>
<rect x="162.2" y="214.2" width="9.3" height="11.4" fill="#6aa9c0" stroke="none" stroke-width="1" />
<rect x="171.5" y="214.2" width="9.3" height="11.4" fill="#6aa9c0" stroke="none" stroke-width="1" />
<rect x="180.9" y="214.2" width="9.3" height="11.4" fill="#6aa9c0" stroke="none" stroke-width="1" />
<rect x="190.2" y="214.2" width="9.3" height="11.4" fill="#6aa9c0" stroke="none" stroke-width="1" />
<rect x="199.6" y="214.2" width="9.3" height="11.4" fill="#6aa9c0" stroke="none" stroke-width="1" />
<rect x="208.9" y="214.2" width="9.3" height="11.4" fill="#f7e9eb" stroke="none" stroke-width="1" />
<rect x="218.3" y="214.2" width="9.3" height="11.4" fill="#6aa9c0" stroke="none" stroke-width="1" />
<rect x="227.6" y="214.2" width="9.3" height="11.4" fill="#d07480" stroke="none" stroke-width="1" />
<rect x="237" y="214.2" width="9.3" height="11.4" fill="#6aa9c0" stroke="none" stroke-width="1" />
<rect x="246.3" y="214.2" width="9.3" height="11.4" fill="#6aa9c0" stroke="none" stroke-width="1" />
<rect x="162.2" y="225.6" width="9.3" height="11.4" fill="#6aa9c0" stroke="none" stroke-width="1" />
<rect x="171.5" y="225.6" width="9.3" height="11.4" fill="#6aa9c0" stroke="none" stroke-width="1" />
<rect x="180.9" y="225.6" width="9.3" height="11.4" fill="#6aa9c0" stroke="none" stroke-width="1" />
<rect x="190.2" y="225.6" width="9.3" height="11.4" fill="#6aa9c0" stroke="none" stroke-width="1" />
<rect x="199.6" y="225.6" width="9.3" height="11.4" fill="#6aa9c0" stroke="none" stroke-width="1" />
<rect x="208.9" y="225.6" width="9.3" height="11.4" fill="#6aa9c0" stroke="none" stroke-width="1" />
<rect x="218.3" y="225.6" width="9.3" height="11.4" fill="#6aa9c0" stroke="none" stroke-width="1" />
<rect x="227.6" y="225.6" width="9.3" height="11.4" fill="#e1a6ae" stroke="none" stroke-width="1" />
<rect x="237" y="225.6" width="9.3" height="11.4" fill="#e1a6ae" stroke="none" stroke-width="1" />
<rect x="246.3" y="225.6" width="9.3" height="11.4" fill="#6aa9c0" stroke="none" stroke-width="1" />
<rect x="162.2" y="237.1" width="9.3" height="11.4" fill="#6aa9c0" stroke="none" stroke-width="1" />
<rect x="171.5" y="237.1" width="9.3" height="11.4" fill="#6aa9c0" stroke="none" stroke-width="1" />
<rect x="180.9" y="237.1" width="9.3" height="11.4" fill="#6aa9c0" stroke="none" stroke-width="1" />
<rect x="190.2" y="237.1" width="9.3" height="11.4" fill="#6aa9c0" stroke="none" stroke-width="1" />
<rect x="199.6" y="237.1" width="9.3" height="11.4" fill="#6aa9c0" stroke="none" stroke-width="1" />
<rect x="208.9" y="237.1" width="9.3" height="11.4" fill="#edcbd0" stroke="none" stroke-width="1" />
<rect x="218.3" y="237.1" width="9.3" height="11.4" fill="#edcbd0" stroke="none" stroke-width="1" />
<rect x="227.6" y="237.1" width="9.3" height="11.4" fill="#6aa9c0" stroke="none" stroke-width="1" />
<rect x="237" y="237.1" width="9.3" height="11.4" fill="#6aa9c0" stroke="none" stroke-width="1" />
<rect x="246.3" y="237.1" width="9.3" height="11.4" fill="#f7e9eb" stroke="none" stroke-width="1" />
<rect x="162.2" y="248.5" width="9.3" height="11.4" fill="#6aa9c0" stroke="none" stroke-width="1" />
<rect x="171.5" y="248.5" width="9.3" height="11.4" fill="#6aa9c0" stroke="none" stroke-width="1" />
<rect x="180.9" y="248.5" width="9.3" height="11.4" fill="#6aa9c0" stroke="none" stroke-width="1" />
<rect x="190.2" y="248.5" width="9.3" height="11.4" fill="#6aa9c0" stroke="none" stroke-width="1" />
<rect x="199.6" y="248.5" width="9.3" height="11.4" fill="#6aa9c0" stroke="none" stroke-width="1" />
<rect x="208.9" y="248.5" width="9.3" height="11.4" fill="#6aa9c0" stroke="none" stroke-width="1" />
<rect x="218.3" y="248.5" width="9.3" height="11.4" fill="#f7e9eb" stroke="none" stroke-width="1" />
<rect x="227.6" y="248.5" width="9.3" height="11.4" fill="#6aa9c0" stroke="none" stroke-width="1" />
<rect x="237" y="248.5" width="9.3" height="11.4" fill="#6aa9c0" stroke="none" stroke-width="1" />
<rect x="246.3" y="248.5" width="9.3" height="11.4" fill="#c55564" stroke="none" stroke-width="1" />
<rect x="162.2" y="260" width="9.3" height="11.4" fill="#6aa9c0" stroke="none" stroke-width="1" />
<rect x="171.5" y="260" width="9.3" height="11.4" fill="#6aa9c0" stroke="none" stroke-width="1" />
<rect x="180.9" y="260" width="9.3" height="11.4" fill="#6aa9c0" stroke="none" stroke-width="1" />
<rect x="190.2" y="260" width="9.3" height="11.4" fill="#6aa9c0" stroke="none" stroke-width="1" />
<rect x="199.6" y="260" width="9.3" height="11.4" fill="#6aa9c0" stroke="none" stroke-width="1" />
<rect x="208.9" y="260" width="9.3" height="11.4" fill="#6aa9c0" stroke="none" stroke-width="1" />
<rect x="218.3" y="260" width="9.3" height="11.4" fill="#edcbd0" stroke="none" stroke-width="1" />
<rect x="227.6" y="260" width="9.3" height="11.4" fill="#6aa9c0" stroke="none" stroke-width="1" />
<rect x="237" y="260" width="9.3" height="11.4" fill="#d07480" stroke="none" stroke-width="1" />
<rect x="246.3" y="260" width="9.3" height="11.4" fill="#6aa9c0" stroke="none" stroke-width="1" />
<rect x="162.2" y="271.4" width="9.3" height="11.4" fill="#6aa9c0" stroke="none" stroke-width="1" />
<rect x="171.5" y="271.4" width="9.3" height="11.4" fill="#6aa9c0" stroke="none" stroke-width="1" />
<rect x="180.9" y="271.4" width="9.3" height="11.4" fill="#6aa9c0" stroke="none" stroke-width="1" />
<rect x="190.2" y="271.4" width="9.3" height="11.4" fill="#6aa9c0" stroke="none" stroke-width="1" />
<rect x="199.6" y="271.4" width="9.3" height="11.4" fill="#6aa9c0" stroke="none" stroke-width="1" />
<rect x="208.9" y="271.4" width="9.3" height="11.4" fill="#c55564" stroke="none" stroke-width="1" />
<rect x="218.3" y="271.4" width="9.3" height="11.4" fill="#6aa9c0" stroke="none" stroke-width="1" />
<rect x="227.6" y="271.4" width="9.3" height="11.4" fill="#6aa9c0" stroke="none" stroke-width="1" />
<rect x="237" y="271.4" width="9.3" height="11.4" fill="#ddebf1" stroke="none" stroke-width="1" />
<rect x="246.3" y="271.4" width="9.3" height="11.4" fill="#6aa9c0" stroke="none" stroke-width="1" />
<rect x="162.2" y="282.9" width="9.3" height="11.4" fill="#6aa9c0" stroke="none" stroke-width="1" />
<rect x="171.5" y="282.9" width="9.3" height="11.4" fill="#6aa9c0" stroke="none" stroke-width="1" />
<rect x="180.9" y="282.9" width="9.3" height="11.4" fill="#6aa9c0" stroke="none" stroke-width="1" />
<rect x="190.2" y="282.9" width="9.3" height="11.4" fill="#6aa9c0" stroke="none" stroke-width="1" />
<rect x="199.6" y="282.9" width="9.3" height="11.4" fill="#6aa9c0" stroke="none" stroke-width="1" />
<rect x="208.9" y="282.9" width="9.3" height="11.4" fill="#edcbd0" stroke="none" stroke-width="1" />
<rect x="218.3" y="282.9" width="9.3" height="11.4" fill="#edcbd0" stroke="none" stroke-width="1" />
<rect x="227.6" y="282.9" width="9.3" height="11.4" fill="#ffffff" stroke="none" stroke-width="1" />
<rect x="237" y="282.9" width="9.3" height="11.4" fill="#6aa9c0" stroke="none" stroke-width="1" />
<rect x="246.3" y="282.9" width="9.3" height="11.4" fill="#6aa9c0" stroke="none" stroke-width="1" />
<rect x="162.2" y="294.3" width="9.3" height="11.4" fill="#6aa9c0" stroke="none" stroke-width="1" />
<rect x="171.5" y="294.3" width="9.3" height="11.4" fill="#6aa9c0" stroke="none" stroke-width="1" />
<rect x="180.9" y="294.3" width="9.3" height="11.4" fill="#6aa9c0" stroke="none" stroke-width="1" />
<rect x="190.2" y="294.3" width="9.3" height="11.4" fill="#6aa9c0" stroke="none" stroke-width="1" />
<rect x="199.6" y="294.3" width="9.3" height="11.4" fill="#6aa9c0" stroke="none" stroke-width="1" />
<rect x="208.9" y="294.3" width="9.3" height="11.4" fill="#edcbd0" stroke="none" stroke-width="1" />
<rect x="218.3" y="294.3" width="9.3" height="11.4" fill="#edcbd0" stroke="none" stroke-width="1" />
<rect x="227.6" y="294.3" width="9.3" height="11.4" fill="#6aa9c0" stroke="none" stroke-width="1" />
<rect x="237" y="294.3" width="9.3" height="11.4" fill="#ffffff" stroke="none" stroke-width="1" />
<rect x="246.3" y="294.3" width="9.3" height="11.4" fill="#6aa9c0" stroke="none" stroke-width="1" />
<rect x="162.2" y="305.8" width="9.3" height="11.4" fill="#c55564" stroke="none" stroke-width="1" />
<rect x="171.5" y="305.8" width="9.3" height="11.4" fill="#ddebf1" stroke="none" stroke-width="1" />
<rect x="180.9" y="305.8" width="9.3" height="11.4" fill="#6aa9c0" stroke="none" stroke-width="1" />
<rect x="190.2" y="305.8" width="9.3" height="11.4" fill="#6aa9c0" stroke="none" stroke-width="1" />
<rect x="199.6" y="305.8" width="9.3" height="11.4" fill="#6aa9c0" stroke="none" stroke-width="1" />
<rect x="208.9" y="305.8" width="9.3" height="11.4" fill="#6aa9c0" stroke="none" stroke-width="1" />
<rect x="218.3" y="305.8" width="9.3" height="11.4" fill="#6aa9c0" stroke="none" stroke-width="1" />
<rect x="227.6" y="305.8" width="9.3" height="11.4" fill="#6aa9c0" stroke="none" stroke-width="1" />
<rect x="237" y="305.8" width="9.3" height="11.4" fill="#6aa9c0" stroke="none" stroke-width="1" />
<rect x="246.3" y="305.8" width="9.3" height="11.4" fill="#6aa9c0" stroke="none" stroke-width="1" />
<rect x="162.2" y="317.2" width="9.3" height="11.4" fill="#edcbd0" stroke="none" stroke-width="1" />
<rect x="171.5" y="317.2" width="9.3" height="11.4" fill="#6aa9c0" stroke="none" stroke-width="1" />
<rect x="180.9" y="317.2" width="9.3" height="11.4" fill="#6aa9c0" stroke="none" stroke-width="1" />
<rect x="190.2" y="317.2" width="9.3" height="11.4" fill="#d07480" stroke="none" stroke-width="1" />
<rect x="199.6" y="317.2" width="9.3" height="11.4" fill="#6aa9c0" stroke="none" stroke-width="1" />
<rect x="208.9" y="317.2" width="9.3" height="11.4" fill="#6aa9c0" stroke="none" stroke-width="1" />
<rect x="218.3" y="317.2" width="9.3" height="11.4" fill="#6aa9c0" stroke="none" stroke-width="1" />
<rect x="227.6" y="317.2" width="9.3" height="11.4" fill="#6aa9c0" stroke="none" stroke-width="1" />
<rect x="237" y="317.2" width="9.3" height="11.4" fill="#6aa9c0" stroke="none" stroke-width="1" />
<rect x="246.3" y="317.2" width="9.3" height="11.4" fill="#6aa9c0" stroke="none" stroke-width="1" />
<rect x="162.2" y="328.7" width="9.3" height="11.4" fill="#e1a6ae" stroke="none" stroke-width="1" />
<rect x="171.5" y="328.7" width="9.3" height="11.4" fill="#6aa9c0" stroke="none" stroke-width="1" />
<rect x="180.9" y="328.7" width="9.3" height="11.4" fill="#6aa9c0" stroke="none" stroke-width="1" />
<rect x="190.2" y="328.7" width="9.3" height="11.4" fill="#ffffff" stroke="none" stroke-width="1" />
<rect x="199.6" y="328.7" width="9.3" height="11.4" fill="#ffffff" stroke="none" stroke-width="1" />
<rect x="208.9" y="328.7" width="9.3" height="11.4" fill="#6aa9c0" stroke="none" stroke-width="1" />
<rect x="218.3" y="328.7" width="9.3" height="11.4" fill="#6aa9c0" stroke="none" stroke-width="1" />
<rect x="227.6" y="328.7" width="9.3" height="11.4" fill="#6aa9c0" stroke="none" stroke-width="1" />
<rect x="237" y="328.7" width="9.3" height="11.4" fill="#6aa9c0" stroke="none" stroke-width="1" />
<rect x="246.3" y="328.7" width="9.3" height="11.4" fill="#6aa9c0" stroke="none" stroke-width="1" />
<rect x="162.2" y="340.1" width="9.3" height="11.4" fill="#6aa9c0" stroke="none" stroke-width="1" />
<rect x="171.5" y="340.1" width="9.3" height="11.4" fill="#c55564" stroke="none" stroke-width="1" />
<rect x="180.9" y="340.1" width="9.3" height="11.4" fill="#6aa9c0" stroke="none" stroke-width="1" />
<rect x="190.2" y="340.1" width="9.3" height="11.4" fill="#6aa9c0" stroke="none" stroke-width="1" />
<rect x="199.6" y="340.1" width="9.3" height="11.4" fill="#ffffff" stroke="none" stroke-width="1" />
<rect x="208.9" y="340.1" width="9.3" height="11.4" fill="#6aa9c0" stroke="none" stroke-width="1" />
<rect x="218.3" y="340.1" width="9.3" height="11.4" fill="#6aa9c0" stroke="none" stroke-width="1" />
<rect x="227.6" y="340.1" width="9.3" height="11.4" fill="#6aa9c0" stroke="none" stroke-width="1" />
<rect x="237" y="340.1" width="9.3" height="11.4" fill="#6aa9c0" stroke="none" stroke-width="1" />
<rect x="246.3" y="340.1" width="9.3" height="11.4" fill="#6aa9c0" stroke="none" stroke-width="1" />
<rect x="162.2" y="351.6" width="9.3" height="11.4" fill="#6aa9c0" stroke="none" stroke-width="1" />
<rect x="171.5" y="351.6" width="9.3" height="11.4" fill="#e1a6ae" stroke="none" stroke-width="1" />
<rect x="180.9" y="351.6" width="9.3" height="11.4" fill="#e1a6ae" stroke="none" stroke-width="1" />
<rect x="190.2" y="351.6" width="9.3" height="11.4" fill="#6aa9c0" stroke="none" stroke-width="1" />
<rect x="199.6" y="351.6" width="9.3" height="11.4" fill="#6aa9c0" stroke="none" stroke-width="1" />
<rect x="208.9" y="351.6" width="9.3" height="11.4" fill="#6aa9c0" stroke="none" stroke-width="1" />
<rect x="218.3" y="351.6" width="9.3" height="11.4" fill="#6aa9c0" stroke="none" stroke-width="1" />
<rect x="227.6" y="351.6" width="9.3" height="11.4" fill="#6aa9c0" stroke="none" stroke-width="1" />
<rect x="237" y="351.6" width="9.3" height="11.4" fill="#6aa9c0" stroke="none" stroke-width="1" />
<rect x="246.3" y="351.6" width="9.3" height="11.4" fill="#6aa9c0" stroke="none" stroke-width="1" />
<rect x="162.2" y="363" width="9.3" height="11.4" fill="#6aa9c0" stroke="none" stroke-width="1" />
<rect x="171.5" y="363" width="9.3" height="11.4" fill="#6aa9c0" stroke="none" stroke-width="1" />
<rect x="180.9" y="363" width="9.3" height="11.4" fill="#c55564" stroke="none" stroke-width="1" />
<rect x="190.2" y="363" width="9.3" height="11.4" fill="#ffffff" stroke="none" stroke-width="1" />
<rect x="199.6" y="363" width="9.3" height="11.4" fill="#6aa9c0" stroke="none" stroke-width="1" />
<rect x="208.9" y="363" width="9.3" height="11.4" fill="#6aa9c0" stroke="none" stroke-width="1" />
<rect x="218.3" y="363" width="9.3" height="11.4" fill="#6aa9c0" stroke="none" stroke-width="1" />
<rect x="227.6" y="363" width="9.3" height="11.4" fill="#6aa9c0" stroke="none" stroke-width="1" />
<rect x="237" y="363" width="9.3" height="11.4" fill="#6aa9c0" stroke="none" stroke-width="1" />
<rect x="246.3" y="363" width="9.3" height="11.4" fill="#6aa9c0" stroke="none" stroke-width="1" />
<rect x="162.2" y="374.5" width="9.3" height="11.4" fill="#ffffff" stroke="none" stroke-width="1" />
<rect x="171.5" y="374.5" width="9.3" height="11.4" fill="#6aa9c0" stroke="none" stroke-width="1" />
<rect x="180.9" y="374.5" width="9.3" height="11.4" fill="#edcbd0" stroke="none" stroke-width="1" />
<rect x="190.2" y="374.5" width="9.3" height="11.4" fill="#6aa9c0" stroke="none" stroke-width="1" />
<rect x="199.6" y="374.5" width="9.3" height="11.4" fill="#e1a6ae" stroke="none" stroke-width="1" />
<rect x="208.9" y="374.5" width="9.3" height="11.4" fill="#6aa9c0" stroke="none" stroke-width="1" />
<rect x="218.3" y="374.5" width="9.3" height="11.4" fill="#6aa9c0" stroke="none" stroke-width="1" />
<rect x="227.6" y="374.5" width="9.3" height="11.4" fill="#6aa9c0" stroke="none" stroke-width="1" />
<rect x="237" y="374.5" width="9.3" height="11.4" fill="#6aa9c0" stroke="none" stroke-width="1" />
<rect x="246.3" y="374.5" width="9.3" height="11.4" fill="#6aa9c0" stroke="none" stroke-width="1" />
<path d="M162.2 214.2V385.9M171.5 214.2V385.9M180.9 214.2V385.9M190.2 214.2V385.9M199.6 214.2V385.9M208.9 214.2V385.9M218.3 214.2V385.9M227.6 214.2V385.9M237 214.2V385.9M246.3 214.2V385.9M255.7 214.2V385.9M162.2 214.2H255.7M162.2 225.6H255.7M162.2 237.1H255.7M162.2 248.5H255.7M162.2 260H255.7M162.2 271.4H255.7M162.2 282.9H255.7M162.2 294.3H255.7M162.2 305.8H255.7M162.2 317.2H255.7M162.2 328.7H255.7M162.2 340.1H255.7M162.2 351.6H255.7M162.2 363H255.7M162.2 374.5H255.7M162.2 385.9H255.7" stroke="#262626" stroke-width="0.8" fill="none"/>
<text x="257.6" y="222.2" font-size="6.6" text-anchor="start" font-weight="bold" fill="#111" stroke="#111" stroke-width="0.1" >circIRAK3(Ex.2−6)</text>
<text x="257.6" y="233.7" font-size="6.6" text-anchor="start" font-weight="bold" fill="#111" stroke="#111" stroke-width="0.1" >circACADM(Ex.2−5)</text>
<text x="257.6" y="245.1" font-size="6.6" text-anchor="start" font-weight="bold" fill="#111" stroke="#111" stroke-width="0.1" >circPTPN22(Ex.4−7)</text>
<text x="257.6" y="256.6" font-size="6.6" text-anchor="start" font-weight="bold" fill="#111" stroke="#111" stroke-width="0.1" >circSLC39A8(Ex.6−9)</text>
<text x="257.6" y="268" font-size="6.6" text-anchor="start" font-weight="bold" fill="#111" stroke="#111" stroke-width="0.1" >circTBC1D22A(Ex.10−12)</text>
<text x="257.6" y="279.5" font-size="6.6" text-anchor="start" font-weight="bold" fill="#111" stroke="#111" stroke-width="0.1" >circMBOAT2(Ex.10−12)</text>
<text x="257.6" y="290.9" font-size="6.6" text-anchor="start" font-weight="bold" fill="#111" stroke="#111" stroke-width="0.1" >circFCHO2(Ex.17−21)</text>
<text x="257.6" y="302.4" font-size="6.6" text-anchor="start" font-weight="bold" fill="#111" stroke="#111" stroke-width="0.1" >circCKAP5(Ex.37−40)</text>
<text x="257.6" y="313.8" font-size="6.6" text-anchor="start" font-weight="bold" fill="#111" stroke="#111" stroke-width="0.1" >circRNF213(Ex.19−21)</text>
<text x="257.6" y="325.3" font-size="6.6" text-anchor="start" font-weight="bold" fill="#111" stroke="#111" stroke-width="0.1" >circMYBL1(Ex.5−6)</text>
<text x="257.6" y="336.7" font-size="6.6" text-anchor="start" font-weight="bold" fill="#111" stroke="#111" stroke-width="0.1" >circRBM5(Ex.4−10)</text>
<text x="257.6" y="348.2" font-size="6.6" text-anchor="start" font-weight="bold" fill="#111" stroke="#111" stroke-width="0.1" >circMALT1(Ex.3−4)</text>
<text x="257.6" y="359.6" font-size="6.6" text-anchor="start" font-weight="bold" fill="#111" stroke="#111" stroke-width="0.1" >circKIF11(Ex.11−12)</text>
<text x="257.6" y="371.1" font-size="6.6" text-anchor="start" font-weight="bold" fill="#111" stroke="#111" stroke-width="0.1" >circBNC2(Ex.5−6)</text>
<text x="257.6" y="382.5" font-size="6.6" text-anchor="start" font-weight="bold" fill="#111" stroke="#111" stroke-width="0.1" >circRNF34(Ex.2−3)</text>
<text x="232" y="190.3" font-size="11.3" text-anchor="middle" font-weight="bold" fill="#111" stroke="#111" stroke-width="0.1" >GSE268499</text>
<defs><linearGradient id="zg2" x1="0" x2="1" y1="0" y2="0"><stop offset="0" stop-color="#569db7"/><stop offset="0.52" stop-color="#ffffff"/><stop offset="1" stop-color="#c04656"/></linearGradient></defs>
<rect x="165.3" y="393" width="110" height="8" fill="url(#zg2)" stroke="none" stroke-width="1" />
<text x="185" y="410.5" font-size="7" text-anchor="middle" font-weight="bold" fill="#111" stroke="#111" stroke-width="0.1" >0</text>
<text x="218.8" y="410.5" font-size="7" text-anchor="middle" font-weight="bold" fill="#111" stroke="#111" stroke-width="0.1" >1</text>
<text x="252.6" y="410.5" font-size="7" text-anchor="middle" font-weight="bold" fill="#111" stroke="#111" stroke-width="0.1" >2</text>
<text x="218" y="420" font-size="9.3" text-anchor="middle" font-weight="bold" fill="#111" stroke="#111" stroke-width="0.1" >Z-score</text>
<rect x="341.1" y="208.2" width="27.8" height="5" fill="#78fbfc" stroke="none" stroke-width="1" />
<rect x="368.9" y="208.2" width="27.8" height="5" fill="#fd78fb" stroke="none" stroke-width="1" />
<text x="355" y="206.4" font-size="6.9" text-anchor="middle" font-weight="bold" fill="#111" stroke="#111" stroke-width="0.1" >Normal</text>
<text x="382.7" y="206.4" font-size="6.9" text-anchor="middle" font-weight="bold" fill="#111" stroke="#111" stroke-width="0.1" >COPD</text>
<rect x="341.1" y="215.8" width="9.2" height="11.3" fill="#bfdae4" stroke="none" stroke-width="1" />
<rect x="350.4" y="215.8" width="9.2" height="11.3" fill="#bfdae4" stroke="none" stroke-width="1" />
<rect x="359.6" y="215.8" width="9.2" height="11.3" fill="#82b6ca" stroke="none" stroke-width="1" />
<rect x="368.9" y="215.8" width="9.2" height="11.3" fill="#c55564" stroke="none" stroke-width="1" />
<rect x="378.1" y="215.8" width="9.2" height="11.3" fill="#f7e9eb" stroke="none" stroke-width="1" />
<rect x="387.4" y="215.8" width="9.2" height="11.3" fill="#a0c8d7" stroke="none" stroke-width="1" />
<rect x="341.1" y="227.2" width="9.2" height="11.3" fill="#ddebf1" stroke="none" stroke-width="1" />
<rect x="350.4" y="227.2" width="9.2" height="11.3" fill="#82b6ca" stroke="none" stroke-width="1" />
<rect x="359.6" y="227.2" width="9.2" height="11.3" fill="#82b6ca" stroke="none" stroke-width="1" />
<rect x="368.9" y="227.2" width="9.2" height="11.3" fill="#c55564" stroke="none" stroke-width="1" />
<rect x="378.1" y="227.2" width="9.2" height="11.3" fill="#bfdae4" stroke="none" stroke-width="1" />
<rect x="387.4" y="227.2" width="9.2" height="11.3" fill="#f7e9eb" stroke="none" stroke-width="1" />
<rect x="341.1" y="238.5" width="9.2" height="11.3" fill="#a0c8d7" stroke="none" stroke-width="1" />
<rect x="350.4" y="238.5" width="9.2" height="11.3" fill="#bfdae4" stroke="none" stroke-width="1" />
<rect x="359.6" y="238.5" width="9.2" height="11.3" fill="#82b6ca" stroke="none" stroke-width="1" />
<rect x="368.9" y="238.5" width="9.2" height="11.3" fill="#a0c8d7" stroke="none" stroke-width="1" />
<rect x="378.1" y="238.5" width="9.2" height="11.3" fill="#edcbd0" stroke="none" stroke-width="1" />
<rect x="387.4" y="238.5" width="9.2" height="11.3" fill="#e1a6ae" stroke="none" stroke-width="1" />
<rect x="341.1" y="249.9" width="9.2" height="11.3" fill="#bfdae4" stroke="none" stroke-width="1" />
<rect x="350.4" y="249.9" width="9.2" height="11.3" fill="#a0c8d7" stroke="none" stroke-width="1" />
<rect x="359.6" y="249.9" width="9.2" height="11.3" fill="#a0c8d7" stroke="none" stroke-width="1" />
<rect x="368.9" y="249.9" width="9.2" height="11.3" fill="#ddebf1" stroke="none" stroke-width="1" />
<rect x="378.1" y="249.9" width="9.2" height="11.3" fill="#bfdae4" stroke="none" stroke-width="1" />
<rect x="387.4" y="249.9" width="9.2" height="11.3" fill="#c55564" stroke="none" stroke-width="1" />
<rect x="341.1" y="261.2" width="9.2" height="11.3" fill="#569db7" stroke="none" stroke-width="1" />
<rect x="350.4" y="261.2" width="9.2" height="11.3" fill="#a0c8d7" stroke="none" stroke-width="1" />
<rect x="359.6" y="261.2" width="9.2" height="11.3" fill="#bfdae4" stroke="none" stroke-width="1" />
<rect x="368.9" y="261.2" width="9.2" height="11.3" fill="#ddebf1" stroke="none" stroke-width="1" />
<rect x="378.1" y="261.2" width="9.2" height="11.3" fill="#ddebf1" stroke="none" stroke-width="1" />
<rect x="387.4" y="261.2" width="9.2" height="11.3" fill="#c55564" stroke="none" stroke-width="1" />
<rect x="341.1" y="272.6" width="9.2" height="11.3" fill="#82b6ca" stroke="none" stroke-width="1" />
<rect x="350.4" y="272.6" width="9.2" height="11.3" fill="#82b6ca" stroke="none" stroke-width="1" />
<rect x="359.6" y="272.6" width="9.2" height="11.3" fill="#bfdae4" stroke="none" stroke-width="1" />
<rect x="368.9" y="272.6" width="9.2" height="11.3" fill="#bfdae4" stroke="none" stroke-width="1" />
<rect x="378.1" y="272.6" width="9.2" height="11.3" fill="#f7e9eb" stroke="none" stroke-width="1" />
<rect x="387.4" y="272.6" width="9.2" height="11.3" fill="#c55564" stroke="none" stroke-width="1" />
<rect x="341.1" y="283.9" width="9.2" height="11.3" fill="#bfdae4" stroke="none" stroke-width="1" />
<rect x="350.4" y="283.9" width="9.2" height="11.3" fill="#82b6ca" stroke="none" stroke-width="1" />
<rect x="359.6" y="283.9" width="9.2" height="11.3" fill="#82b6ca" stroke="none" stroke-width="1" />
<rect x="368.9" y="283.9" width="9.2" height="11.3" fill="#ddebf1" stroke="none" stroke-width="1" />
<rect x="378.1" y="283.9" width="9.2" height="11.3" fill="#e1a6ae" stroke="none" stroke-width="1" />
<rect x="387.4" y="283.9" width="9.2" height="11.3" fill="#f7e9eb" stroke="none" stroke-width="1" />
<rect x="341.1" y="295.2" width="9.2" height="11.3" fill="#569db7" stroke="none" stroke-width="1" />
<rect x="350.4" y="295.2" width="9.2" height="11.3" fill="#569db7" stroke="none" stroke-width="1" />
<rect x="359.6" y="295.2" width="9.2" height="11.3" fill="#bfdae4" stroke="none" stroke-width="1" />
<rect x="368.9" y="295.2" width="9.2" height="11.3" fill="#edcbd0" stroke="none" stroke-width="1" />
<rect x="378.1" y="295.2" width="9.2" height="11.3" fill="#f7e9eb" stroke="none" stroke-width="1" />
<rect x="387.4" y="295.2" width="9.2" height="11.3" fill="#f7e9eb" stroke="none" stroke-width="1" />
<rect x="341.1" y="306.6" width="9.2" height="11.3" fill="#f7e9eb" stroke="none" stroke-width="1" />
<rect x="350.4" y="306.6" width="9.2" height="11.3" fill="#c55564" stroke="none" stroke-width="1" />
<rect x="359.6" y="306.6" width="9.2" height="11.3" fill="#bfdae4" stroke="none" stroke-width="1" />
<rect x="368.9" y="306.6" width="9.2" height="11.3" fill="#82b6ca" stroke="none" stroke-width="1" />
<rect x="378.1" y="306.6" width="9.2" height="11.3" fill="#82b6ca" stroke="none" stroke-width="1" />
<rect x="387.4" y="306.6" width="9.2" height="11.3" fill="#82b6ca" stroke="none" stroke-width="1" />
<rect x="341.1" y="317.9" width="9.2" height="11.3" fill="#ddebf1" stroke="none" stroke-width="1" />
<rect x="350.4" y="317.9" width="9.2" height="11.3" fill="#e1a6ae" stroke="none" stroke-width="1" />
<rect x="359.6" y="317.9" width="9.2" height="11.3" fill="#e1a6ae" stroke="none" stroke-width="1" />
<rect x="368.9" y="317.9" width="9.2" height="11.3" fill="#82b6ca" stroke="none" stroke-width="1" />
<rect x="378.1" y="317.9" width="9.2" height="11.3" fill="#82b6ca" stroke="none" stroke-width="1" />
<rect x="387.4" y="317.9" width="9.2" height="11.3" fill="#82b6ca" stroke="none" stroke-width="1" />
<rect x="341.1" y="329.3" width="9.2" height="11.3" fill="#e1a6ae" stroke="none" stroke-width="1" />
<rect x="350.4" y="329.3" width="9.2" height="11.3" fill="#bfdae4" stroke="none" stroke-width="1" />
<rect x="359.6" y="329.3" width="9.2" height="11.3" fill="#e1a6ae" stroke="none" stroke-width="1" />
<rect x="368.9" y="329.3" width="9.2" height="11.3" fill="#82b6ca" stroke="none" stroke-width="1" />
<rect x="378.1" y="329.3" width="9.2" height="11.3" fill="#82b6ca" stroke="none" stroke-width="1" />
<rect x="387.4" y="329.3" width="9.2" height="11.3" fill="#82b6ca" stroke="none" stroke-width="1" />
<rect x="341.1" y="340.6" width="9.2" height="11.3" fill="#edcbd0" stroke="none" stroke-width="1" />
<rect x="350.4" y="340.6" width="9.2" height="11.3" fill="#ddebf1" stroke="none" stroke-width="1" />
<rect x="359.6" y="340.6" width="9.2" height="11.3" fill="#e1a6ae" stroke="none" stroke-width="1" />
<rect x="368.9" y="340.6" width="9.2" height="11.3" fill="#82b6ca" stroke="none" stroke-width="1" />
<rect x="378.1" y="340.6" width="9.2" height="11.3" fill="#82b6ca" stroke="none" stroke-width="1" />
<rect x="387.4" y="340.6" width="9.2" height="11.3" fill="#82b6ca" stroke="none" stroke-width="1" />
<rect x="341.1" y="352" width="9.2" height="11.3" fill="#f7e9eb" stroke="none" stroke-width="1" />
<rect x="350.4" y="352" width="9.2" height="11.3" fill="#edcbd0" stroke="none" stroke-width="1" />
<rect x="359.6" y="352" width="9.2" height="11.3" fill="#edcbd0" stroke="none" stroke-width="1" />
<rect x="368.9" y="352" width="9.2" height="11.3" fill="#82b6ca" stroke="none" stroke-width="1" />
<rect x="378.1" y="352" width="9.2" height="11.3" fill="#82b6ca" stroke="none" stroke-width="1" />
<rect x="387.4" y="352" width="9.2" height="11.3" fill="#82b6ca" stroke="none" stroke-width="1" />
<rect x="341.1" y="363.4" width="9.2" height="11.3" fill="#edcbd0" stroke="none" stroke-width="1" />
<rect x="350.4" y="363.4" width="9.2" height="11.3" fill="#ffffff" stroke="none" stroke-width="1" />
<rect x="359.6" y="363.4" width="9.2" height="11.3" fill="#e1a6ae" stroke="none" stroke-width="1" />
<rect x="368.9" y="363.4" width="9.2" height="11.3" fill="#82b6ca" stroke="none" stroke-width="1" />
<rect x="378.1" y="363.4" width="9.2" height="11.3" fill="#82b6ca" stroke="none" stroke-width="1" />
<rect x="387.4" y="363.4" width="9.2" height="11.3" fill="#82b6ca" stroke="none" stroke-width="1" />
<rect x="341.1" y="374.7" width="9.2" height="11.3" fill="#edcbd0" stroke="none" stroke-width="1" />
<rect x="350.4" y="374.7" width="9.2" height="11.3" fill="#ffffff" stroke="none" stroke-width="1" />
<rect x="359.6" y="374.7" width="9.2" height="11.3" fill="#e1a6ae" stroke="none" stroke-width="1" />
<rect x="368.9" y="374.7" width="9.2" height="11.3" fill="#82b6ca" stroke="none" stroke-width="1" />
<rect x="378.1" y="374.7" width="9.2" height="11.3" fill="#82b6ca" stroke="none" stroke-width="1" />
<rect x="387.4" y="374.7" width="9.2" height="11.3" fill="#82b6ca" stroke="none" stroke-width="1" />
<path d="M341.1 215.8V386.1M350.4 215.8V386.1M359.6 215.8V386.1M368.9 215.8V386.1M378.1 215.8V386.1M387.4 215.8V386.1M396.6 215.8V386.1M341.1 215.8H396.6M341.1 227.2H396.6M341.1 238.5H396.6M341.1 249.9H396.6M341.1 261.2H396.6M341.1 272.6H396.6M341.1 283.9H396.6M341.1 295.2H396.6M341.1 306.6H396.6M341.1 317.9H396.6M341.1 329.3H396.6M341.1 340.6H396.6M341.1 352H396.6M341.1 363.4H396.6M341.1 374.7H396.6M341.1 386.1H396.6" stroke="#262626" stroke-width="0.8" fill="none"/>
<text x="398.9" y="223.8" font-size="6.6" text-anchor="start" font-weight="bold" fill="#111" stroke="#111" stroke-width="0.1" >circFCHO2(Ex.17−21)</text>
<text x="398.9" y="235.1" font-size="6.6" text-anchor="start" font-weight="bold" fill="#111" stroke="#111" stroke-width="0.1" >circTBC1D22A(Ex.10−12)</text>
<text x="398.9" y="246.5" font-size="6.6" text-anchor="start" font-weight="bold" fill="#111" stroke="#111" stroke-width="0.1" >circPTPN22(Ex.4−7)</text>
<text x="398.9" y="257.8" font-size="6.6" text-anchor="start" font-weight="bold" fill="#111" stroke="#111" stroke-width="0.1" >circIRAK3(Ex.2−6)</text>
<text x="398.9" y="269.2" font-size="6.6" text-anchor="start" font-weight="bold" fill="#111" stroke="#111" stroke-width="0.1" >circMBOAT2(Ex.10−12)</text>
<text x="398.9" y="280.5" font-size="6.6" text-anchor="start" font-weight="bold" fill="#111" stroke="#111" stroke-width="0.1" >circACADM(Ex.2−5)</text>
<text x="398.9" y="291.9" font-size="6.6" text-anchor="start" font-weight="bold" fill="#111" stroke="#111" stroke-width="0.1" >circSLC39A8(Ex.6−9)</text>
<text x="398.9" y="303.2" font-size="6.6" text-anchor="start" font-weight="bold" fill="#111" stroke="#111" stroke-width="0.1" >circCKAP5(Ex.37−40)</text>
<text x="398.9" y="314.6" font-size="6.6" text-anchor="start" font-weight="bold" fill="#111" stroke="#111" stroke-width="0.1" >circRBM5(Ex.4−10)</text>
<text x="398.9" y="325.9" font-size="6.6" text-anchor="start" font-weight="bold" fill="#111" stroke="#111" stroke-width="0.1" >circMYBL1(Ex.5−6)</text>
<text x="398.9" y="337.3" font-size="6.6" text-anchor="start" font-weight="bold" fill="#111" stroke="#111" stroke-width="0.1" >circRNF213(Ex.19−21)</text>
<text x="398.9" y="348.6" font-size="6.6" text-anchor="start" font-weight="bold" fill="#111" stroke="#111" stroke-width="0.1" >circMALT1(Ex.3−4)</text>
<text x="398.9" y="360" font-size="6.6" text-anchor="start" font-weight="bold" fill="#111" stroke="#111" stroke-width="0.1" >circKIF11(Ex.11−12)</text>
<text x="398.9" y="371.3" font-size="6.6" text-anchor="start" font-weight="bold" fill="#111" stroke="#111" stroke-width="0.1" >circBNC2(Ex.5−6)</text>
<text x="398.9" y="382.7" font-size="6.6" text-anchor="start" font-weight="bold" fill="#111" stroke="#111" stroke-width="0.1" >circRNF34(Ex.2−3)</text>
<text x="387.5" y="190.3" font-size="11.3" text-anchor="middle" font-weight="bold" fill="#111" stroke="#111" stroke-width="0.1" >GSE198740</text>
<defs><linearGradient id="zg3" x1="0" x2="1" y1="0" y2="0"><stop offset="0" stop-color="#569db7"/><stop offset="0.52" stop-color="#ffffff"/><stop offset="1" stop-color="#c04656"/></linearGradient></defs>
<rect x="334.6" y="394" width="110.4" height="7" fill="url(#zg3)" stroke="none" stroke-width="1" />
<text x="374.3" y="410.5" font-size="7" text-anchor="middle" font-weight="bold" fill="#111" stroke="#111" stroke-width="0.1" >0</text>
<text x="409.3" y="410.5" font-size="7" text-anchor="middle" font-weight="bold" fill="#111" stroke="#111" stroke-width="0.1" >1</text>
<text x="391.5" y="420.5" font-size="9.3" text-anchor="middle" font-weight="bold" fill="#111" stroke="#111" stroke-width="0.1" >Z-score</text>
<text x="475.2" y="181.8" font-size="16.3" text-anchor="start" font-weight="bold" fill="#111" stroke="#111" stroke-width="0.1" >D</text>
<line x1="510.8" y1="279.5" x2="545.8" y2="279.5" stroke="#666" stroke-width="0.7" stroke-dasharray="2.5 2"/>
<line x1="534" y1="267" x2="534" y2="331" stroke="#666" stroke-width="0.7" stroke-dasharray="2.5 2"/>
<polyline points="510.8 240.4 511.9 242.7 512.9 245.3 514 247.9 515.1 250.4 516.1 252.9 517.2 255.2 518.2 257.4 519.3 259.6 520.4 261.6 521.4 263.5 522.5 265.3 523.6 267 524.6 268.7 525.7 270.2 526.7 271.7 527.8 273.1 528.9 274.4 529.9 275.7 531 276.9 532.1 278 533.1 279.1 534.2 280.2 535.2 281.2 536.3 282.1 537.4 283 538.4 283.9 539.5 284.7 540.6 285.5 541.6 286.3 542.7 287 543.8 287.8 544.8 288.4 545.9 289.1 546.9 289.7 548 290.3 549.1 290.9 550.1 291.5 551.2 292 552.3 292.5 553.3 293.1 554.4 293.5 555.4 294 556.5 294.5 557.6 294.9 558.6 295.3 559.7 295.8 560.8 296.2 561.8 296.5 562.9 296.9 564 297.3 565 297.6 566.1 298 567.1 298.3 568.2 298.6 569.3 299 570.3 299.3 571.4 299.6 572.5 299.9 573.5 300.1 574.6 300.4 575.6 300.7 576.7 300.9 577.8 301.2 578.8 301.4 579.9 301.7 581 301.9 582 302.2 583.1 302.4 584.1 302.6 585.2 302.8 586.3 303 587.3 303.2 588.4 303.4 589.5 303.6 590.5 303.8 591.6 304 592.7 304.2 593.7 304.4 594.8 304.5 595.8 304.7 596.9 304.9 598 305 599 305.2 600.1 305.3 601.2 305.5 602.2 305.6 603.3 305.8 604.3 305.9 605.4 306.1 606.5 306.2 607.5 306.3 608.6 306.5 609.7 306.6 610.7 306.7 611.8 306.9 612.8 307 613.9 307.1 615 307.2 616 307.3 617.1 307.5 618.2 307.6 619.2 307.7 620.3 307.8 621.4 307.9 622.4 308 623.5 308.1 624.5 308.2 625.6 308.3 626.7 308.4 627.7 308.5 628.8 308.6 629.9 308.7 630.9 308.8 632 308.9 633 309 634.1 309 635.2 309.1 636.2 309.2 637.3 309.3 638.4 309.4" fill="none" stroke="#4f95e0" stroke-width="1"/>
<line x1="516.1" y1="256.3" x2="516.1" y2="259.4" stroke="#111" stroke-width="0.8" />
<line x1="514.5" y1="256.3" x2="517.7" y2="256.3" stroke="#111" stroke-width="0.8" />
<line x1="514.5" y1="259.4" x2="517.7" y2="259.4" stroke="#111" stroke-width="0.8" />
<rect x="515" y="256.8" width="2.2" height="2.2" fill="#111" stroke="none" stroke-width="1" />
<line x1="521.4" y1="262.8" x2="521.4" y2="265.3" stroke="#111" stroke-width="0.8" />
<line x1="519.8" y1="262.8" x2="523" y2="262.8" stroke="#111" stroke-width="0.8" />
<line x1="519.8" y1="265.3" x2="523" y2="265.3" stroke="#111" stroke-width="0.8" />
<rect x="520.3" y="262.9" width="2.2" height="2.2" fill="#111" stroke="none" stroke-width="1" />
<rect x="531" y="267.1" width="2.2" height="2.2" fill="#111" stroke="none" stroke-width="1" />
<line x1="553.3" y1="290.3" x2="553.3" y2="297.5" stroke="#111" stroke-width="0.8" />
<line x1="551.7" y1="290.3" x2="554.9" y2="290.3" stroke="#111" stroke-width="0.8" />
<line x1="551.7" y1="297.5" x2="554.9" y2="297.5" stroke="#111" stroke-width="0.8" />
<rect x="552.2" y="292.8" width="2.2" height="2.2" fill="#111" stroke="none" stroke-width="1" />
<line x1="595.8" y1="301.6" x2="595.8" y2="307.8" stroke="#111" stroke-width="0.8" />
<line x1="594.2" y1="301.6" x2="597.4" y2="301.6" stroke="#111" stroke-width="0.8" />
<line x1="594.2" y1="307.8" x2="597.4" y2="307.8" stroke="#111" stroke-width="0.8" />
<rect x="594.7" y="303.6" width="2.2" height="2.2" fill="#111" stroke="none" stroke-width="1" />
<rect x="637.3" y="308.3" width="2.2" height="2.2" fill="#111" stroke="none" stroke-width="1" />
<line x1="510.8" y1="227.5" x2="510.8" y2="331.5" stroke="#222" stroke-width="1.1" />
<line x1="510.3" y1="331" x2="670.5" y2="331" stroke="#222" stroke-width="1.1" />
<line x1="506.6" y1="331" x2="510.8" y2="331" stroke="#222" stroke-width="0.9" />
<text x="506.3" y="334" font-size="8.5" text-anchor="end" font-weight="bold" fill="#111" stroke="#111" stroke-width="0.1" >0.0</text>
<line x1="506.6" y1="279.5" x2="510.8" y2="279.5" stroke="#222" stroke-width="0.9" />
<text x="506.3" y="282.5" font-size="8.5" text-anchor="end" font-weight="bold" fill="#111" stroke="#111" stroke-width="0.1" >0.5</text>
<line x1="506.6" y1="228" x2="510.8" y2="228" stroke="#222" stroke-width="0.9" />
<text x="506.3" y="231" font-size="8.5" text-anchor="end" font-weight="bold" fill="#111" stroke="#111" stroke-width="0.1" >1.0</text>
<line x1="509" y1="305.2" x2="510.8" y2="305.2" stroke="#222" stroke-width="0.9" />
<line x1="509" y1="253.8" x2="510.8" y2="253.8" stroke="#222" stroke-width="0.9" />
<line x1="510.8" y1="331" x2="510.8" y2="334" stroke="#222" stroke-width="0.9" />
<text x="510.8" y="344" font-size="8.5" text-anchor="middle" font-weight="bold" fill="#111" stroke="#111" stroke-width="0.1" >0</text>
<line x1="564" y1="331" x2="564" y2="334" stroke="#222" stroke-width="0.9" />
<text x="564" y="344" font-size="8.5" text-anchor="middle" font-weight="bold" fill="#111" stroke="#111" stroke-width="0.1" >5</text>
<line x1="617.1" y1="331" x2="617.1" y2="334" stroke="#222" stroke-width="0.9" />
<text x="617.1" y="344" font-size="8.5" text-anchor="middle" font-weight="bold" fill="#111" stroke="#111" stroke-width="0.1" >10</text>
<line x1="670.2" y1="331" x2="670.2" y2="334" stroke="#222" stroke-width="0.9" />
<text x="670.2" y="344" font-size="8.5" text-anchor="middle" font-weight="bold" fill="#111" stroke="#111" stroke-width="0.1" >15</text>
<line x1="521.4" y1="331" x2="521.4" y2="332.8" stroke="#222" stroke-width="0.8" />
<line x1="532.1" y1="331" x2="532.1" y2="332.8" stroke="#222" stroke-width="0.8" />
<line x1="542.7" y1="331" x2="542.7" y2="332.8" stroke="#222" stroke-width="0.8" />
<line x1="553.3" y1="331" x2="553.3" y2="332.8" stroke="#222" stroke-width="0.8" />
<line x1="574.6" y1="331" x2="574.6" y2="332.8" stroke="#222" stroke-width="0.8" />
<line x1="585.2" y1="331" x2="585.2" y2="332.8" stroke="#222" stroke-width="0.8" />
<line x1="595.8" y1="331" x2="595.8" y2="332.8" stroke="#222" stroke-width="0.8" />
<line x1="606.5" y1="331" x2="606.5" y2="332.8" stroke="#222" stroke-width="0.8" />
<line x1="627.7" y1="331" x2="627.7" y2="332.8" stroke="#222" stroke-width="0.8" />
<line x1="638.4" y1="331" x2="638.4" y2="332.8" stroke="#222" stroke-width="0.8" />
<line x1="649" y1="331" x2="649" y2="332.8" stroke="#222" stroke-width="0.8" />
<line x1="659.6" y1="331" x2="659.6" y2="332.8" stroke="#222" stroke-width="0.8" />
<text x="589.5" y="353.2" font-size="8.95" text-anchor="middle" font-weight="bold" fill="#111" stroke="#111" stroke-width="0.1" >CSE Concentration(%)</text>
<text transform="translate(489 279.5) rotate(-90)" font-size="8.6" text-anchor="middle" font-weight="bold" fill="#111" stroke="#111" stroke-width="0.1">Cell Viability(%)</text>
<text x="542" y="273.3" font-size="9.1" text-anchor="start" font-weight="bold" fill="#111" stroke="#111" stroke-width="0.1" >IC50=2.179%</text>
<text x="4.6" y="449.8" font-size="16.3" text-anchor="start" font-weight="bold" fill="#111" stroke="#111" stroke-width="0.1" >E</text>
<rect x="76.5" y="487.6" width="282.1" height="43.6" fill="none" stroke="#333" stroke-width="0.8" />
<text x="73.6" y="499.5" font-size="9.4" text-anchor="end" font-weight="bold" fill="#111" stroke="#111" stroke-width="0.1" >3% CSE</text>
<text x="73.6" y="513.5" font-size="9.4" text-anchor="end" font-weight="bold" fill="#111" stroke="#111" stroke-width="0.1" >2% CSE</text>
<text x="73.6" y="527.4" font-size="9.4" text-anchor="end" font-weight="bold" fill="#111" stroke="#111" stroke-width="0.1" >1% CSE</text>
<line x1="74.8" y1="496.1" x2="76.5" y2="496.1" stroke="#333" stroke-width="0.8" />
<line x1="74.8" y1="510.1" x2="76.5" y2="510.1" stroke="#333" stroke-width="0.8" />
<line x1="74.8" y1="524" x2="76.5" y2="524" stroke="#333" stroke-width="0.8" />
<line x1="87.8" y1="531.2" x2="87.8" y2="533.2" stroke="#333" stroke-width="0.8" />
<circle cx="87.8" cy="496.1" r="1.7" fill="#f0d4d0"/>
<circle cx="87.8" cy="510.1" r="1.6" fill="#f0d4d0"/>
<circle cx="87.8" cy="524" r="2.2" fill="#eeb8aa"/>
<text transform="translate(91.7 539.6) rotate(-45)" font-size="8" text-anchor="end" font-weight="bold" fill="#111" stroke="#111" stroke-width="0.1">circACADM</text>
<line x1="106.3" y1="531.2" x2="106.3" y2="533.2" stroke="#333" stroke-width="0.8" />
<circle cx="106.3" cy="496.1" r="2.9" fill="#c9b6f6"/>
<circle cx="106.3" cy="510.1" r="3.3" fill="#c9b6f6"/>
<circle cx="106.3" cy="524" r="3.3" fill="#b49cf4"/>
<text transform="translate(110.2 539.6) rotate(-45)" font-size="8" text-anchor="end" font-weight="bold" fill="#111" stroke="#111" stroke-width="0.1">circBNC2</text>
<line x1="124.9" y1="531.2" x2="124.9" y2="533.2" stroke="#333" stroke-width="0.8" />
<circle cx="124.9" cy="496.1" r="2.8" fill="#eeb8aa"/>
<circle cx="124.9" cy="510.1" r="3" fill="#ea9a86"/>
<circle cx="124.9" cy="524" r="3" fill="#eeb8aa"/>
<text transform="translate(128.8 539.6) rotate(-45)" font-size="8" text-anchor="end" font-weight="bold" fill="#111" stroke="#111" stroke-width="0.1">circCKAP5</text>
<line x1="143.4" y1="531.2" x2="143.4" y2="533.2" stroke="#333" stroke-width="0.8" />
<circle cx="143.4" cy="496.1" r="4.3" fill="#f03010"/>
<circle cx="143.4" cy="510.1" r="4.3" fill="#f04020"/>
<circle cx="143.4" cy="524" r="4.3" fill="#ec5a3a"/>
<text transform="translate(147.3 539.6) rotate(-45)" font-size="8" text-anchor="end" font-weight="bold" fill="#e8202a" stroke="#e8202a" stroke-width="0.1">circFCHO2</text>
<line x1="162" y1="531.2" x2="162" y2="533.2" stroke="#333" stroke-width="0.8" />
<circle cx="162" cy="496.1" r="1.8" fill="#ea9a86"/>
<circle cx="162" cy="510.1" r="1.7" fill="#f0d4d0"/>
<circle cx="162" cy="524" r="1.7" fill="#ebebeb"/>
<text transform="translate(165.9 539.6) rotate(-45)" font-size="8" text-anchor="end" font-weight="bold" fill="#111" stroke="#111" stroke-width="0.1">circIRAK3</text>
<line x1="180.6" y1="531.2" x2="180.6" y2="533.2" stroke="#333" stroke-width="0.8" />
<circle cx="180.6" cy="496.1" r="2.4" fill="#dcd0f6"/>
<circle cx="180.6" cy="510.1" r="2.4" fill="#dcd0f6"/>
<circle cx="180.6" cy="524" r="2.4" fill="#dcd0f6"/>
<text transform="translate(184.5 539.6) rotate(-45)" font-size="8" text-anchor="end" font-weight="bold" fill="#111" stroke="#111" stroke-width="0.1">circKIF11</text>
<line x1="199.1" y1="531.2" x2="199.1" y2="533.2" stroke="#333" stroke-width="0.8" />
<circle cx="199.1" cy="496.1" r="1.9" fill="#e4e2e6"/>
<circle cx="199.1" cy="510.1" r="1.9" fill="#ea9a86"/>
<circle cx="199.1" cy="524" r="1.9" fill="#f0d4d0"/>
<text transform="translate(203 539.6) rotate(-45)" font-size="8" text-anchor="end" font-weight="bold" fill="#111" stroke="#111" stroke-width="0.1">circMALT1</text>
<line x1="217.6" y1="531.2" x2="217.6" y2="533.2" stroke="#333" stroke-width="0.8" />
<circle cx="217.6" cy="496.1" r="1.1" fill="#dcd0f6"/>
<circle cx="217.6" cy="510.1" r="1.9" fill="#c9b6f6"/>
<circle cx="217.6" cy="524" r="1.6" fill="#b49cf4"/>
<text transform="translate(221.5 539.6) rotate(-45)" font-size="8" text-anchor="end" font-weight="bold" fill="#111" stroke="#111" stroke-width="0.1">circMBOAT2</text>
<line x1="236.2" y1="531.2" x2="236.2" y2="533.2" stroke="#333" stroke-width="0.8" />
<circle cx="236.2" cy="496.1" r="2.1" fill="#e4e2e6"/>
<circle cx="236.2" cy="510.1" r="2.1" fill="#e4e2e6"/>
<circle cx="236.2" cy="524" r="2.6" fill="#c9b6f6"/>
<text transform="translate(240.1 539.6) rotate(-45)" font-size="8" text-anchor="end" font-weight="bold" fill="#111" stroke="#111" stroke-width="0.1">circMYBL1</text>
<line x1="254.8" y1="531.2" x2="254.8" y2="533.2" stroke="#333" stroke-width="0.8" />
<circle cx="254.8" cy="496.1" r="1.1" fill="#e4e2e6"/>
<circle cx="254.8" cy="510.1" r="1.1" fill="#dcd0f6"/>
<circle cx="254.8" cy="524" r="1.1" fill="#e4e2e6"/>
<text transform="translate(258.6 539.6) rotate(-45)" font-size="8" text-anchor="end" font-weight="bold" fill="#111" stroke="#111" stroke-width="0.1">circPTPN22</text>
<line x1="273.3" y1="531.2" x2="273.3" y2="533.2" stroke="#333" stroke-width="0.8" />
<circle cx="273.3" cy="496.1" r="2.7" fill="#dcd0f6"/>
<circle cx="273.3" cy="510.1" r="2.7" fill="#dcd0f6"/>
<circle cx="273.3" cy="524" r="2.8" fill="#dcd0f6"/>
<text transform="translate(277.2 539.6) rotate(-45)" font-size="8" text-anchor="end" font-weight="bold" fill="#111" stroke="#111" stroke-width="0.1">circRBM5</text>
<line x1="291.9" y1="531.2" x2="291.9" y2="533.2" stroke="#333" stroke-width="0.8" />
<circle cx="291.9" cy="496.1" r="1.4" fill="#b49cf4"/>
<circle cx="291.9" cy="510.1" r="1.3" fill="#dcd0f6"/>
<circle cx="291.9" cy="524" r="1.5" fill="#dcd0f6"/>
<text transform="translate(295.8 539.6) rotate(-45)" font-size="8" text-anchor="end" font-weight="bold" fill="#111" stroke="#111" stroke-width="0.1">circRNF213</text>
<line x1="310.4" y1="531.2" x2="310.4" y2="533.2" stroke="#333" stroke-width="0.8" />
<circle cx="310.4" cy="496.1" r="2.5" fill="#f0d4d0"/>
<circle cx="310.4" cy="510.1" r="2.5" fill="#e4e2e6"/>
<circle cx="310.4" cy="524" r="2.5" fill="#dcd0f6"/>
<text transform="translate(314.3 539.6) rotate(-45)" font-size="8" text-anchor="end" font-weight="bold" fill="#111" stroke="#111" stroke-width="0.1">circRNF34</text>
<line x1="328.9" y1="531.2" x2="328.9" y2="533.2" stroke="#333" stroke-width="0.8" />
<circle cx="328.9" cy="496.1" r="2.7" fill="#ea9a86"/>
<circle cx="328.9" cy="510.1" r="2.8" fill="#f0846a"/>
<circle cx="328.9" cy="524" r="2.7" fill="#f0d4d0"/>
<text transform="translate(332.8 539.6) rotate(-45)" font-size="8" text-anchor="end" font-weight="bold" fill="#111" stroke="#111" stroke-width="0.1">circSLC39A8</text>
<line x1="347.5" y1="531.2" x2="347.5" y2="533.2" stroke="#333" stroke-width="0.8" />
<circle cx="347.5" cy="496.1" r="2.6" fill="#f0846a"/>
<circle cx="347.5" cy="510.1" r="2.6" fill="#eeb8aa"/>
<circle cx="347.5" cy="524" r="2.6" fill="#ea9a86"/>
<text transform="translate(351.4 539.6) rotate(-45)" font-size="8" text-anchor="end" font-weight="bold" fill="#111" stroke="#111" stroke-width="0.1">circTBC1D22A</text>
<text x="151.5" y="459.3" font-size="8" text-anchor="middle" font-weight="bold" fill="#111" stroke="#111" stroke-width="0.1" >-log10 p value</text>
<rect x="113.5" y="462.3" width="71" height="14.5" fill="none" stroke="#333" stroke-width="0.8" />
<circle cx="122.7" cy="469.6" r="2.0" fill="#111"/>
<text x="130.3" y="472.5" font-size="7.3" text-anchor="start" font-weight="bold" fill="#111" stroke="#111" stroke-width="0.1" >2</text>
<circle cx="142.6" cy="469.6" r="2.8" fill="#111"/>
<text x="151" y="472.5" font-size="7.3" text-anchor="start" font-weight="bold" fill="#111" stroke="#111" stroke-width="0.1" >4</text>
<circle cx="162.3" cy="469.6" r="3.6" fill="#111"/>
<text x="171.5" y="472.5" font-size="7.3" text-anchor="start" font-weight="bold" fill="#111" stroke="#111" stroke-width="0.1" >6</text>
<text x="262" y="460" font-size="8" text-anchor="middle" font-weight="bold" fill="#111" stroke="#111" stroke-width="0.1" >Fold Change</text>
<defs><linearGradient id="fcg" x1="0" x2="1" y1="0" y2="0"><stop offset="0" stop-color="#b9a0fa"/><stop offset="0.3" stop-color="#ece8ea"/><stop offset="0.65" stop-color="#f09478"/><stop offset="1" stop-color="#f42810"/></linearGradient></defs>
<rect x="229" y="464.1" width="67.2" height="9.7" fill="url(#fcg)" stroke="#333" stroke-width="0.6" />
<text x="247.7" y="483.1" font-size="8.1" text-anchor="middle" font-weight="bold" fill="#111" stroke="#111" stroke-width="0.1" >1.0</text>
<text x="272" y="483.1" font-size="8.1" text-anchor="middle" font-weight="bold" fill="#111" stroke="#111" stroke-width="0.1" >1.5</text>
<text x="488.8" y="449.8" font-size="16.3" text-anchor="start" font-weight="bold" fill="#111" stroke="#111" stroke-width="0.1" >F</text>
<rect x="552.4" y="540" width="21.3" height="17.7" fill="#92bccf" stroke="#222" stroke-width="0.8" />
<rect x="584.2" y="508.4" width="21.5" height="49.3" fill="#c9586a" stroke="#222" stroke-width="0.8" />
<line x1="563" y1="533.7" x2="563" y2="545.6" stroke="#111" stroke-width="0.8" />
<line x1="557.5" y1="533.7" x2="568.5" y2="533.7" stroke="#111" stroke-width="0.8" />
<line x1="557.5" y1="545.6" x2="568.5" y2="545.6" stroke="#111" stroke-width="0.8" />
<line x1="595" y1="483.3" x2="595" y2="533.3" stroke="#111" stroke-width="0.8" />
<line x1="589.5" y1="483.3" x2="600.5" y2="483.3" stroke="#111" stroke-width="0.8" />
<line x1="589.5" y1="533.3" x2="600.5" y2="533.3" stroke="#111" stroke-width="0.8" />
<circle cx="556.5" cy="534.2" r="1" fill="#111"/>
<circle cx="561" cy="531.5" r="1" fill="#111"/>
<circle cx="566" cy="535.1" r="1" fill="#111"/>
<circle cx="569.5" cy="537.8" r="1" fill="#111"/>
<circle cx="558.5" cy="542.3" r="1" fill="#111"/>
<circle cx="563.5" cy="544.7" r="1" fill="#111"/>
<circle cx="567.5" cy="546.9" r="1" fill="#111"/>
<circle cx="560" cy="546.9" r="1" fill="#111"/>
<circle cx="594" cy="471" r="1" fill="#111"/>
<circle cx="595.5" cy="485.4" r="1" fill="#111"/>
<circle cx="596" cy="494.5" r="1" fill="#111"/>
<circle cx="594.5" cy="499.9" r="1" fill="#111"/>
<circle cx="596.5" cy="519.8" r="1" fill="#111"/>
<circle cx="593.5" cy="524.3" r="1" fill="#111"/>
<circle cx="597" cy="532.4" r="1" fill="#111"/>
<circle cx="594" cy="535.1" r="1" fill="#111"/>
<path d="M563.2 462.8V458H595.2V462.8" fill="none" stroke="#222" stroke-width="0.7"/>
<text x="579" y="454" font-size="7" text-anchor="middle" font-weight="bold" fill="#111" stroke="#111" stroke-width="0.1" >p=0.0035</text>
<line x1="541.4" y1="448.8" x2="541.4" y2="558.2" stroke="#222" stroke-width="1.0" />
<line x1="540.9" y1="557.7" x2="616.8" y2="557.7" stroke="#222" stroke-width="1.0" />
<line x1="562.9" y1="557.7" x2="562.9" y2="561.7" stroke="#222" stroke-width="0.9" />
<line x1="595" y1="557.7" x2="595" y2="561.7" stroke="#222" stroke-width="0.9" />
<line x1="538.4" y1="557.7" x2="541.4" y2="557.7" stroke="#222" stroke-width="0.9" />
<text x="536.9" y="560.6" font-size="8.2" text-anchor="end" font-weight="bold" fill="#111" stroke="#111" stroke-width="0.1" >0</text>
<line x1="538.4" y1="521.6" x2="541.4" y2="521.6" stroke="#222" stroke-width="0.9" />
<text x="536.9" y="524.5" font-size="8.2" text-anchor="end" font-weight="bold" fill="#111" stroke="#111" stroke-width="0.1" >2</text>
<line x1="538.4" y1="485.4" x2="541.4" y2="485.4" stroke="#222" stroke-width="0.9" />
<text x="536.9" y="488.3" font-size="8.2" text-anchor="end" font-weight="bold" fill="#111" stroke="#111" stroke-width="0.1" >4</text>
<line x1="538.4" y1="449.3" x2="541.4" y2="449.3" stroke="#222" stroke-width="0.9" />
<text x="536.9" y="452.2" font-size="8.2" text-anchor="end" font-weight="bold" fill="#111" stroke="#111" stroke-width="0.1" >6</text>
<text x="558.4" y="570.2" font-size="8" text-anchor="middle" font-weight="bold" fill="#111" stroke="#111" stroke-width="0.1" >non-COPD</text>
<text x="563.2" y="578.3" font-size="7.2" text-anchor="middle" font-weight="normal" fill="#222" stroke="#222" stroke-width="0.1" >(n=8)</text>
<text x="594.6" y="570.2" font-size="8" text-anchor="middle" font-weight="bold" fill="#111" stroke="#111" stroke-width="0.1" >COPD</text>
<text x="595.5" y="578.3" font-size="7.2" text-anchor="middle" font-weight="normal" fill="#222" stroke="#222" stroke-width="0.1" >(n=8)</text>
<text transform="translate(520.2 501.5) rotate(-90)" font-size="9.8" text-anchor="middle" font-weight="bold" fill="#111" stroke="#111" stroke-width="0.1">Relative circFCHO2 level</text>
<text transform="translate(528 501.5) rotate(-90)" font-size="8.2" text-anchor="middle" font-weight="bold" fill="#111" stroke="#111" stroke-width="0.1">(normalized to β-actin mRNA)</text>
<text x="1" y="589.2" font-size="16.3" text-anchor="start" font-weight="bold" fill="#111" stroke="#111" stroke-width="0.1" >G</text>
<line x1="61.6" y1="600.7" x2="274.5" y2="600.7" stroke="#444" stroke-width="0.9" />
<rect x="72.8" y="597.4" width="8.1" height="6.5" fill="#8a8a8a" stroke="none" stroke-width="1" />
<rect x="252" y="597.4" width="7.7" height="6.5" fill="#8a8a8a" stroke="none" stroke-width="1" />
<text x="76.8" y="595.3" font-size="5.6" text-anchor="middle" font-weight="normal" fill="#222" textLength="7.6" lengthAdjust="spacingAndGlyphs" stroke="#222" stroke-width="0.2">ALU</text>
<text x="255.9" y="595.3" font-size="5.6" text-anchor="middle" font-weight="normal" fill="#222" textLength="7.6" lengthAdjust="spacingAndGlyphs" stroke="#222" stroke-width="0.2">ALU</text>
<rect x="87.9" y="597.8" width="12.9" height="5.7" fill="#8484c4" stroke="none" stroke-width="1" />
<text x="94.3" y="612.4" font-size="5.8" text-anchor="middle" font-weight="bold" fill="#222" stroke="#222" stroke-width="0.1" >Exon17</text>
<rect x="125.8" y="597.8" width="14.5" height="5.7" fill="#4a9bc0" stroke="none" stroke-width="1" />
<text x="133.1" y="612.4" font-size="5.8" text-anchor="middle" font-weight="bold" fill="#222" stroke="#222" stroke-width="0.1" >Exon18</text>
<rect x="158.9" y="597.8" width="15.7" height="5.7" fill="#dcc73a" stroke="none" stroke-width="1" />
<text x="166.8" y="612.4" font-size="5.8" text-anchor="middle" font-weight="bold" fill="#222" stroke="#222" stroke-width="0.1" >Exon19</text>
<rect x="201.3" y="597.8" width="15.4" height="5.7" fill="#e07b3c" stroke="none" stroke-width="1" />
<text x="209" y="612.4" font-size="5.8" text-anchor="middle" font-weight="bold" fill="#222" stroke="#222" stroke-width="0.1" >Exon20</text>
<rect x="226" y="597.8" width="18.6" height="5.7" fill="#c8eca2" stroke="none" stroke-width="1" />
<text x="235.3" y="612.4" font-size="5.8" text-anchor="middle" font-weight="bold" fill="#222" stroke="#222" stroke-width="0.1" >Exon21</text>
<path d="M89 597.7 C74 588.7 88 578.8 166 578.8 C244 578.8 258 588.7 244 597.7" fill="none" stroke="#555" stroke-width="0.8"/>
<path d="M91 592.6 L94.2 590.4 L94.2 594.8 Z" fill="#1b2a7a"/>
<path d="M240.5 592.6 L237.3 590.4 L237.3 594.8 Z" fill="#1b2a7a"/>
<line x1="61.6" y1="711.4" x2="274.5" y2="711.4" stroke="#444" stroke-width="0.9" />
<rect x="72.8" y="708.1" width="8.1" height="6.5" fill="#8a8a8a" stroke="none" stroke-width="1" />
<rect x="252" y="708.1" width="7.7" height="6.5" fill="#8a8a8a" stroke="none" stroke-width="1" />
<text x="76.8" y="706" font-size="5.6" text-anchor="middle" font-weight="normal" fill="#222" textLength="7.6" lengthAdjust="spacingAndGlyphs" stroke="#222" stroke-width="0.2">ALU</text>
<text x="255.9" y="706" font-size="5.6" text-anchor="middle" font-weight="normal" fill="#222" textLength="7.6" lengthAdjust="spacingAndGlyphs" stroke="#222" stroke-width="0.2">ALU</text>
<rect x="87.9" y="708.5" width="12.9" height="5.7" fill="#8484c4" stroke="none" stroke-width="1" />
<text x="94.3" y="723.1" font-size="5.8" text-anchor="middle" font-weight="bold" fill="#222" stroke="#222" stroke-width="0.1" >Exon17</text>
<rect x="125.8" y="708.5" width="14.5" height="5.7" fill="#4a9bc0" stroke="none" stroke-width="1" />
<text x="133.1" y="723.1" font-size="5.8" text-anchor="middle" font-weight="bold" fill="#222" stroke="#222" stroke-width="0.1" >Exon18</text>
<rect x="158.9" y="708.5" width="15.7" height="5.7" fill="#dcc73a" stroke="none" stroke-width="1" />
<text x="166.8" y="723.1" font-size="5.8" text-anchor="middle" font-weight="bold" fill="#222" stroke="#222" stroke-width="0.1" >Exon19</text>
<rect x="201.3" y="708.5" width="15.4" height="5.7" fill="#e07b3c" stroke="none" stroke-width="1" />
<text x="209" y="723.1" font-size="5.8" text-anchor="middle" font-weight="bold" fill="#222" stroke="#222" stroke-width="0.1" >Exon20</text>
<rect x="226" y="708.5" width="18.6" height="5.7" fill="#c8eca2" stroke="none" stroke-width="1" />
<text x="235.3" y="723.1" font-size="5.8" text-anchor="middle" font-weight="bold" fill="#222" stroke="#222" stroke-width="0.1" >Exon21</text>
<path d="M89 708.4 C74 699.4 88 690.8 166 690.8 C244 690.8 258 699.4 244 708.4" fill="none" stroke="#555" stroke-width="0.8"/>
<path d="M91 703.3 L94.2 701.1 L94.2 705.5 Z" fill="#1b2a7a"/>
<path d="M240.5 703.3 L237.3 701.1 L237.3 705.5 Z" fill="#1b2a7a"/>
<path d="M33.8 622.6 A31.4 31.4 0 0 1 65.2 655.6" fill="none" stroke="#c8eca2" stroke-width="2.1"/>
<path d="M65.2 655.6 A31.4 31.4 0 0 1 43.5 683.9" fill="none" stroke="#e07b3c" stroke-width="2.1"/>
<path d="M43.5 683.9 A31.4 31.4 0 0 1 5.8 668.3" fill="none" stroke="#dcc73a" stroke-width="2.1"/>
<path d="M5.8 668.3 A31.4 31.4 0 0 1 8.1 636" fill="none" stroke="#4a9bc0" stroke-width="2.1"/>
<path d="M8.1 636 A31.4 31.4 0 0 1 33.8 622.6" fill="none" stroke="#8484c4" stroke-width="2.1"/>
<text x="34.2" y="656.5" font-size="8.0" text-anchor="middle" font-weight="bold" fill="#111" stroke="#111" stroke-width="0.1" >hsa-circFCHO2</text>
<text x="32.5" y="610.6" font-size="7.3" text-anchor="middle" font-weight="normal" fill="#111" stroke="#111" stroke-width="0.15">Back-splice site</text>
<text x="16.4" y="620.5" font-size="6.0" font-weight="bold"><tspan fill="#e05a5a">T</tspan><tspan fill="#5574d4">C</tspan><tspan fill="#3cb93c">A</tspan><tspan fill="#222">G</tspan><tspan fill="#3cb93c">A</tspan><tspan fill="#3cb93c">A</tspan><tspan fill="#3cb93c">A</tspan><tspan fill="#3cb93c">A</tspan></text>
<line x1="33.3" y1="612.3" x2="33.3" y2="621" stroke="#333" stroke-width="0.8" />
<path d="M34.3 709.9 A31.5 31.5 0 0 1 65.8 741.4" fill="none" stroke="#c8eca2" stroke-width="2.1"/>
<path d="M65.8 741.4 A31.5 31.5 0 0 1 44.6 771.2" fill="none" stroke="#e07b3c" stroke-width="2.1"/>
<path d="M44.6 771.2 A31.5 31.5 0 0 1 6.5 756.2" fill="none" stroke="#dcc73a" stroke-width="2.1"/>
<path d="M6.5 756.2 A31.5 31.5 0 0 1 7.6 724.7" fill="none" stroke="#4a9bc0" stroke-width="2.1"/>
<path d="M7.6 724.7 A31.5 31.5 0 0 1 34.3 709.9" fill="none" stroke="#8484c4" stroke-width="2.1"/>
<text x="34.7" y="744.2" font-size="8.0" text-anchor="middle" font-weight="bold" fill="#111" stroke="#111" stroke-width="0.1" >mus-circFCHO2</text>
<text x="32.5" y="698.9" font-size="7.3" text-anchor="middle" font-weight="normal" fill="#111" stroke="#111" stroke-width="0.15">Back-splice site</text>
<text x="16.1" y="708.4" font-size="6.0" font-weight="bold"><tspan fill="#5574d4">C</tspan><tspan fill="#3cb93c">A</tspan><tspan fill="#222">G</tspan><tspan fill="#222">G</tspan><tspan fill="#3cb93c">A</tspan><tspan fill="#3cb93c">A</tspan><tspan fill="#3cb93c">A</tspan><tspan fill="#5574d4">G</tspan></text>
<line x1="33.9" y1="700.3" x2="33.9" y2="708.7" stroke="#333" stroke-width="0.8" />
<rect x="80.8" y="634.4" width="183.1" height="51.3" fill="#fcfbef" stroke="none" stroke-width="1" />
<line x1="99.6" y1="646.2" x2="99.6" y2="684.3" stroke="#c8c8c8" stroke-width="0.5" stroke-dasharray="0.8 1.2"/>
<line x1="139.6" y1="646.2" x2="139.6" y2="684.3" stroke="#c8c8c8" stroke-width="0.5" stroke-dasharray="0.8 1.2"/>
<line x1="179.2" y1="646.2" x2="179.2" y2="684.3" stroke="#c8c8c8" stroke-width="0.5" stroke-dasharray="0.8 1.2"/>
<line x1="220" y1="646.2" x2="220" y2="684.3" stroke="#c8c8c8" stroke-width="0.5" stroke-dasharray="0.8 1.2"/>
<line x1="261" y1="646.2" x2="261" y2="684.3" stroke="#c8c8c8" stroke-width="0.5" stroke-dasharray="0.8 1.2"/>
<text x="82.3" y="643.8" font-size="7.655999999999999" style="font-family:'Liberation Mono'" fill="#2a2a2a" textLength="179.8" lengthAdjust="spacingAndGlyphs">CCAAATGCACAGCTTGTGTTCAGAAAAGGAACCAGTGATTTACTT</text>
<path d="M79.2 684.1 L79.7 684 L80.1 683.6 L80.5 683.1 L80.9 682.3 L81.4 681.1 L81.8 679.5 L82.2 677.5 L82.6 675.3 L83 673.1 L83.5 671.2 L83.9 669.9 L84.3 669.4 L84.7 669.9 L85.1 671.2 L85.6 673.1 L86 675.3 L86.4 677.5 L86.8 679.5 L87.3 681.1 L87.7 682.3 L88.1 683.1 L88.5 683.6 L88.9 684 L89.4 684.1" fill="#3b6fd4" fill-opacity="0.16" stroke="#3b6fd4" stroke-width="0.75"/>
<path d="M83.3 684.1 L83.7 684 L84.1 683.6 L84.5 683.1 L84.9 682.3 L85.4 681 L85.8 679.4 L86.2 677.4 L86.6 675.2 L87.1 672.9 L87.5 671 L87.9 669.7 L88.3 669.2 L88.7 669.7 L89.2 671 L89.6 672.9 L90 675.2 L90.4 677.4 L90.8 679.4 L91.3 681 L91.7 682.3 L92.1 683.1 L92.5 683.6 L93 684 L93.4 684.1" fill="#3b6fd4" fill-opacity="0.16" stroke="#3b6fd4" stroke-width="0.75"/>
<path d="M87.3 684.2 L87.7 684 L88.1 683.8 L88.5 683.4 L89 682.8 L89.4 681.8 L89.8 680.6 L90.2 679.1 L90.6 677.4 L91.1 675.7 L91.5 674.2 L91.9 673.3 L92.3 672.9 L92.8 673.3 L93.2 674.2 L93.6 675.7 L94 677.4 L94.4 679.1 L94.9 680.6 L95.3 681.8 L95.7 682.8 L96.1 683.4 L96.5 683.8 L97 684 L97.4 684.2" fill="#3cb93c" fill-opacity="0.16" stroke="#3cb93c" stroke-width="0.75"/>
<path d="M91.3 684 L91.7 683.7 L92.1 683.2 L92.6 682.3 L93 681 L93.4 679 L93.8 676.3 L94.2 673 L94.7 669.3 L95.1 665.6 L95.5 662.5 L95.9 660.3 L96.3 659.6 L96.8 660.3 L97.2 662.5 L97.6 665.6 L98 669.3 L98.5 673 L98.9 676.3 L99.3 679 L99.7 681 L100.1 682.3 L100.6 683.2 L101 683.7 L101.4 684" fill="#3cb93c" fill-opacity="0.16" stroke="#3cb93c" stroke-width="0.75"/>
<path d="M93.3 684.3 L93.8 684.2 L94.3 684.1 L94.8 683.8 L95.3 683.4 L95.8 682.9 L96.3 682.2 L96.8 681.4 L97.3 680.6 L97.8 680.1 L98.4 679.9 L98.9 680.1 L99.4 680.6 L99.9 681.4 L100.4 682.2 L100.9 682.9 L101.4 683.4 L101.9 683.8 L102.4 684.1 L102.9 684.2 L103.4 684.3" fill="none" stroke="#3cb93c" stroke-width="0.6"/>
<path d="M95.3 684.1 L95.7 684 L96.1 683.7 L96.6 683.2 L97 682.4 L97.4 681.2 L97.8 679.7 L98.3 677.8 L98.7 675.7 L99.1 673.6 L99.5 671.8 L99.9 670.6 L100.4 670.1 L100.8 670.6 L101.2 671.8 L101.6 673.6 L102 675.7 L102.5 677.8 L102.9 679.7 L103.3 681.2 L103.7 682.4 L104.2 683.2 L104.6 683.7 L105 684 L105.4 684.1" fill="#3cb93c" fill-opacity="0.16" stroke="#3cb93c" stroke-width="0.75"/>
<path d="M99.3 684.1 L99.7 683.9 L100.2 683.5 L100.6 682.9 L101 681.9 L101.4 680.5 L101.8 678.6 L102.3 676.3 L102.7 673.7 L103.1 671.1 L103.5 668.9 L104 667.4 L104.4 666.8 L104.8 667.4 L105.2 668.9 L105.6 671.1 L106.1 673.7 L106.5 676.3 L106.9 678.6 L107.3 680.5 L107.7 681.9 L108.2 682.9 L108.6 683.5 L109 683.9 L109.4 684.1" fill="#e0474c" fill-opacity="0.16" stroke="#e0474c" stroke-width="0.75"/>
<path d="M103.3 684 L103.8 683.6 L104.2 683 L104.6 681.9 L105 680.3 L105.4 677.8 L105.9 674.6 L106.3 670.6 L106.7 666.2 L107.1 661.7 L107.5 657.9 L108 655.3 L108.4 654.4 L108.8 655.3 L109.2 657.9 L109.7 661.7 L110.1 666.2 L110.5 670.6 L110.9 674.6 L111.3 677.8 L111.8 680.3 L112.2 681.9 L112.6 683 L113 683.6 L113.4 684" fill="#222222" fill-opacity="0.16" stroke="#222222" stroke-width="0.75"/>
<path d="M107.3 684.1 L107.8 683.9 L108.2 683.5 L108.6 682.8 L109 681.7 L109.5 680.2 L109.9 678.1 L110.3 675.5 L110.7 672.7 L111.1 669.9 L111.6 667.4 L112 665.8 L112.4 665.2 L112.8 665.8 L113.2 667.4 L113.7 669.9 L114.1 672.7 L114.5 675.5 L114.9 678.1 L115.3 680.2 L115.8 681.7 L116.2 682.8 L116.6 683.5 L117 683.9 L117.5 684.1" fill="#3b6fd4" fill-opacity="0.16" stroke="#3b6fd4" stroke-width="0.75"/>
<path d="M111.4 684.2 L111.8 684 L112.2 683.8 L112.6 683.4 L113 682.7 L113.5 681.8 L113.9 680.6 L114.3 679 L114.7 677.3 L115.1 675.6 L115.6 674.1 L116 673.1 L116.4 672.8 L116.8 673.1 L117.3 674.1 L117.7 675.6 L118.1 677.3 L118.5 679 L118.9 680.6 L119.4 681.8 L119.8 682.7 L120.2 683.4 L120.6 683.8 L121 684 L121.5 684.2" fill="#3cb93c" fill-opacity="0.16" stroke="#3cb93c" stroke-width="0.75"/>
<path d="M113.4 684.2 L113.9 684.2 L114.4 684 L114.9 683.8 L115.4 683.4 L115.9 682.8 L116.4 682 L116.9 681.2 L117.4 680.4 L117.9 679.9 L118.4 679.7 L118.9 679.9 L119.4 680.4 L119.9 681.2 L120.4 682 L120.9 682.8 L121.5 683.4 L122 683.8 L122.5 684 L123 684.2 L123.5 684.2" fill="none" stroke="#3cb93c" stroke-width="0.6"/>
<path d="M115.4 684.1 L115.8 684 L116.2 683.6 L116.6 683.1 L117.1 682.3 L117.5 681.1 L117.9 679.4 L118.3 677.5 L118.7 675.2 L119.2 673 L119.6 671.1 L120 669.8 L120.4 669.4 L120.8 669.8 L121.3 671.1 L121.7 673 L122.1 675.2 L122.5 677.5 L123 679.4 L123.4 681.1 L123.8 682.3 L124.2 683.1 L124.6 683.6 L125.1 684 L125.5 684.1" fill="#3b6fd4" fill-opacity="0.16" stroke="#3b6fd4" stroke-width="0.75"/>
<path d="M119.4 684.1 L119.8 683.8 L120.2 683.3 L120.6 682.6 L121.1 681.3 L121.5 679.6 L121.9 677.2 L122.3 674.3 L122.8 671 L123.2 667.7 L123.6 664.9 L124 663 L124.4 662.4 L124.9 663 L125.3 664.9 L125.7 667.7 L126.1 671 L126.5 674.3 L127 677.2 L127.4 679.6 L127.8 681.3 L128.2 682.6 L128.7 683.3 L129.1 683.8 L129.5 684.1" fill="#3cb93c" fill-opacity="0.16" stroke="#3cb93c" stroke-width="0.75"/>
<path d="M123.4 684.2 L123.8 684 L124.2 683.7 L124.7 683.3 L125.1 682.5 L125.5 681.5 L125.9 680 L126.3 678.3 L126.8 676.4 L127.2 674.4 L127.6 672.7 L128 671.6 L128.5 671.2 L128.9 671.6 L129.3 672.7 L129.7 674.4 L130.1 676.4 L130.6 678.3 L131 680 L131.4 681.5 L131.8 682.5 L132.2 683.3 L132.7 683.7 L133.1 684 L133.5 684.2" fill="#222222" fill-opacity="0.16" stroke="#222222" stroke-width="0.75"/>
<path d="M125.4 684.3 L125.9 684.2 L126.4 684.1 L126.9 683.8 L127.4 683.5 L127.9 682.9 L128.4 682.2 L128.9 681.5 L129.4 680.7 L130 680.2 L130.5 680 L131 680.2 L131.5 680.7 L132 681.5 L132.5 682.2 L133 682.9 L133.5 683.5 L134 683.8 L134.5 684.1 L135 684.2 L135.5 684.3" fill="none" stroke="#3cb93c" stroke-width="0.6"/>
<path d="M127.4 684 L127.8 683.7 L128.3 683.2 L128.7 682.3 L129.1 681 L129.5 679 L129.9 676.3 L130.4 673 L130.8 669.4 L131.2 665.7 L131.6 662.6 L132 660.4 L132.5 659.7 L132.9 660.4 L133.3 662.6 L133.7 665.7 L134.2 669.4 L134.6 673 L135 676.3 L135.4 679 L135.8 681 L136.3 682.3 L136.7 683.2 L137.1 683.7 L137.5 684" fill="#3b6fd4" fill-opacity="0.16" stroke="#3b6fd4" stroke-width="0.75"/>
<path d="M129.4 684.2 L129.9 684.2 L130.4 684 L130.9 683.7 L131.4 683.2 L131.9 682.6 L132.5 681.7 L133 680.7 L133.5 679.8 L134 679.1 L134.5 678.9 L135 679.1 L135.5 679.8 L136 680.7 L136.5 681.7 L137 682.6 L137.5 683.2 L138 683.7 L138.5 684 L139 684.2 L139.5 684.2" fill="none" stroke="#3cb93c" stroke-width="0.6"/>
<path d="M131.4 684.2 L131.8 684.1 L132.3 683.9 L132.7 683.6 L133.1 683.1 L133.5 682.4 L134 681.4 L134.4 680.2 L134.8 678.8 L135.2 677.5 L135.6 676.4 L136.1 675.6 L136.5 675.3 L136.9 675.6 L137.3 676.4 L137.7 677.5 L138.2 678.8 L138.6 680.2 L139 681.4 L139.4 682.4 L139.9 683.1 L140.3 683.6 L140.7 683.9 L141.1 684.1 L141.5 684.2" fill="#e0474c" fill-opacity="0.16" stroke="#e0474c" stroke-width="0.75"/>
<path d="M135.4 684.1 L135.9 684 L136.3 683.6 L136.7 683.1 L137.1 682.3 L137.5 681 L138 679.4 L138.4 677.4 L138.8 675.1 L139.2 672.9 L139.7 671 L140.1 669.7 L140.5 669.2 L140.9 669.7 L141.3 671 L141.8 672.9 L142.2 675.1 L142.6 677.4 L143 679.4 L143.4 681 L143.9 682.3 L144.3 683.1 L144.7 683.6 L145.1 684 L145.6 684.1" fill="#e0474c" fill-opacity="0.16" stroke="#e0474c" stroke-width="0.75"/>
<path d="M139.4 684.2 L139.9 684.1 L140.3 683.9 L140.7 683.5 L141.1 683 L141.6 682.1 L142 681.1 L142.4 679.7 L142.8 678.3 L143.2 676.8 L143.7 675.5 L144.1 674.7 L144.5 674.4 L144.9 674.7 L145.3 675.5 L145.8 676.8 L146.2 678.3 L146.6 679.7 L147 681.1 L147.5 682.1 L147.9 683 L148.3 683.5 L148.7 683.9 L149.1 684.1 L149.6 684.2" fill="#222222" fill-opacity="0.16" stroke="#222222" stroke-width="0.75"/>
<path d="M143.5 684 L143.9 683.7 L144.3 683.2 L144.7 682.3 L145.1 680.9 L145.6 678.9 L146 676.2 L146.4 672.9 L146.8 669.1 L147.3 665.4 L147.7 662.2 L148.1 660.1 L148.5 659.3 L148.9 660.1 L149.4 662.2 L149.8 665.4 L150.2 669.1 L150.6 672.9 L151 676.2 L151.5 678.9 L151.9 680.9 L152.3 682.3 L152.7 683.2 L153.2 683.7 L153.6 684" fill="#e0474c" fill-opacity="0.16" stroke="#e0474c" stroke-width="0.75"/>
<path d="M147.5 684 L147.9 683.7 L148.3 683.2 L148.7 682.4 L149.2 681 L149.6 679.1 L150 676.4 L150.4 673.2 L150.8 669.6 L151.3 666 L151.7 662.9 L152.1 660.8 L152.5 660.1 L153 660.8 L153.4 662.9 L153.8 666 L154.2 669.6 L154.6 673.2 L155.1 676.4 L155.5 679.1 L155.9 681 L156.3 682.4 L156.7 683.2 L157.2 683.7 L157.6 684" fill="#222222" fill-opacity="0.16" stroke="#222222" stroke-width="0.75"/>
<path d="M149.5 684.3 L150 684.2 L150.5 684.1 L151 683.9 L151.5 683.5 L152 683 L152.5 682.4 L153 681.7 L153.5 681.1 L154 680.6 L154.5 680.4 L155 680.6 L155.6 681.1 L156.1 681.7 L156.6 682.4 L157.1 683 L157.6 683.5 L158.1 683.9 L158.6 684.1 L159.1 684.2 L159.6 684.3" fill="none" stroke="#3cb93c" stroke-width="0.6"/>
<path d="M151.5 684.1 L151.9 684 L152.3 683.6 L152.8 683.1 L153.2 682.2 L153.6 681 L154 679.3 L154.4 677.3 L154.9 675 L155.3 672.7 L155.7 670.8 L156.1 669.4 L156.5 669 L157 669.4 L157.4 670.8 L157.8 672.7 L158.2 675 L158.7 677.3 L159.1 679.3 L159.5 681 L159.9 682.2 L160.3 683.1 L160.8 683.6 L161.2 684 L161.6 684.1" fill="#e0474c" fill-opacity="0.16" stroke="#e0474c" stroke-width="0.75"/>
<path d="M153.5 684.2 L154 684.1 L154.5 684 L155 683.6 L155.5 683.1 L156 682.4 L156.5 681.4 L157 680.3 L157.5 679.3 L158 678.6 L158.6 678.4 L159.1 678.6 L159.6 679.3 L160.1 680.3 L160.6 681.4 L161.1 682.4 L161.6 683.1 L162.1 683.6 L162.6 684 L163.1 684.1 L163.6 684.2" fill="none" stroke="#3b6fd4" stroke-width="0.6"/>
<path d="M155.5 684.1 L155.9 683.9 L156.3 683.5 L156.8 682.8 L157.2 681.7 L157.6 680.2 L158 678.1 L158.5 675.6 L158.9 672.8 L159.3 670 L159.7 667.5 L160.1 665.9 L160.6 665.3 L161 665.9 L161.4 667.5 L161.8 670 L162.2 672.8 L162.7 675.6 L163.1 678.1 L163.5 680.2 L163.9 681.7 L164.4 682.8 L164.8 683.5 L165.2 683.9 L165.6 684.1" fill="#e0474c" fill-opacity="0.16" stroke="#e0474c" stroke-width="0.75"/>
<path d="M159.5 684.1 L159.9 684 L160.4 683.7 L160.8 683.2 L161.2 682.4 L161.6 681.2 L162 679.7 L162.5 677.8 L162.9 675.7 L163.3 673.6 L163.7 671.8 L164.2 670.6 L164.6 670.2 L165 670.6 L165.4 671.8 L165.8 673.6 L166.3 675.7 L166.7 677.8 L167.1 679.7 L167.5 681.2 L167.9 682.4 L168.4 683.2 L168.8 683.7 L169.2 684 L169.6 684.1" fill="#3b6fd4" fill-opacity="0.16" stroke="#3b6fd4" stroke-width="0.75"/>
<path d="M161.5 684.2 L162 684.1 L162.5 684 L163 683.6 L163.5 683.1 L164.1 682.4 L164.6 681.4 L165.1 680.3 L165.6 679.3 L166.1 678.6 L166.6 678.3 L167.1 678.6 L167.6 679.3 L168.1 680.3 L168.6 681.4 L169.1 682.4 L169.6 683.1 L170.1 683.6 L170.6 684 L171.1 684.1 L171.6 684.2" fill="none" stroke="#222222" stroke-width="0.6"/>
<path d="M163.5 684.2 L164 684.1 L164.4 683.9 L164.8 683.6 L165.2 683 L165.6 682.3 L166.1 681.3 L166.5 680.1 L166.9 678.7 L167.3 677.3 L167.7 676.1 L168.2 675.3 L168.6 675 L169 675.3 L169.4 676.1 L169.9 677.3 L170.3 678.7 L170.7 680.1 L171.1 681.3 L171.5 682.3 L172 683 L172.4 683.6 L172.8 683.9 L173.2 684.1 L173.6 684.2" fill="#3cb93c" fill-opacity="0.16" stroke="#3cb93c" stroke-width="0.75"/>
<path d="M167.5 684.1 L168 683.9 L168.4 683.6 L168.8 683 L169.2 682 L169.7 680.7 L170.1 678.8 L170.5 676.6 L170.9 674.1 L171.3 671.6 L171.8 669.5 L172.2 668 L172.6 667.5 L173 668 L173.4 669.5 L173.9 671.6 L174.3 674.1 L174.7 676.6 L175.1 678.8 L175.5 680.7 L176 682 L176.4 683 L176.8 683.6 L177.2 683.9 L177.7 684.1" fill="#222222" fill-opacity="0.16" stroke="#222222" stroke-width="0.75"/>
<path d="M169.5 684.3 L170.1 684.2 L170.6 684.1 L171.1 684 L171.6 683.7 L172.1 683.4 L172.6 682.9 L173.1 682.4 L173.6 681.9 L174.1 681.6 L174.6 681.4 L175.1 681.6 L175.6 681.9 L176.1 682.4 L176.6 682.9 L177.1 683.4 L177.6 683.7 L178.1 684 L178.7 684.1 L179.2 684.2 L179.7 684.3" fill="none" stroke="#3b6fd4" stroke-width="0.6"/>
<path d="M171.6 684.2 L172 684 L172.4 683.8 L172.8 683.3 L173.2 682.6 L173.7 681.6 L174.1 680.3 L174.5 678.6 L174.9 676.8 L175.3 675 L175.8 673.4 L176.2 672.3 L176.6 671.9 L177 672.3 L177.5 673.4 L177.9 675 L178.3 676.8 L178.7 678.6 L179.1 680.3 L179.6 681.6 L180 682.6 L180.4 683.3 L180.8 683.8 L181.2 684 L181.7 684.2" fill="#3cb93c" fill-opacity="0.16" stroke="#3cb93c" stroke-width="0.75"/>
<path d="M173.6 684.3 L174.1 684.2 L174.6 684.1 L175.1 683.9 L175.6 683.6 L176.1 683.1 L176.6 682.6 L177.1 681.9 L177.6 681.3 L178.1 680.9 L178.6 680.8 L179.1 680.9 L179.6 681.3 L180.1 681.9 L180.6 682.6 L181.1 683.1 L181.7 683.6 L182.2 683.9 L182.7 684.1 L183.2 684.2 L183.7 684.3" fill="none" stroke="#222222" stroke-width="0.6"/>
<path d="M175.6 684.2 L176 684.1 L176.4 683.9 L176.8 683.5 L177.3 683 L177.7 682.1 L178.1 681.1 L178.5 679.7 L178.9 678.3 L179.4 676.8 L179.8 675.5 L180.2 674.6 L180.6 674.3 L181 674.6 L181.5 675.5 L181.9 676.8 L182.3 678.3 L182.7 679.7 L183.2 681.1 L183.6 682.1 L184 683 L184.4 683.5 L184.8 683.9 L185.3 684.1 L185.7 684.2" fill="#3cb93c" fill-opacity="0.16" stroke="#3cb93c" stroke-width="0.75"/>
<path d="M179.6 684.2 L180 684.1 L180.4 683.9 L180.8 683.6 L181.3 683.1 L181.7 682.3 L182.1 681.3 L182.5 680.1 L183 678.7 L183.4 677.4 L183.8 676.2 L184.2 675.4 L184.6 675.1 L185.1 675.4 L185.5 676.2 L185.9 677.4 L186.3 678.7 L186.7 680.1 L187.2 681.3 L187.6 682.3 L188 683.1 L188.4 683.6 L188.9 683.9 L189.3 684.1 L189.7 684.2" fill="#3cb93c" fill-opacity="0.16" stroke="#3cb93c" stroke-width="0.75"/>
<path d="M183.6 684.2 L184 684.1 L184.4 683.8 L184.9 683.5 L185.3 682.9 L185.7 682 L186.1 680.8 L186.5 679.4 L187 677.8 L187.4 676.3 L187.8 674.9 L188.2 674 L188.7 673.6 L189.1 674 L189.5 674.9 L189.9 676.3 L190.3 677.8 L190.8 679.4 L191.2 680.8 L191.6 682 L192 682.9 L192.4 683.5 L192.9 683.8 L193.3 684.1 L193.7 684.2" fill="#3cb93c" fill-opacity="0.16" stroke="#3cb93c" stroke-width="0.75"/>
<path d="M187.6 684.2 L188 684.1 L188.5 683.8 L188.9 683.4 L189.3 682.8 L189.7 682 L190.1 680.8 L190.6 679.4 L191 677.8 L191.4 676.2 L191.8 674.8 L192.2 673.9 L192.7 673.5 L193.1 673.9 L193.5 674.8 L193.9 676.2 L194.4 677.8 L194.8 679.4 L195.2 680.8 L195.6 682 L196 682.8 L196.5 683.4 L196.9 683.8 L197.3 684.1 L197.7 684.2" fill="#222222" fill-opacity="0.16" stroke="#222222" stroke-width="0.75"/>
<path d="M191.6 684.2 L192 684 L192.5 683.7 L192.9 683.3 L193.3 682.5 L193.7 681.5 L194.2 680.1 L194.6 678.3 L195 676.4 L195.4 674.5 L195.8 672.8 L196.3 671.7 L196.7 671.3 L197.1 671.7 L197.5 672.8 L197.9 674.5 L198.4 676.4 L198.8 678.3 L199.2 680.1 L199.6 681.5 L200.1 682.5 L200.5 683.3 L200.9 683.7 L201.3 684 L201.7 684.2" fill="#222222" fill-opacity="0.16" stroke="#222222" stroke-width="0.75"/>
<path d="M195.6 684.1 L196.1 683.9 L196.5 683.5 L196.9 682.8 L197.3 681.8 L197.7 680.3 L198.2 678.3 L198.6 675.9 L199 673.1 L199.4 670.4 L199.9 668 L200.3 666.4 L200.7 665.9 L201.1 666.4 L201.5 668 L202 670.4 L202.4 673.1 L202.8 675.9 L203.2 678.3 L203.6 680.3 L204.1 681.8 L204.5 682.8 L204.9 683.5 L205.3 683.9 L205.8 684.1" fill="#3cb93c" fill-opacity="0.16" stroke="#3cb93c" stroke-width="0.75"/>
<path d="M199.6 684.1 L200.1 683.9 L200.5 683.6 L200.9 683 L201.3 682.1 L201.8 680.8 L202.2 679 L202.6 676.9 L203 674.5 L203.4 672.1 L203.9 670 L204.3 668.6 L204.7 668.1 L205.1 668.6 L205.5 670 L206 672.1 L206.4 674.5 L206.8 676.9 L207.2 679 L207.7 680.8 L208.1 682.1 L208.5 683 L208.9 683.6 L209.3 683.9 L209.8 684.1" fill="#3cb93c" fill-opacity="0.16" stroke="#3cb93c" stroke-width="0.75"/>
<path d="M203.7 684.1 L204.1 683.8 L204.5 683.3 L204.9 682.5 L205.3 681.3 L205.8 679.4 L206.2 677 L206.6 674 L207 670.7 L207.5 667.4 L207.9 664.5 L208.3 662.6 L208.7 661.9 L209.1 662.6 L209.6 664.5 L210 667.4 L210.4 670.7 L210.8 674 L211.2 677 L211.7 679.4 L212.1 681.3 L212.5 682.5 L212.9 683.3 L213.4 683.8 L213.8 684.1" fill="#3b6fd4" fill-opacity="0.16" stroke="#3b6fd4" stroke-width="0.75"/>
<path d="M205.7 684.3 L206.2 684.2 L206.7 684.1 L207.2 684 L207.7 683.7 L208.2 683.3 L208.7 682.9 L209.2 682.3 L209.7 681.8 L210.2 681.5 L210.7 681.3 L211.2 681.5 L211.7 681.8 L212.2 682.3 L212.7 682.9 L213.3 683.3 L213.8 683.7 L214.3 684 L214.8 684.1 L215.3 684.2 L215.8 684.3" fill="none" stroke="#222222" stroke-width="0.6"/>
<path d="M207.7 684.1 L208.1 683.9 L208.5 683.5 L208.9 682.9 L209.4 681.8 L209.8 680.4 L210.2 678.4 L210.6 676 L211 673.3 L211.5 670.6 L211.9 668.3 L212.3 666.7 L212.7 666.1 L213.2 666.7 L213.6 668.3 L214 670.6 L214.4 673.3 L214.8 676 L215.3 678.4 L215.7 680.4 L216.1 681.8 L216.5 682.9 L216.9 683.5 L217.4 683.9 L217.8 684.1" fill="#3b6fd4" fill-opacity="0.16" stroke="#3b6fd4" stroke-width="0.75"/>
<path d="M211.7 684.1 L212.1 683.9 L212.5 683.6 L213 683 L213.4 682 L213.8 680.7 L214.2 678.9 L214.6 676.6 L215.1 674.1 L215.5 671.7 L215.9 669.5 L216.3 668.1 L216.7 667.5 L217.2 668.1 L217.6 669.5 L218 671.7 L218.4 674.1 L218.9 676.6 L219.3 678.9 L219.7 680.7 L220.1 682 L220.5 683 L221 683.6 L221.4 683.9 L221.8 684.1" fill="#3cb93c" fill-opacity="0.16" stroke="#3cb93c" stroke-width="0.75"/>
<path d="M213.7 684.3 L214.2 684.2 L214.7 684.2 L215.2 684 L215.7 683.8 L216.2 683.5 L216.7 683.1 L217.2 682.6 L217.7 682.2 L218.2 681.9 L218.8 681.8 L219.3 681.9 L219.8 682.2 L220.3 682.6 L220.8 683.1 L221.3 683.5 L221.8 683.8 L222.3 684 L222.8 684.2 L223.3 684.2 L223.8 684.3" fill="none" stroke="#3cb93c" stroke-width="0.6"/>
<path d="M215.7 684.1 L216.1 684 L216.5 683.6 L217 683.1 L217.4 682.2 L217.8 681 L218.2 679.4 L218.7 677.3 L219.1 675.1 L219.5 672.8 L219.9 670.9 L220.3 669.5 L220.8 669.1 L221.2 669.5 L221.6 670.9 L222 672.8 L222.4 675.1 L222.9 677.3 L223.3 679.4 L223.7 681 L224.1 682.2 L224.6 683.1 L225 683.6 L225.4 684 L225.8 684.1" fill="#222222" fill-opacity="0.16" stroke="#222222" stroke-width="0.75"/>
<path d="M219.7 684.2 L220.1 684.1 L220.6 683.9 L221 683.5 L221.4 683 L221.8 682.1 L222.2 681.1 L222.7 679.7 L223.1 678.3 L223.5 676.8 L223.9 675.5 L224.4 674.6 L224.8 674.3 L225.2 674.6 L225.6 675.5 L226 676.8 L226.5 678.3 L226.9 679.7 L227.3 681.1 L227.7 682.1 L228.1 683 L228.6 683.5 L229 683.9 L229.4 684.1 L229.8 684.2" fill="#e0474c" fill-opacity="0.16" stroke="#e0474c" stroke-width="0.75"/>
<path d="M223.7 684 L224.2 683.7 L224.6 683.2 L225 682.3 L225.4 680.8 L225.8 678.7 L226.3 676 L226.7 672.5 L227.1 668.7 L227.5 664.9 L227.9 661.6 L228.4 659.4 L228.8 658.6 L229.2 659.4 L229.6 661.6 L230.1 664.9 L230.5 668.7 L230.9 672.5 L231.3 676 L231.7 678.7 L232.2 680.8 L232.6 682.3 L233 683.2 L233.4 683.7 L233.8 684" fill="#222222" fill-opacity="0.16" stroke="#222222" stroke-width="0.75"/>
<path d="M225.7 684.3 L226.2 684.2 L226.7 684.1 L227.3 684 L227.8 683.8 L228.3 683.4 L228.8 683 L229.3 682.5 L229.8 682 L230.3 681.7 L230.8 681.6 L231.3 681.7 L231.8 682 L232.3 682.5 L232.8 683 L233.3 683.4 L233.8 683.8 L234.3 684 L234.8 684.1 L235.3 684.2 L235.9 684.3" fill="none" stroke="#3cb93c" stroke-width="0.6"/>
<path d="M227.7 684.1 L228.2 684 L228.6 683.7 L229 683.2 L229.4 682.4 L229.9 681.3 L230.3 679.8 L230.7 678 L231.1 675.9 L231.5 673.9 L232 672.1 L232.4 670.9 L232.8 670.5 L233.2 670.9 L233.6 672.1 L234.1 673.9 L234.5 675.9 L234.9 678 L235.3 679.8 L235.7 681.3 L236.2 682.4 L236.6 683.2 L237 683.7 L237.4 684 L237.9 684.1" fill="#3cb93c" fill-opacity="0.16" stroke="#3cb93c" stroke-width="0.75"/>
<path d="M229.7 684.3 L230.3 684.2 L230.8 684.2 L231.3 684 L231.8 683.8 L232.3 683.5 L232.8 683.1 L233.3 682.6 L233.8 682.2 L234.3 681.9 L234.8 681.7 L235.3 681.9 L235.8 682.2 L236.3 682.6 L236.8 683.1 L237.3 683.5 L237.8 683.8 L238.3 684 L238.9 684.2 L239.4 684.2 L239.9 684.3" fill="none" stroke="#222222" stroke-width="0.6"/>
<path d="M231.8 684.1 L232.2 684 L232.6 683.6 L233 683.1 L233.4 682.3 L233.9 681.1 L234.3 679.5 L234.7 677.5 L235.1 675.3 L235.5 673.1 L236 671.2 L236.4 669.9 L236.8 669.4 L237.2 669.9 L237.7 671.2 L238.1 673.1 L238.5 675.3 L238.9 677.5 L239.3 679.5 L239.8 681.1 L240.2 682.3 L240.6 683.1 L241 683.6 L241.4 684 L241.9 684.1" fill="#e0474c" fill-opacity="0.16" stroke="#e0474c" stroke-width="0.75"/>
<path d="M235.8 684.1 L236.2 683.9 L236.6 683.6 L237 683 L237.5 682.2 L237.9 680.9 L238.3 679.2 L238.7 677.1 L239.1 674.7 L239.6 672.4 L240 670.4 L240.4 669 L240.8 668.5 L241.2 669 L241.7 670.4 L242.1 672.4 L242.5 674.7 L242.9 677.1 L243.4 679.2 L243.8 680.9 L244.2 682.2 L244.6 683 L245 683.6 L245.5 683.9 L245.9 684.1" fill="#e0474c" fill-opacity="0.16" stroke="#e0474c" stroke-width="0.75"/>
<path d="M239.8 684.1 L240.2 683.8 L240.6 683.4 L241 682.6 L241.5 681.5 L241.9 679.8 L242.3 677.5 L242.7 674.7 L243.2 671.6 L243.6 668.4 L244 665.8 L244.4 663.9 L244.8 663.3 L245.3 663.9 L245.7 665.8 L246.1 668.4 L246.5 671.6 L246.9 674.7 L247.4 677.5 L247.8 679.8 L248.2 681.5 L248.6 682.6 L249.1 683.4 L249.5 683.8 L249.9 684.1" fill="#e0474c" fill-opacity="0.16" stroke="#e0474c" stroke-width="0.75"/>
<path d="M243.8 684 L244.2 683.7 L244.6 683.1 L245.1 682.1 L245.5 680.6 L245.9 678.4 L246.3 675.4 L246.7 671.8 L247.2 667.7 L247.6 663.6 L248 660.1 L248.4 657.8 L248.9 656.9 L249.3 657.8 L249.7 660.1 L250.1 663.6 L250.5 667.7 L251 671.8 L251.4 675.4 L251.8 678.4 L252.2 680.6 L252.6 682.1 L253.1 683.1 L253.5 683.7 L253.9 684" fill="#3cb93c" fill-opacity="0.16" stroke="#3cb93c" stroke-width="0.75"/>
<path d="M245.8 684.2 L246.3 684.2 L246.8 684 L247.3 683.8 L247.8 683.3 L248.3 682.7 L248.8 681.9 L249.3 681 L249.8 680.2 L250.4 679.6 L250.9 679.4 L251.4 679.6 L251.9 680.2 L252.4 681 L252.9 681.9 L253.4 682.7 L253.9 683.3 L254.4 683.8 L254.9 684 L255.4 684.2 L255.9 684.2" fill="none" stroke="#3cb93c" stroke-width="0.6"/>
<path d="M247.8 684.2 L248.2 684 L248.7 683.7 L249.1 683.3 L249.5 682.5 L249.9 681.5 L250.3 680 L250.8 678.3 L251.2 676.3 L251.6 674.4 L252 672.7 L252.4 671.6 L252.9 671.2 L253.3 671.6 L253.7 672.7 L254.1 674.4 L254.6 676.3 L255 678.3 L255.4 680 L255.8 681.5 L256.2 682.5 L256.7 683.3 L257.1 683.7 L257.5 684 L257.9 684.2" fill="#3b6fd4" fill-opacity="0.16" stroke="#3b6fd4" stroke-width="0.75"/>
<path d="M249.8 684.2 L250.3 684.2 L250.8 684 L251.3 683.8 L251.8 683.3 L252.3 682.7 L252.9 681.9 L253.4 681 L253.9 680.2 L254.4 679.6 L254.9 679.4 L255.4 679.6 L255.9 680.2 L256.4 681 L256.9 681.9 L257.4 682.7 L257.9 683.3 L258.4 683.8 L258.9 684 L259.4 684.2 L259.9 684.2" fill="none" stroke="#222222" stroke-width="0.6"/>
<path d="M251.8 684.1 L252.2 683.8 L252.7 683.4 L253.1 682.7 L253.5 681.5 L253.9 679.8 L254.4 677.6 L254.8 674.8 L255.2 671.7 L255.6 668.7 L256 666 L256.5 664.2 L256.9 663.6 L257.3 664.2 L257.7 666 L258.1 668.7 L258.6 671.7 L259 674.8 L259.4 677.6 L259.8 679.8 L260.3 681.5 L260.7 682.7 L261.1 683.4 L261.5 683.8 L261.9 684.1" fill="#e0474c" fill-opacity="0.16" stroke="#e0474c" stroke-width="0.75"/>
<path d="M255.8 684.1 L256.3 683.9 L256.7 683.5 L257.1 682.8 L257.5 681.7 L257.9 680.1 L258.4 678 L258.8 675.5 L259.2 672.6 L259.6 669.7 L260.1 667.3 L260.5 665.6 L260.9 665 L261.3 665.6 L261.7 667.3 L262.2 669.7 L262.6 672.6 L263 675.5 L263.4 678 L263.8 680.1 L264.3 681.7 L264.7 682.8 L265.1 683.5 L265.5 683.9 L266 684.1" fill="#e0474c" fill-opacity="0.16" stroke="#e0474c" stroke-width="0.75"/>
<line x1="80.8" y1="684.9" x2="263.9" y2="684.9" stroke="#b07070" stroke-width="0.9" />
<text x="174.6" y="628.1" font-size="7.2" text-anchor="middle" font-weight="bold" fill="#111" stroke="#111" stroke-width="0.1" >Back-splice site</text>
<line x1="174.1" y1="630.3" x2="174.1" y2="637.2" stroke="#b41c28" stroke-width="1.6" />
<rect x="80.8" y="738" width="183.1" height="52.7" fill="#fcfbef" stroke="none" stroke-width="1" />
<line x1="99.6" y1="750.4" x2="99.6" y2="789.3" stroke="#c8c8c8" stroke-width="0.5" stroke-dasharray="0.8 1.2"/>
<line x1="139.6" y1="750.4" x2="139.6" y2="789.3" stroke="#c8c8c8" stroke-width="0.5" stroke-dasharray="0.8 1.2"/>
<line x1="179.2" y1="750.4" x2="179.2" y2="789.3" stroke="#c8c8c8" stroke-width="0.5" stroke-dasharray="0.8 1.2"/>
<line x1="220" y1="750.4" x2="220" y2="789.3" stroke="#c8c8c8" stroke-width="0.5" stroke-dasharray="0.8 1.2"/>
<line x1="261" y1="750.4" x2="261" y2="789.3" stroke="#c8c8c8" stroke-width="0.5" stroke-dasharray="0.8 1.2"/>
<text x="82.3" y="748" font-size="7.307999999999999" style="font-family:'Liberation Mono'" fill="#2a2a2a" textLength="179.8" lengthAdjust="spacingAndGlyphs">TTCCAAACTCCCAGCTTGTGTTCAGGAAAGGGACCAATGATTTACTT</text>
<path d="M79.4 789.1 L79.8 788.8 L80.2 788.4 L80.6 787.6 L81 786.5 L81.4 784.8 L81.8 782.5 L82.2 779.7 L82.6 776.5 L83 773.4 L83.4 770.7 L83.8 768.9 L84.2 768.3 L84.6 768.9 L85 770.7 L85.4 773.4 L85.8 776.5 L86.2 779.7 L86.6 782.5 L87 784.8 L87.4 786.5 L87.9 787.6 L88.3 788.4 L88.7 788.8 L89.1 789.1" fill="#e0474c" fill-opacity="0.16" stroke="#e0474c" stroke-width="0.75"/>
<path d="M83.2 789.2 L83.6 789.1 L84 788.9 L84.4 788.5 L84.8 787.9 L85.2 787.1 L85.6 786 L86 784.7 L86.4 783.2 L86.9 781.7 L87.3 780.4 L87.7 779.5 L88.1 779.2 L88.5 779.5 L88.9 780.4 L89.3 781.7 L89.7 783.2 L90.1 784.7 L90.5 786 L90.9 787.1 L91.3 787.9 L91.7 788.5 L92.1 788.9 L92.5 789.1 L92.9 789.2" fill="#e0474c" fill-opacity="0.16" stroke="#e0474c" stroke-width="0.75"/>
<path d="M87.1 789.1 L87.5 788.9 L87.9 788.6 L88.3 788 L88.7 787.1 L89.1 785.9 L89.5 784.1 L89.9 782 L90.3 779.7 L90.7 777.3 L91.1 775.3 L91.5 773.9 L91.9 773.4 L92.3 773.9 L92.7 775.3 L93.1 777.3 L93.5 779.7 L93.9 782 L94.3 784.1 L94.7 785.9 L95.1 787.1 L95.5 788 L95.9 788.6 L96.3 788.9 L96.7 789.1" fill="#3b6fd4" fill-opacity="0.16" stroke="#3b6fd4" stroke-width="0.75"/>
<path d="M89 789.3 L89.5 789.2 L90 789.2 L90.4 789.1 L90.9 788.9 L91.4 788.6 L91.9 788.3 L92.4 787.9 L92.9 787.6 L93.3 787.3 L93.8 787.2 L94.3 787.3 L94.8 787.6 L95.3 787.9 L95.8 788.3 L96.2 788.6 L96.7 788.9 L97.2 789.1 L97.7 789.2 L98.2 789.2 L98.7 789.3" fill="none" stroke="#e0474c" stroke-width="0.6"/>
<path d="M90.9 789.1 L91.3 788.9 L91.7 788.6 L92.1 787.9 L92.5 787 L92.9 785.6 L93.3 783.8 L93.7 781.5 L94.1 779 L94.5 776.4 L94.9 774.2 L95.3 772.8 L95.7 772.2 L96.2 772.8 L96.6 774.2 L97 776.4 L97.4 779 L97.8 781.5 L98.2 783.8 L98.6 785.6 L99 787 L99.4 787.9 L99.8 788.6 L100.2 788.9 L100.6 789.1" fill="#3b6fd4" fill-opacity="0.16" stroke="#3b6fd4" stroke-width="0.75"/>
<path d="M92.8 789.3 L93.3 789.2 L93.8 789.1 L94.3 788.9 L94.8 788.6 L95.2 788.1 L95.7 787.5 L96.2 786.8 L96.7 786.2 L97.2 785.8 L97.7 785.6 L98.2 785.8 L98.6 786.2 L99.1 786.8 L99.6 787.5 L100.1 788.1 L100.6 788.6 L101.1 788.9 L101.5 789.1 L102 789.2 L102.5 789.3" fill="none" stroke="#e0474c" stroke-width="0.6"/>
<path d="M94.7 789.1 L95.2 788.9 L95.6 788.6 L96 788.1 L96.4 787.2 L96.8 785.9 L97.2 784.2 L97.6 782.1 L98 779.8 L98.4 777.5 L98.8 775.5 L99.2 774.1 L99.6 773.6 L100 774.1 L100.4 775.5 L100.8 777.5 L101.2 779.8 L101.6 782.1 L102 784.2 L102.4 785.9 L102.8 787.2 L103.2 788.1 L103.6 788.6 L104 788.9 L104.4 789.1" fill="#3cb93c" fill-opacity="0.16" stroke="#3cb93c" stroke-width="0.75"/>
<path d="M98.6 789.2 L99 789.1 L99.4 788.9 L99.8 788.5 L100.2 788 L100.6 787.2 L101 786.1 L101.4 784.8 L101.8 783.4 L102.2 781.9 L102.6 780.7 L103 779.9 L103.4 779.6 L103.8 779.9 L104.2 780.7 L104.6 781.9 L105 783.4 L105.5 784.8 L105.9 786.1 L106.3 787.2 L106.7 788 L107.1 788.5 L107.5 788.9 L107.9 789.1 L108.3 789.2" fill="#3cb93c" fill-opacity="0.16" stroke="#3cb93c" stroke-width="0.75"/>
<path d="M102.4 789.1 L102.8 788.9 L103.2 788.5 L103.6 787.9 L104 786.9 L104.5 785.5 L104.9 783.6 L105.3 781.3 L105.7 778.7 L106.1 776.1 L106.5 773.8 L106.9 772.3 L107.3 771.7 L107.7 772.3 L108.1 773.8 L108.5 776.1 L108.9 778.7 L109.3 781.3 L109.7 783.6 L110.1 785.5 L110.5 786.9 L110.9 787.9 L111.3 788.5 L111.7 788.9 L112.1 789.1" fill="#3cb93c" fill-opacity="0.16" stroke="#3cb93c" stroke-width="0.75"/>
<path d="M106.3 789.1 L106.7 789 L107.1 788.7 L107.5 788.2 L107.9 787.4 L108.3 786.3 L108.7 784.8 L109.1 783 L109.5 781 L109.9 778.9 L110.3 777.2 L110.7 776 L111.1 775.6 L111.5 776 L111.9 777.2 L112.3 778.9 L112.7 781 L113.1 783 L113.5 784.8 L113.9 786.3 L114.3 787.4 L114.8 788.2 L115.2 788.7 L115.6 789 L116 789.1" fill="#3b6fd4" fill-opacity="0.16" stroke="#3b6fd4" stroke-width="0.75"/>
<path d="M110.1 789.1 L110.5 788.9 L110.9 788.6 L111.3 788 L111.7 787.1 L112.1 785.7 L112.5 784 L112.9 781.8 L113.3 779.3 L113.8 776.9 L114.2 774.8 L114.6 773.4 L115 772.9 L115.4 773.4 L115.8 774.8 L116.2 776.9 L116.6 779.3 L117 781.8 L117.4 784 L117.8 785.7 L118.2 787.1 L118.6 788 L119 788.6 L119.4 788.9 L119.8 789.1" fill="#e0474c" fill-opacity="0.16" stroke="#e0474c" stroke-width="0.75"/>
<path d="M112 789.2 L112.5 789.2 L113 789 L113.5 788.7 L114 788.3 L114.5 787.6 L114.9 786.7 L115.4 785.8 L115.9 784.9 L116.4 784.3 L116.9 784 L117.4 784.3 L117.9 784.9 L118.3 785.8 L118.8 786.7 L119.3 787.6 L119.8 788.3 L120.3 788.7 L120.8 789 L121.2 789.2 L121.7 789.2" fill="none" stroke="#3cb93c" stroke-width="0.6"/>
<path d="M114 789.2 L114.4 789 L114.8 788.8 L115.2 788.4 L115.6 787.8 L116 786.9 L116.4 785.6 L116.8 784.1 L117.2 782.4 L117.6 780.8 L118 779.3 L118.4 778.3 L118.8 778 L119.2 778.3 L119.6 779.3 L120 780.8 L120.4 782.4 L120.8 784.1 L121.2 785.6 L121.6 786.9 L122 787.8 L122.4 788.4 L122.8 788.8 L123.2 789 L123.6 789.2" fill="#3b6fd4" fill-opacity="0.16" stroke="#3b6fd4" stroke-width="0.75"/>
<path d="M117.8 789.1 L118.2 788.9 L118.6 788.5 L119 787.9 L119.4 786.9 L119.8 785.5 L120.2 783.5 L120.6 781.2 L121 778.5 L121.4 775.9 L121.8 773.6 L122.2 772.1 L122.6 771.5 L123.1 772.1 L123.5 773.6 L123.9 775.9 L124.3 778.5 L124.7 781.2 L125.1 783.5 L125.5 785.5 L125.9 786.9 L126.3 787.9 L126.7 788.5 L127.1 788.9 L127.5 789.1" fill="#3b6fd4" fill-opacity="0.16" stroke="#3b6fd4" stroke-width="0.75"/>
<path d="M121.6 789.1 L122.1 788.9 L122.5 788.6 L122.9 788 L123.3 787.1 L123.7 785.9 L124.1 784.1 L124.5 782 L124.9 779.6 L125.3 777.3 L125.7 775.2 L126.1 773.9 L126.5 773.4 L126.9 773.9 L127.3 775.2 L127.7 777.3 L128.1 779.6 L128.5 782 L128.9 784.1 L129.3 785.9 L129.7 787.1 L130.1 788 L130.5 788.6 L130.9 788.9 L131.3 789.1" fill="#3b6fd4" fill-opacity="0.16" stroke="#3b6fd4" stroke-width="0.75"/>
<path d="M125.5 789 L125.9 788.7 L126.3 788.2 L126.7 787.2 L127.1 785.8 L127.5 783.7 L127.9 780.9 L128.3 777.5 L128.7 773.6 L129.1 769.8 L129.5 766.5 L129.9 764.3 L130.3 763.5 L130.7 764.3 L131.1 766.5 L131.5 769.8 L131.9 773.6 L132.3 777.5 L132.8 780.9 L133.2 783.7 L133.6 785.8 L134 787.2 L134.4 788.2 L134.8 788.7 L135.2 789" fill="#3cb93c" fill-opacity="0.16" stroke="#3cb93c" stroke-width="0.75"/>
<path d="M129.3 789.1 L129.7 788.8 L130.1 788.4 L130.5 787.6 L130.9 786.4 L131.4 784.7 L131.8 782.4 L132.2 779.6 L132.6 776.4 L133 773.3 L133.4 770.6 L133.8 768.7 L134.2 768.1 L134.6 768.7 L135 770.6 L135.4 773.3 L135.8 776.4 L136.2 779.6 L136.6 782.4 L137 784.7 L137.4 786.4 L137.8 787.6 L138.2 788.4 L138.6 788.8 L139 789.1" fill="#222222" fill-opacity="0.16" stroke="#222222" stroke-width="0.75"/>
<path d="M133.2 789.2 L133.6 789.1 L134 788.8 L134.4 788.5 L134.8 787.9 L135.2 787 L135.6 785.9 L136 784.5 L136.4 783 L136.8 781.4 L137.2 780.1 L137.6 779.2 L138 778.9 L138.4 779.2 L138.8 780.1 L139.2 781.4 L139.6 783 L140 784.5 L140.4 785.9 L140.8 787 L141.2 787.9 L141.6 788.5 L142.1 788.8 L142.5 789.1 L142.9 789.2" fill="#3b6fd4" fill-opacity="0.16" stroke="#3b6fd4" stroke-width="0.75"/>
<path d="M137 789.1 L137.4 788.8 L137.8 788.4 L138.2 787.7 L138.6 786.5 L139 784.8 L139.4 782.6 L139.8 779.9 L140.2 776.8 L140.6 773.7 L141.1 771.1 L141.5 769.3 L141.9 768.7 L142.3 769.3 L142.7 771.1 L143.1 773.7 L143.5 776.8 L143.9 779.9 L144.3 782.6 L144.7 784.8 L145.1 786.5 L145.5 787.7 L145.9 788.4 L146.3 788.8 L146.7 789.1" fill="#e0474c" fill-opacity="0.16" stroke="#e0474c" stroke-width="0.75"/>
<path d="M138.9 789.3 L139.4 789.2 L139.9 789.2 L140.4 789 L140.9 788.8 L141.4 788.5 L141.8 788.1 L142.3 787.7 L142.8 787.3 L143.3 787 L143.8 786.9 L144.3 787 L144.7 787.3 L145.2 787.7 L145.7 788.1 L146.2 788.5 L146.7 788.8 L147.2 789 L147.7 789.2 L148.1 789.2 L148.6 789.3" fill="none" stroke="#3b6fd4" stroke-width="0.6"/>
<path d="M140.9 789.1 L141.3 788.9 L141.7 788.5 L142.1 787.8 L142.5 786.7 L142.9 785.1 L143.3 783.1 L143.7 780.5 L144.1 777.7 L144.5 774.8 L144.9 772.4 L145.3 770.7 L145.7 770.1 L146.1 770.7 L146.5 772.4 L146.9 774.8 L147.3 777.7 L147.7 780.5 L148.1 783.1 L148.5 785.1 L148.9 786.7 L149.3 787.8 L149.7 788.5 L150.1 788.9 L150.5 789.1" fill="#e0474c" fill-opacity="0.16" stroke="#e0474c" stroke-width="0.75"/>
<path d="M144.7 789.2 L145.1 789 L145.5 788.8 L145.9 788.3 L146.3 787.7 L146.7 786.7 L147.1 785.4 L147.5 783.8 L147.9 782 L148.3 780.2 L148.7 778.6 L149.1 777.6 L149.5 777.2 L149.9 777.6 L150.4 778.6 L150.8 780.2 L151.2 782 L151.6 783.8 L152 785.4 L152.4 786.7 L152.8 787.7 L153.2 788.3 L153.6 788.8 L154 789 L154.4 789.2" fill="#222222" fill-opacity="0.16" stroke="#222222" stroke-width="0.75"/>
<path d="M148.5 789.1 L148.9 788.9 L149.4 788.6 L149.8 788 L150.2 787 L150.6 785.7 L151 783.9 L151.4 781.7 L151.8 779.2 L152.2 776.7 L152.6 774.6 L153 773.1 L153.4 772.6 L153.8 773.1 L154.2 774.6 L154.6 776.7 L155 779.2 L155.4 781.7 L155.8 783.9 L156.2 785.7 L156.6 787 L157 788 L157.4 788.6 L157.8 788.9 L158.2 789.1" fill="#e0474c" fill-opacity="0.16" stroke="#e0474c" stroke-width="0.75"/>
<path d="M150.5 789.3 L151 789.2 L151.4 789.2 L151.9 789.1 L152.4 788.9 L152.9 788.6 L153.4 788.2 L153.9 787.8 L154.3 787.4 L154.8 787.2 L155.3 787.1 L155.8 787.2 L156.3 787.4 L156.8 787.8 L157.2 788.2 L157.7 788.6 L158.2 788.9 L158.7 789.1 L159.2 789.2 L159.7 789.2 L160.2 789.3" fill="none" stroke="#3cb93c" stroke-width="0.6"/>
<path d="M152.4 789 L152.8 788.6 L153.2 788 L153.6 787 L154 785.3 L154.4 783 L154.8 779.8 L155.2 775.9 L155.6 771.5 L156 767.2 L156.4 763.5 L156.8 760.9 L157.2 760 L157.6 760.9 L158 763.5 L158.4 767.2 L158.8 771.5 L159.2 775.9 L159.7 779.8 L160.1 783 L160.5 785.3 L160.9 787 L161.3 788 L161.7 788.6 L162.1 789" fill="#222222" fill-opacity="0.16" stroke="#222222" stroke-width="0.75"/>
<path d="M156.2 789.1 L156.6 788.8 L157 788.3 L157.4 787.6 L157.8 786.4 L158.2 784.6 L158.7 782.3 L159.1 779.4 L159.5 776.2 L159.9 773 L160.3 770.2 L160.7 768.3 L161.1 767.6 L161.5 768.3 L161.9 770.2 L162.3 773 L162.7 776.2 L163.1 779.4 L163.5 782.3 L163.9 784.6 L164.3 786.4 L164.7 787.6 L165.1 788.3 L165.5 788.8 L165.9 789.1" fill="#e0474c" fill-opacity="0.16" stroke="#e0474c" stroke-width="0.75"/>
<path d="M160.1 789.1 L160.5 788.9 L160.9 788.6 L161.3 788 L161.7 787.1 L162.1 785.8 L162.5 784.1 L162.9 782 L163.3 779.6 L163.7 777.2 L164.1 775.2 L164.5 773.8 L164.9 773.3 L165.3 773.8 L165.7 775.2 L166.1 777.2 L166.5 779.6 L166.9 782 L167.3 784.1 L167.7 785.8 L168.1 787.1 L168.5 788 L168.9 788.6 L169.4 788.9 L169.8 789.1" fill="#e0474c" fill-opacity="0.16" stroke="#e0474c" stroke-width="0.75"/>
<path d="M163.9 789.2 L164.3 789 L164.7 788.7 L165.1 788.2 L165.5 787.5 L165.9 786.4 L166.3 784.9 L166.7 783.1 L167.1 781.1 L167.5 779.1 L168 777.4 L168.4 776.2 L168.8 775.8 L169.2 776.2 L169.6 777.4 L170 779.1 L170.4 781.1 L170.8 783.1 L171.2 784.9 L171.6 786.4 L172 787.5 L172.4 788.2 L172.8 788.7 L173.2 789 L173.6 789.2" fill="#3b6fd4" fill-opacity="0.16" stroke="#3b6fd4" stroke-width="0.75"/>
<path d="M167.8 789 L168.2 788.7 L168.6 788.1 L169 787.2 L169.4 785.8 L169.8 783.6 L170.2 780.8 L170.6 777.3 L171 773.4 L171.4 769.5 L171.8 766.2 L172.2 763.9 L172.6 763.1 L173 763.9 L173.4 766.2 L173.8 769.5 L174.2 773.4 L174.6 777.3 L175 780.8 L175.4 783.6 L175.8 785.8 L176.2 787.2 L176.6 788.1 L177 788.7 L177.4 789" fill="#3cb93c" fill-opacity="0.16" stroke="#3cb93c" stroke-width="0.75"/>
<path d="M169.7 789.2 L170.2 789.1 L170.6 789 L171.1 788.7 L171.6 788.2 L172.1 787.4 L172.6 786.5 L173.1 785.4 L173.6 784.5 L174 783.8 L174.5 783.5 L175 783.8 L175.5 784.5 L176 785.4 L176.5 786.5 L176.9 787.4 L177.4 788.2 L177.9 788.7 L178.4 789 L178.9 789.1 L179.4 789.2" fill="none" stroke="#e0474c" stroke-width="0.6"/>
<path d="M171.6 789 L172 788.7 L172.4 788.1 L172.8 787.2 L173.2 785.7 L173.6 783.5 L174 780.6 L174.4 777 L174.8 773.1 L175.2 769.1 L175.6 765.7 L176 763.4 L176.4 762.5 L176.8 763.4 L177.2 765.7 L177.7 769.1 L178.1 773.1 L178.5 777 L178.9 780.6 L179.3 783.5 L179.7 785.7 L180.1 787.2 L180.5 788.1 L180.9 788.7 L181.3 789" fill="#222222" fill-opacity="0.16" stroke="#222222" stroke-width="0.75"/>
<path d="M173.5 789.3 L174 789.2 L174.5 789.1 L175 789 L175.5 788.7 L175.9 788.3 L176.4 787.8 L176.9 787.3 L177.4 786.8 L177.9 786.4 L178.4 786.3 L178.8 786.4 L179.3 786.8 L179.8 787.3 L180.3 787.8 L180.8 788.3 L181.3 788.7 L181.8 789 L182.2 789.1 L182.7 789.2 L183.2 789.3" fill="none" stroke="#3b6fd4" stroke-width="0.6"/>
<path d="M175.4 789.1 L175.8 789 L176.3 788.7 L176.7 788.1 L177.1 787.3 L177.5 786.2 L177.9 784.6 L178.3 782.7 L178.7 780.5 L179.1 778.4 L179.5 776.5 L179.9 775.3 L180.3 774.8 L180.7 775.3 L181.1 776.5 L181.5 778.4 L181.9 780.5 L182.3 782.7 L182.7 784.6 L183.1 786.2 L183.5 787.3 L183.9 788.1 L184.3 788.7 L184.7 789 L185.1 789.1" fill="#222222" fill-opacity="0.16" stroke="#222222" stroke-width="0.75"/>
<path d="M179.3 789.2 L179.7 789 L180.1 788.7 L180.5 788.2 L180.9 787.5 L181.3 786.4 L181.7 784.9 L182.1 783.1 L182.5 781.1 L182.9 779.1 L183.3 777.4 L183.7 776.3 L184.1 775.8 L184.5 776.3 L184.9 777.4 L185.3 779.1 L185.7 781.1 L186.1 783.1 L186.5 784.9 L187 786.4 L187.4 787.5 L187.8 788.2 L188.2 788.7 L188.6 789 L189 789.2" fill="#3cb93c" fill-opacity="0.16" stroke="#3cb93c" stroke-width="0.75"/>
<path d="M183.1 789.1 L183.5 788.8 L183.9 788.4 L184.3 787.7 L184.7 786.5 L185.1 784.8 L185.5 782.6 L186 779.9 L186.4 776.8 L186.8 773.7 L187.2 771.1 L187.6 769.3 L188 768.7 L188.4 769.3 L188.8 771.1 L189.2 773.7 L189.6 776.8 L190 779.9 L190.4 782.6 L190.8 784.8 L191.2 786.5 L191.6 787.7 L192 788.4 L192.4 788.8 L192.8 789.1" fill="#3cb93c" fill-opacity="0.16" stroke="#3cb93c" stroke-width="0.75"/>
<path d="M187 789.1 L187.4 788.9 L187.8 788.5 L188.2 787.9 L188.6 786.9 L189 785.4 L189.4 783.5 L189.8 781.1 L190.2 778.4 L190.6 775.7 L191 773.4 L191.4 771.8 L191.8 771.3 L192.2 771.8 L192.6 773.4 L193 775.7 L193.4 778.4 L193.8 781.1 L194.2 783.5 L194.6 785.4 L195 786.9 L195.4 787.9 L195.8 788.5 L196.3 788.9 L196.7 789.1" fill="#3cb93c" fill-opacity="0.16" stroke="#3cb93c" stroke-width="0.75"/>
<path d="M190.8 789.2 L191.2 789 L191.6 788.8 L192 788.3 L192.4 787.7 L192.8 786.7 L193.2 785.4 L193.6 783.8 L194 782 L194.4 780.2 L194.8 778.6 L195.3 777.6 L195.7 777.2 L196.1 777.6 L196.5 778.6 L196.9 780.2 L197.3 782 L197.7 783.8 L198.1 785.4 L198.5 786.7 L198.9 787.7 L199.3 788.3 L199.7 788.8 L200.1 789 L200.5 789.2" fill="#222222" fill-opacity="0.16" stroke="#222222" stroke-width="0.75"/>
<path d="M194.7 789.1 L195.1 788.9 L195.5 788.5 L195.9 787.8 L196.3 786.7 L196.7 785.2 L197.1 783.1 L197.5 780.6 L197.9 777.8 L198.3 774.9 L198.7 772.5 L199.1 770.9 L199.5 770.3 L199.9 770.9 L200.3 772.5 L200.7 774.9 L201.1 777.8 L201.5 780.6 L201.9 783.1 L202.3 785.2 L202.7 786.7 L203.1 787.8 L203.5 788.5 L203.9 788.9 L204.3 789.1" fill="#222222" fill-opacity="0.16" stroke="#222222" stroke-width="0.75"/>
<path d="M198.5 789 L198.9 788.7 L199.3 788.1 L199.7 787.1 L200.1 785.6 L200.5 783.3 L200.9 780.3 L201.3 776.6 L201.7 772.5 L202.1 768.4 L202.5 764.9 L202.9 762.5 L203.3 761.6 L203.7 762.5 L204.1 764.9 L204.6 768.4 L205 772.5 L205.4 776.6 L205.8 780.3 L206.2 783.3 L206.6 785.6 L207 787.1 L207.4 788.1 L207.8 788.7 L208.2 789" fill="#222222" fill-opacity="0.16" stroke="#222222" stroke-width="0.75"/>
<path d="M200.4 789.3 L200.9 789.2 L201.4 789.1 L201.9 789 L202.4 788.7 L202.8 788.3 L203.3 787.8 L203.8 787.3 L204.3 786.8 L204.8 786.4 L205.3 786.3 L205.7 786.4 L206.2 786.8 L206.7 787.3 L207.2 787.8 L207.7 788.3 L208.2 788.7 L208.7 789 L209.1 789.1 L209.6 789.2 L210.1 789.3" fill="none" stroke="#e0474c" stroke-width="0.6"/>
<path d="M202.3 789 L202.7 788.7 L203.1 788.1 L203.6 787.1 L204 785.6 L204.4 783.4 L204.8 780.5 L205.2 776.9 L205.6 772.9 L206 768.9 L206.4 765.4 L206.8 763.1 L207.2 762.2 L207.6 763.1 L208 765.4 L208.4 768.9 L208.8 772.9 L209.2 776.9 L209.6 780.5 L210 783.4 L210.4 785.6 L210.8 787.1 L211.2 788.1 L211.6 788.7 L212 789" fill="#3cb93c" fill-opacity="0.16" stroke="#3cb93c" stroke-width="0.75"/>
<path d="M206.2 789.2 L206.6 789 L207 788.8 L207.4 788.3 L207.8 787.7 L208.2 786.7 L208.6 785.4 L209 783.8 L209.4 782 L209.8 780.2 L210.2 778.7 L210.6 777.6 L211 777.2 L211.4 777.6 L211.8 778.7 L212.2 780.2 L212.6 782 L213 783.8 L213.4 785.4 L213.8 786.7 L214.3 787.7 L214.7 788.3 L215.1 788.8 L215.5 789 L215.9 789.2" fill="#3b6fd4" fill-opacity="0.16" stroke="#3b6fd4" stroke-width="0.75"/>
<path d="M210 789.1 L210.4 789 L210.8 788.6 L211.2 788.1 L211.6 787.3 L212 786.1 L212.4 784.5 L212.9 782.5 L213.3 780.3 L213.7 778.1 L214.1 776.2 L214.5 774.9 L214.9 774.5 L215.3 774.9 L215.7 776.2 L216.1 778.1 L216.5 780.3 L216.9 782.5 L217.3 784.5 L217.7 786.1 L218.1 787.3 L218.5 788.1 L218.9 788.6 L219.3 789 L219.7 789.1" fill="#3b6fd4" fill-opacity="0.16" stroke="#3b6fd4" stroke-width="0.75"/>
<path d="M211.9 789.3 L212.4 789.2 L212.9 789.2 L213.4 789.1 L213.9 788.9 L214.4 788.6 L214.9 788.3 L215.3 787.9 L215.8 787.6 L216.3 787.3 L216.8 787.2 L217.3 787.3 L217.8 787.6 L218.2 787.9 L218.7 788.3 L219.2 788.6 L219.7 788.9 L220.2 789.1 L220.7 789.2 L221.1 789.2 L221.6 789.3" fill="none" stroke="#e0474c" stroke-width="0.6"/>
<path d="M213.9 789.1 L214.3 788.8 L214.7 788.4 L215.1 787.6 L215.5 786.4 L215.9 784.7 L216.3 782.3 L216.7 779.5 L217.1 776.3 L217.5 773.1 L217.9 770.4 L218.3 768.5 L218.7 767.9 L219.1 768.5 L219.5 770.4 L219.9 773.1 L220.3 776.3 L220.7 779.5 L221.1 782.3 L221.5 784.7 L221.9 786.4 L222.3 787.6 L222.7 788.4 L223.1 788.8 L223.6 789.1" fill="#3cb93c" fill-opacity="0.16" stroke="#3cb93c" stroke-width="0.75"/>
<path d="M217.7 789 L218.1 788.7 L218.5 788.1 L218.9 787.1 L219.3 785.5 L219.7 783.3 L220.1 780.2 L220.5 776.5 L220.9 772.4 L221.3 768.2 L221.7 764.7 L222.1 762.3 L222.6 761.4 L223 762.3 L223.4 764.7 L223.8 768.2 L224.2 772.4 L224.6 776.5 L225 780.2 L225.4 783.3 L225.8 785.5 L226.2 787.1 L226.6 788.1 L227 788.7 L227.4 789" fill="#3cb93c" fill-opacity="0.16" stroke="#3cb93c" stroke-width="0.75"/>
<path d="M221.6 789.1 L222 788.8 L222.4 788.4 L222.8 787.6 L223.2 786.4 L223.6 784.7 L224 782.3 L224.4 779.5 L224.8 776.3 L225.2 773.1 L225.6 770.4 L226 768.5 L226.4 767.9 L226.8 768.5 L227.2 770.4 L227.6 773.1 L228 776.3 L228.4 779.5 L228.8 782.3 L229.2 784.7 L229.6 786.4 L230 787.6 L230.4 788.4 L230.8 788.8 L231.2 789.1" fill="#e0474c" fill-opacity="0.16" stroke="#e0474c" stroke-width="0.75"/>
<path d="M223.5 789.3 L224 789.2 L224.4 789.1 L224.9 788.8 L225.4 788.5 L225.9 788 L226.4 787.3 L226.9 786.6 L227.3 785.9 L227.8 785.4 L228.3 785.2 L228.8 785.4 L229.3 785.9 L229.8 786.6 L230.3 787.3 L230.7 788 L231.2 788.5 L231.7 788.8 L232.2 789.1 L232.7 789.2 L233.2 789.3" fill="none" stroke="#3b6fd4" stroke-width="0.6"/>
<path d="M225.4 789.2 L225.8 789 L226.2 788.7 L226.6 788.3 L227 787.6 L227.4 786.5 L227.8 785.1 L228.2 783.4 L228.6 781.5 L229 779.6 L229.4 777.9 L229.8 776.8 L230.2 776.4 L230.6 776.8 L231 777.9 L231.4 779.6 L231.9 781.5 L232.3 783.4 L232.7 785.1 L233.1 786.5 L233.5 787.6 L233.9 788.3 L234.3 788.7 L234.7 789 L235.1 789.2" fill="#222222" fill-opacity="0.16" stroke="#222222" stroke-width="0.75"/>
<path d="M227.3 789.2 L227.8 789.2 L228.3 789 L228.8 788.7 L229.3 788.2 L229.7 787.5 L230.2 786.6 L230.7 785.7 L231.2 784.7 L231.7 784.1 L232.2 783.8 L232.6 784.1 L233.1 784.7 L233.6 785.7 L234.1 786.6 L234.6 787.5 L235.1 788.2 L235.5 788.7 L236 789 L236.5 789.2 L237 789.2" fill="none" stroke="#3cb93c" stroke-width="0.6"/>
<path d="M229.2 789.1 L229.6 788.9 L230 788.6 L230.4 788.1 L230.9 787.2 L231.3 786 L231.7 784.3 L232.1 782.2 L232.5 779.9 L232.9 777.6 L233.3 775.6 L233.7 774.3 L234.1 773.8 L234.5 774.3 L234.9 775.6 L235.3 777.6 L235.7 779.9 L236.1 782.2 L236.5 784.3 L236.9 786 L237.3 787.2 L237.7 788.1 L238.1 788.6 L238.5 788.9 L238.9 789.1" fill="#3cb93c" fill-opacity="0.16" stroke="#3cb93c" stroke-width="0.75"/>
<path d="M233.1 789.1 L233.5 788.9 L233.9 788.6 L234.3 788 L234.7 787 L235.1 785.7 L235.5 783.8 L235.9 781.6 L236.3 779.1 L236.7 776.6 L237.1 774.4 L237.5 773 L237.9 772.4 L238.3 773 L238.7 774.4 L239.1 776.6 L239.5 779.1 L239.9 781.6 L240.3 783.8 L240.7 785.7 L241.2 787 L241.6 788 L242 788.6 L242.4 788.9 L242.8 789.1" fill="#e0474c" fill-opacity="0.16" stroke="#e0474c" stroke-width="0.75"/>
<path d="M235 789.2 L235.5 789.2 L236 789 L236.5 788.7 L236.9 788.3 L237.4 787.6 L237.9 786.8 L238.4 785.8 L238.9 784.9 L239.4 784.3 L239.8 784.1 L240.3 784.3 L240.8 784.9 L241.3 785.8 L241.8 786.8 L242.3 787.6 L242.7 788.3 L243.2 788.7 L243.7 789 L244.2 789.2 L244.7 789.2" fill="none" stroke="#222222" stroke-width="0.6"/>
<path d="M236.9 789.2 L237.3 789 L237.7 788.7 L238.1 788.3 L238.5 787.6 L238.9 786.6 L239.3 785.2 L239.7 783.6 L240.2 781.7 L240.6 779.8 L241 778.2 L241.4 777.1 L241.8 776.7 L242.2 777.1 L242.6 778.2 L243 779.8 L243.4 781.7 L243.8 783.6 L244.2 785.2 L244.6 786.6 L245 787.6 L245.4 788.3 L245.8 788.7 L246.2 789 L246.6 789.2" fill="#e0474c" fill-opacity="0.16" stroke="#e0474c" stroke-width="0.75"/>
<path d="M238.8 789.3 L239.3 789.2 L239.8 789.1 L240.3 788.9 L240.8 788.6 L241.3 788.1 L241.8 787.5 L242.2 786.8 L242.7 786.2 L243.2 785.8 L243.7 785.6 L244.2 785.8 L244.7 786.2 L245.1 786.8 L245.6 787.5 L246.1 788.1 L246.6 788.6 L247.1 788.9 L247.6 789.1 L248 789.2 L248.5 789.3" fill="none" stroke="#3cb93c" stroke-width="0.6"/>
<path d="M240.8 789.1 L241.2 788.9 L241.6 788.4 L242 787.7 L242.4 786.6 L242.8 785.1 L243.2 782.9 L243.6 780.3 L244 777.4 L244.4 774.5 L244.8 772 L245.2 770.3 L245.6 769.7 L246 770.3 L246.4 772 L246.8 774.5 L247.2 777.4 L247.6 780.3 L248 782.9 L248.4 785.1 L248.8 786.6 L249.2 787.7 L249.6 788.4 L250 788.9 L250.5 789.1" fill="#e0474c" fill-opacity="0.16" stroke="#e0474c" stroke-width="0.75"/>
<path d="M244.6 789.2 L245 789 L245.4 788.8 L245.8 788.3 L246.2 787.6 L246.6 786.6 L247 785.3 L247.4 783.7 L247.8 781.8 L248.2 780 L248.6 778.4 L249 777.4 L249.5 777 L249.9 777.4 L250.3 778.4 L250.7 780 L251.1 781.8 L251.5 783.7 L251.9 785.3 L252.3 786.6 L252.7 787.6 L253.1 788.3 L253.5 788.8 L253.9 789 L254.3 789.2" fill="#3cb93c" fill-opacity="0.16" stroke="#3cb93c" stroke-width="0.75"/>
<path d="M246.5 789.2 L247 789.2 L247.5 789 L248 788.7 L248.5 788.2 L249 787.5 L249.4 786.6 L249.9 785.6 L250.4 784.6 L250.9 784 L251.4 783.7 L251.9 784 L252.3 784.6 L252.8 785.6 L253.3 786.6 L253.8 787.5 L254.3 788.2 L254.8 788.7 L255.2 789 L255.7 789.2 L256.2 789.2" fill="none" stroke="#3b6fd4" stroke-width="0.6"/>
<path d="M248.5 789.1 L248.9 788.8 L249.3 788.3 L249.7 787.6 L250.1 786.3 L250.5 784.6 L250.9 782.2 L251.3 779.3 L251.7 776.1 L252.1 772.8 L252.5 770 L252.9 768.1 L253.3 767.5 L253.7 768.1 L254.1 770 L254.5 772.8 L254.9 776.1 L255.3 779.3 L255.7 782.2 L256.1 784.6 L256.5 786.3 L256.9 787.6 L257.3 788.3 L257.7 788.8 L258.1 789.1" fill="#3b6fd4" fill-opacity="0.16" stroke="#3b6fd4" stroke-width="0.75"/>
<path d="M252.3 789.1 L252.7 788.9 L253.1 788.6 L253.5 787.9 L253.9 787 L254.3 785.6 L254.7 783.8 L255.1 781.5 L255.5 778.9 L255.9 776.4 L256.3 774.2 L256.7 772.8 L257.1 772.2 L257.5 772.8 L257.9 774.2 L258.3 776.4 L258.8 778.9 L259.2 781.5 L259.6 783.8 L260 785.6 L260.4 787 L260.8 787.9 L261.2 788.6 L261.6 788.9 L262 789.1" fill="#e0474c" fill-opacity="0.16" stroke="#e0474c" stroke-width="0.75"/>
<path d="M254.2 789.3 L254.7 789.2 L255.2 789.2 L255.7 789.1 L256.2 788.9 L256.6 788.6 L257.1 788.3 L257.6 787.9 L258.1 787.6 L258.6 787.4 L259.1 787.3 L259.5 787.4 L260 787.6 L260.5 787.9 L261 788.3 L261.5 788.6 L262 788.9 L262.4 789.1 L262.9 789.2 L263.4 789.2 L263.9 789.3" fill="none" stroke="#e0474c" stroke-width="0.6"/>
<path d="M256.1 789.2 L256.5 789.1 L256.9 788.9 L257.3 788.5 L257.8 788 L258.2 787.2 L258.6 786.2 L259 785 L259.4 783.5 L259.8 782.1 L260.2 780.9 L260.6 780.1 L261 779.8 L261.4 780.1 L261.8 780.9 L262.2 782.1 L262.6 783.5 L263 785 L263.4 786.2 L263.8 787.2 L264.2 788 L264.6 788.5 L265 788.9 L265.4 789.1 L265.8 789.2" fill="#e0474c" fill-opacity="0.16" stroke="#e0474c" stroke-width="0.75"/>
<path d="M258.1 789.3 L258.5 789.2 L259 789.2 L259.5 789.1 L260 788.9 L260.5 788.6 L261 788.2 L261.4 787.9 L261.9 787.5 L262.4 787.2 L262.9 787.1 L263.4 787.2 L263.9 787.5 L264.4 787.9 L264.8 788.2 L265.3 788.6 L265.8 788.9 L266.3 789.1 L266.8 789.2 L267.3 789.2 L267.7 789.3" fill="none" stroke="#e0474c" stroke-width="0.6"/>
<line x1="80.8" y1="789.9" x2="263.9" y2="789.9" stroke="#b07070" stroke-width="0.9" />
<text x="178.4" y="732.3" font-size="7.2" text-anchor="middle" font-weight="bold" fill="#111" stroke="#111" stroke-width="0.1" >Back-splice site</text>
<line x1="177.9" y1="733.9" x2="177.9" y2="740.8" stroke="#b41c28" stroke-width="1.6" />
<text x="283.4" y="596.8" font-size="16.3" text-anchor="start" font-weight="bold" fill="#111" stroke="#111" stroke-width="0.1" >H</text>
<defs><filter id="bl1" x="-30%" y="-200%" width="160%" height="500%"><feGaussianBlur stdDeviation="0.7"/></filter><filter id="bl2" x="-30%" y="-200%" width="160%" height="500%"><feGaussianBlur stdDeviation="1.4"/></filter><filter id="bl3" x="-30%" y="-200%" width="160%" height="500%"><feGaussianBlur stdDeviation="0.9"/></filter></defs>
<text x="316.6" y="631.3" font-size="7.3" text-anchor="middle" font-weight="bold" fill="#111" stroke="#111" stroke-width="0.1" >Marker</text>
<text x="351.2" y="621" font-size="6.5" text-anchor="middle" font-weight="bold" fill="#111" stroke="#111" stroke-width="0.1" >RNase R—</text>
<text x="392.6" y="621" font-size="6.5" text-anchor="middle" font-weight="bold" fill="#111" stroke="#111" stroke-width="0.1" >RNase R+</text>
<text x="433" y="621" font-size="6.5" text-anchor="middle" font-weight="bold" fill="#111" stroke="#111" stroke-width="0.1" >gDNA</text>
<line x1="332.7" y1="623" x2="369.6" y2="623" stroke="#555" stroke-width="0.8" />
<line x1="374.3" y1="623" x2="411" y2="623" stroke="#555" stroke-width="0.8" />
<line x1="414.5" y1="623" x2="451.4" y2="623" stroke="#555" stroke-width="0.8" />
<g fill="#4a7fd2" stroke="#1c2f72" stroke-width="0.9" stroke-linejoin="round"><path d="M340.9 624.2L332.3 629L340.9 633.8Z"/><path d="M341.8 624.2L350.4 629L341.8 633.8Z"/></g>
<g fill="#4a7fd2" stroke="#1c2f72" stroke-width="0.9" stroke-linejoin="round"><path d="M382.4 624.2L373.8 629L382.4 633.8Z"/><path d="M383.3 624.2L391.9 629L383.3 633.8Z"/></g>
<g fill="#4a7fd2" stroke="#1c2f72" stroke-width="0.9" stroke-linejoin="round"><path d="M423.1 624.2L414.5 629L423.1 633.8Z"/><path d="M424 624.2L432.6 629L424 633.8Z"/></g>
<g fill="#4a7fd2" stroke="#1c2f72" stroke-width="0.9" stroke-linejoin="round"><path d="M354.2 624.2L362.4 629L354.2 633.8Z"/><path d="M370.6 624.2L362.4 629L370.6 633.8Z"/></g>
<g fill="#4a7fd2" stroke="#1c2f72" stroke-width="0.9" stroke-linejoin="round"><path d="M394.6 624.2L402.8 629L394.6 633.8Z"/><path d="M411 624.2L402.8 629L411 633.8Z"/></g>
<g fill="#4a7fd2" stroke="#1c2f72" stroke-width="0.9" stroke-linejoin="round"><path d="M435 624.2L443.2 629L435 633.8Z"/><path d="M451.4 624.2L443.2 629L451.4 633.8Z"/></g>
<rect x="311.4" y="635.5" width="140.1" height="34" fill="#0b0b0b" stroke="none" stroke-width="1" />
<rect x="311.4" y="676.8" width="140.1" height="35.9" fill="#0b0b0b" stroke="none" stroke-width="1" />
<rect x="315.8" y="639" width="14.5" height="1.3" rx="1" fill="#fff" fill-opacity="0.3" filter="url(#bl1)"/>
<rect x="315.8" y="648.1" width="14.5" height="1.3" rx="1" fill="#fff" fill-opacity="0.25" filter="url(#bl1)"/>
<rect x="315.8" y="663.6" width="14.5" height="1.3" rx="1" fill="#fff" fill-opacity="0.25" filter="url(#bl1)"/>
<rect x="335.1" y="656.5" width="15" height="2" rx="1" fill="#fff" fill-opacity="0.8" filter="url(#bl1)"/>
<rect x="354.6" y="651" width="15.5" height="2.8" rx="1" fill="#fff" fill-opacity="1.0" filter="url(#bl3)"/>
<rect x="374.9" y="656.5" width="14.5" height="2" rx="1" fill="#fff" fill-opacity="0.75" filter="url(#bl1)"/>
<rect x="432.1" y="653.7" width="15.5" height="2.8" rx="1" fill="#fff" fill-opacity="1.0" filter="url(#bl3)"/>
<rect x="416" y="644.5" width="12" height="3" rx="1" fill="#fff" fill-opacity="0.07" filter="url(#bl2)"/>
<rect x="315.8" y="679.3" width="14.5" height="2.8" rx="1" fill="#fff" fill-opacity="0.7" filter="url(#bl3)"/>
<rect x="315.8" y="699.8" width="14.5" height="3" rx="1" fill="#fff" fill-opacity="0.7" filter="url(#bl3)"/>
<rect x="334" y="699.8" width="16" height="4" rx="1" fill="#fff" fill-opacity="0.5" filter="url(#bl2)"/>
<rect x="353.6" y="692" width="16" height="5.2" rx="1" fill="#fff" fill-opacity="1.0" filter="url(#bl3)"/>
<rect x="373.7" y="699" width="15" height="4.5" rx="1" fill="#fff" fill-opacity="0.5" filter="url(#bl2)"/>
<rect x="374.2" y="687" width="14" height="8" rx="1" fill="#fff" fill-opacity="0.08" filter="url(#bl2)"/>
<rect x="429.4" y="692.7" width="16" height="5.2" rx="1" fill="#fff" fill-opacity="1.0" filter="url(#bl3)"/>
<text x="309.8" y="642.4" font-size="7" text-anchor="end" font-weight="bold" fill="#111" stroke="#111" stroke-width="0.1" >300bp</text>
<text x="309.8" y="651.4" font-size="7" text-anchor="end" font-weight="bold" fill="#111" stroke="#111" stroke-width="0.1" >200bp</text>
<text x="309.8" y="666.5" font-size="7" text-anchor="end" font-weight="bold" fill="#111" stroke="#111" stroke-width="0.1" >100bp</text>
<text x="309.8" y="682.6" font-size="7" text-anchor="end" font-weight="bold" fill="#111" stroke="#111" stroke-width="0.1" >200bp</text>
<text x="309.8" y="703.8" font-size="7" text-anchor="end" font-weight="bold" fill="#111" stroke="#111" stroke-width="0.1" >100bp</text>
<text x="453" y="652.6" font-size="7.6" text-anchor="start" font-weight="bold" fill="#111" stroke="#111" stroke-width="0.1" >Human</text>
<text x="453" y="704" font-size="7.6" text-anchor="start" font-weight="bold" fill="#111" stroke="#111" stroke-width="0.1" >Mouse</text>
<g fill="#4a7fd2" stroke="#1c2f72" stroke-width="0.9" stroke-linejoin="round"><path d="M313.1 728.8L304.5 733.6L313.1 738.4Z"/><path d="M314 728.8L322.6 733.6L314 738.4Z"/></g>
<text x="322.9" y="736.1" font-size="6.85" text-anchor="start" font-weight="bold" fill="#111" stroke="#111" stroke-width="0.1" >Convergent primer</text>
<g fill="#4a7fd2" stroke="#1c2f72" stroke-width="0.9" stroke-linejoin="round"><path d="M389.2 728.8L397.4 733.6L389.2 738.4Z"/><path d="M405.6 728.8L397.4 733.6L405.6 738.4Z"/></g>
<text x="409.3" y="736.1" font-size="6.85" text-anchor="start" font-weight="bold" fill="#111" stroke="#111" stroke-width="0.1" >Divergent primer</text>
<text x="481" y="596.8" font-size="16.3" text-anchor="start" font-weight="bold" fill="#111" stroke="#111" stroke-width="0.1" >I</text>
<rect x="547.3" y="609" width="11.1" height="6.3" fill="#c0c0c0" stroke="#222" stroke-width="0.7" />
<text x="564.2" y="615" font-size="7.4" text-anchor="start" font-weight="bold" fill="#111" stroke="#111" stroke-width="0.1" >Mock</text>
<rect x="603.3" y="609" width="11.4" height="6.3" fill="#92bccf" stroke="#222" stroke-width="0.7" />
<text x="618.6" y="615" font-size="7.5" text-anchor="start" font-weight="bold" fill="#111" stroke="#111" stroke-width="0.1" >RNase R</text>
<rect x="520.4" y="654.3" width="10.5" height="49.9" fill="#c0c0c0" stroke="#222" stroke-width="0.8" />
<line x1="525.6" y1="646.8" x2="525.6" y2="661.3" stroke="#111" stroke-width="0.8" />
<line x1="522.1" y1="646.8" x2="529.1" y2="646.8" stroke="#111" stroke-width="0.8" />
<line x1="522.1" y1="661.3" x2="529.1" y2="661.3" stroke="#111" stroke-width="0.8" />
<circle cx="525.6" cy="646.8" r="0.9" fill="#111"/>
<circle cx="524.6" cy="656.8" r="0.9" fill="#111"/>
<circle cx="526.6" cy="659.3" r="0.9" fill="#111"/>
<rect x="530.9" y="654.3" width="11.1" height="49.9" fill="#92bccf" stroke="#222" stroke-width="0.8" />
<line x1="536.5" y1="641.4" x2="536.5" y2="667.8" stroke="#111" stroke-width="0.8" />
<line x1="533" y1="641.4" x2="540" y2="641.4" stroke="#111" stroke-width="0.8" />
<line x1="533" y1="667.8" x2="540" y2="667.8" stroke="#111" stroke-width="0.8" />
<circle cx="536.5" cy="651.8" r="0.9" fill="#111"/>
<circle cx="535.5" cy="668.3" r="0.9" fill="#111"/>
<circle cx="537.5" cy="667.3" r="0.9" fill="#111"/>
<rect x="553.9" y="652.3" width="11.4" height="51.9" fill="#c0c0c0" stroke="#222" stroke-width="0.8" />
<line x1="559.6" y1="633.9" x2="559.6" y2="670.3" stroke="#111" stroke-width="0.8" />
<line x1="556.1" y1="633.9" x2="563.1" y2="633.9" stroke="#111" stroke-width="0.8" />
<line x1="556.1" y1="670.3" x2="563.1" y2="670.3" stroke="#111" stroke-width="0.8" />
<circle cx="559.6" cy="634.4" r="0.9" fill="#111"/>
<circle cx="559.6" cy="651.8" r="0.9" fill="#111"/>
<circle cx="559.6" cy="669.3" r="0.9" fill="#111"/>
<rect x="565.3" y="701" width="11.1" height="3.2" fill="#92bccf" stroke="#222" stroke-width="0.8" />
<line x1="570.8" y1="700" x2="570.8" y2="702" stroke="#111" stroke-width="0.8" />
<line x1="567.3" y1="700" x2="574.3" y2="700" stroke="#111" stroke-width="0.8" />
<line x1="567.3" y1="702" x2="574.3" y2="702" stroke="#111" stroke-width="0.8" />
<circle cx="570.8" cy="700.7" r="0.9" fill="#111"/>
<line x1="514.6" y1="628.8" x2="514.6" y2="704.7" stroke="#222" stroke-width="1.0" />
<line x1="514.1" y1="704.2" x2="578.8" y2="704.2" stroke="#222" stroke-width="1.0" />
<line x1="511.6" y1="704.2" x2="514.6" y2="704.2" stroke="#222" stroke-width="0.9" />
<text x="510.4" y="706.8" font-size="7.0" text-anchor="end" font-weight="bold" fill="#111" stroke="#111" stroke-width="0.1" >0</text>
<line x1="511.6" y1="679.3" x2="514.6" y2="679.3" stroke="#222" stroke-width="0.9" />
<text x="510.4" y="681.9" font-size="7.0" text-anchor="end" font-weight="bold" fill="#111" stroke="#111" stroke-width="0.1" >50</text>
<line x1="511.6" y1="654.3" x2="514.6" y2="654.3" stroke="#222" stroke-width="0.9" />
<text x="510.4" y="656.9" font-size="7.0" text-anchor="end" font-weight="bold" fill="#111" stroke="#111" stroke-width="0.1" >100</text>
<line x1="511.6" y1="629.4" x2="514.6" y2="629.4" stroke="#222" stroke-width="0.9" />
<text x="510.4" y="632" font-size="7.0" text-anchor="end" font-weight="bold" fill="#111" stroke="#111" stroke-width="0.1" >150</text>
<text x="532.4" y="632.8" font-size="5.9" text-anchor="middle" font-weight="bold" fill="#333" stroke="#333" stroke-width="0.1" >p=0.9714</text>
<line x1="524.9" y1="636.5" x2="539.9" y2="636.5" stroke="#222" stroke-width="0.8" />
<text x="565.3" y="626.3" font-size="5.9" text-anchor="middle" font-weight="bold" fill="#333" stroke="#333" stroke-width="0.1" >p=0.0099</text>
<line x1="559.3" y1="628.2" x2="571" y2="628.2" stroke="#222" stroke-width="0.8" />
<text transform="translate(496.2 667) rotate(-90)" font-size="9.3" text-anchor="middle" font-weight="bold" fill="#111" stroke="#111" stroke-width="0.1">Relative RNA levels</text>
<text transform="translate(536.5 712.1) rotate(-44)" font-size="8.1" text-anchor="end" font-weight="bold" fill="#111" stroke="#111" stroke-width="0.1">mus-circFCHO2</text>
<text transform="translate(570.8 712.1) rotate(-44)" font-size="8.1" text-anchor="end" font-weight="bold" fill="#111" stroke="#111" stroke-width="0.1">mus-FCHO2 mRNA</text>
<line x1="530.9" y1="704.2" x2="530.9" y2="707.4" stroke="#222" stroke-width="0.9" />
<line x1="565.3" y1="704.2" x2="565.3" y2="707.4" stroke="#222" stroke-width="0.9" />
<rect x="620.7" y="654.3" width="11.3" height="49.9" fill="#c0c0c0" stroke="#222" stroke-width="0.8" />
<line x1="626.4" y1="651.8" x2="626.4" y2="656.8" stroke="#111" stroke-width="0.8" />
<line x1="622.9" y1="651.8" x2="629.9" y2="651.8" stroke="#111" stroke-width="0.8" />
<line x1="622.9" y1="656.8" x2="629.9" y2="656.8" stroke="#111" stroke-width="0.8" />
<circle cx="626.4" cy="652.3" r="0.9" fill="#111"/>
<circle cx="626.4" cy="655.8" r="0.9" fill="#111"/>
<rect x="632" y="654.3" width="11.1" height="49.9" fill="#92bccf" stroke="#222" stroke-width="0.8" />
<line x1="637.5" y1="641.4" x2="637.5" y2="667.8" stroke="#111" stroke-width="0.8" />
<line x1="634" y1="641.4" x2="641" y2="641.4" stroke="#111" stroke-width="0.8" />
<line x1="634" y1="667.8" x2="641" y2="667.8" stroke="#111" stroke-width="0.8" />
<circle cx="637.5" cy="651.8" r="0.9" fill="#111"/>
<circle cx="637.5" cy="667.8" r="0.9" fill="#111"/>
<rect x="655.1" y="653.3" width="11.4" height="50.9" fill="#c0c0c0" stroke="#222" stroke-width="0.8" />
<line x1="660.8" y1="640.4" x2="660.8" y2="666.8" stroke="#111" stroke-width="0.8" />
<line x1="657.3" y1="640.4" x2="664.3" y2="640.4" stroke="#111" stroke-width="0.8" />
<line x1="657.3" y1="666.8" x2="664.3" y2="666.8" stroke="#111" stroke-width="0.8" />
<circle cx="660.8" cy="643.4" r="0.9" fill="#111"/>
<circle cx="660.8" cy="650.3" r="0.9" fill="#111"/>
<circle cx="660.8" cy="664.3" r="0.9" fill="#111"/>
<rect x="666.5" y="701.2" width="11" height="3" fill="#92bccf" stroke="#222" stroke-width="0.8" />
<line x1="672" y1="700.2" x2="672" y2="702.2" stroke="#111" stroke-width="0.8" />
<line x1="668.5" y1="700.2" x2="675.5" y2="700.2" stroke="#111" stroke-width="0.8" />
<line x1="668.5" y1="702.2" x2="675.5" y2="702.2" stroke="#111" stroke-width="0.8" />
<circle cx="672" cy="701.2" r="0.9" fill="#111"/>
<line x1="615.2" y1="628.8" x2="615.2" y2="704.7" stroke="#222" stroke-width="1.0" />
<line x1="614.7" y1="704.2" x2="683.5" y2="704.2" stroke="#222" stroke-width="1.0" />
<line x1="612.2" y1="704.2" x2="615.2" y2="704.2" stroke="#222" stroke-width="0.9" />
<text x="611" y="706.8" font-size="7.0" text-anchor="end" font-weight="bold" fill="#111" stroke="#111" stroke-width="0.1" >0</text>
<line x1="612.2" y1="679.3" x2="615.2" y2="679.3" stroke="#222" stroke-width="0.9" />
<text x="611" y="681.9" font-size="7.0" text-anchor="end" font-weight="bold" fill="#111" stroke="#111" stroke-width="0.1" >50</text>
<line x1="612.2" y1="654.3" x2="615.2" y2="654.3" stroke="#222" stroke-width="0.9" />
<text x="611" y="656.9" font-size="7.0" text-anchor="end" font-weight="bold" fill="#111" stroke="#111" stroke-width="0.1" >100</text>
<line x1="612.2" y1="629.4" x2="615.2" y2="629.4" stroke="#222" stroke-width="0.9" />
<text x="611" y="632" font-size="7.0" text-anchor="end" font-weight="bold" fill="#111" stroke="#111" stroke-width="0.1" >150</text>
<text x="632.6" y="631.3" font-size="5.9" text-anchor="middle" font-weight="bold" fill="#333" stroke="#333" stroke-width="0.1" >p=0.9960</text>
<line x1="626.7" y1="634.2" x2="640.1" y2="634.2" stroke="#222" stroke-width="0.8" />
<text x="665.6" y="631.3" font-size="5.9" text-anchor="middle" font-weight="bold" fill="#333" stroke="#333" stroke-width="0.1" >p=0.0029</text>
<line x1="659.6" y1="634.2" x2="673" y2="634.2" stroke="#222" stroke-width="0.8" />
<text transform="translate(596.8 667) rotate(-90)" font-size="9.3" text-anchor="middle" font-weight="bold" fill="#111" stroke="#111" stroke-width="0.1">Relative RNA levels</text>
<text transform="translate(635 712.1) rotate(-44)" font-size="8.1" text-anchor="end" font-weight="bold" fill="#111" stroke="#111" stroke-width="0.1">hsa-circFCHO2</text>
<text transform="translate(669.5 712.1) rotate(-44)" font-size="8.1" text-anchor="end" font-weight="bold" fill="#111" stroke="#111" stroke-width="0.1">hsa-FCHO2 mRNA</text>
<line x1="632" y1="704.2" x2="632" y2="707.4" stroke="#222" stroke-width="0.9" />
<line x1="666.5" y1="704.2" x2="666.5" y2="707.4" stroke="#222" stroke-width="0.9" />
<text x="1.4" y="805.6" font-size="16.3" text-anchor="start" font-weight="bold" fill="#111" stroke="#111" stroke-width="0.1" >J</text>
<text x="55.2" y="822.8" font-size="10.7" text-anchor="middle" font-weight="bold" fill="#3d62dc" stroke="#3d62dc" stroke-width="0.1" >DAPI</text>
<text x="149" y="822.8" font-size="10.7" text-anchor="middle" font-weight="bold" fill="#5ee03a" stroke="#5ee03a" stroke-width="0.1" >circFCHO2</text>
<text x="240.5" y="822.8" font-size="10.7" font-weight="bold" text-anchor="middle"><tspan fill="#3d5ee0">Mer</tspan><tspan fill="#5ee03a">ge</tspan></text>
<defs><filter id="nucF" x="0" y="0" width="100%" height="100%" color-interpolation-filters="sRGB"><feTurbulence type="fractalNoise" baseFrequency="0.6" numOctaves="2" seed="11" result="n"/><feColorMatrix in="n" type="matrix" values="0.3 0 0 0 -0.12  0.2 0 0 0 -0.08  2.4 0 0 0 -0.78  0 0 0 0 1"/></filter></defs>
<rect x="14.2" y="826.2" width="84.8" height="79.6" fill="#000" stroke="none" stroke-width="1" />
<defs><clipPath id="nc0"><ellipse cx="55.7" cy="867.9" rx="9.6" ry="15.4" transform="rotate(-17 55.7 867.9)"/></clipPath></defs>
<g clip-path="url(#nc0)"><rect x="41.7" y="849.9" width="28" height="36" filter="url(#nucF)"/></g>
<ellipse cx="55.7" cy="867.9" rx="9.1" ry="14.9" transform="rotate(-17 55.7 867.9)" fill="none" stroke="#2626d8" stroke-width="1.0" stroke-opacity="0.75" stroke-dasharray="2 0.8 1 0.6"/>
<rect x="88.5" y="901.2" width="7.2" height="1.3" fill="#ddd" stroke="none" stroke-width="1" />
<rect x="105.1" y="826.2" width="86.1" height="79.6" fill="#000" stroke="none" stroke-width="1" />
<g fill="#1b5e0c"><circle cx="159.8" cy="880.3" r="0.3"/><circle cx="166.4" cy="893.4" r="0.5"/><circle cx="141.4" cy="868.6" r="0.4"/><circle cx="152.8" cy="888.2" r="0.5"/><circle cx="143.8" cy="850.3" r="0.4"/><circle cx="162.1" cy="892.8" r="0.4"/><circle cx="132.7" cy="846.2" r="0.4"/><circle cx="133.8" cy="835.8" r="0.4"/><circle cx="159.1" cy="888.3" r="0.4"/><circle cx="147.8" cy="885.6" r="0.5"/><circle cx="142.6" cy="858.5" r="0.3"/><circle cx="167.2" cy="891.8" r="0.4"/><circle cx="150.4" cy="867.2" r="0.3"/><circle cx="145.9" cy="853.8" r="0.4"/><circle cx="136.2" cy="858.8" r="0.3"/><circle cx="158.4" cy="876" r="0.3"/><circle cx="168" cy="895.6" r="0.4"/><circle cx="153.2" cy="871.4" r="0.4"/><circle cx="135.1" cy="838.2" r="0.3"/><circle cx="153.7" cy="874.1" r="0.3"/><circle cx="137.1" cy="843.1" r="0.4"/><circle cx="169.3" cy="895.7" r="0.5"/><circle cx="148.6" cy="865" r="0.4"/><circle cx="167.1" cy="894.2" r="0.4"/><circle cx="145" cy="856.3" r="0.5"/><circle cx="154.3" cy="876.5" r="0.4"/><circle cx="138.3" cy="853.5" r="0.5"/><circle cx="143.8" cy="850.7" r="0.5"/><circle cx="133.8" cy="836.3" r="0.4"/><circle cx="145.3" cy="855.1" r="0.5"/><circle cx="168.7" cy="894.2" r="0.4"/><circle cx="137.5" cy="844.1" r="0.5"/><circle cx="155.1" cy="878.7" r="0.5"/><circle cx="158.1" cy="885.7" r="0.5"/><circle cx="153.3" cy="873.8" r="0.5"/><circle cx="133.3" cy="837.8" r="0.4"/><circle cx="137.7" cy="847.8" r="0.5"/><circle cx="141.2" cy="868.9" r="0.3"/><circle cx="136.3" cy="858.8" r="0.3"/><circle cx="143.1" cy="866.9" r="0.5"/><circle cx="140.5" cy="847.5" r="0.3"/><circle cx="136" cy="864.1" r="0.5"/><circle cx="158.6" cy="888.8" r="0.5"/><circle cx="137.3" cy="862.8" r="0.4"/><circle cx="168.2" cy="893.2" r="0.5"/><circle cx="160.2" cy="894.2" r="0.3"/><circle cx="141.1" cy="860.5" r="0.4"/><circle cx="145.7" cy="877.1" r="0.5"/><circle cx="140.8" cy="864.2" r="0.5"/><circle cx="138.5" cy="854" r="0.3"/><circle cx="154.7" cy="888.4" r="0.4"/><circle cx="167.6" cy="896.1" r="0.5"/><circle cx="151.8" cy="876.8" r="0.5"/><circle cx="154" cy="886.7" r="0.4"/><circle cx="139.4" cy="854.3" r="0.4"/><circle cx="156.3" cy="883.4" r="0.3"/><circle cx="150.1" cy="860.8" r="0.5"/><circle cx="134.1" cy="836.3" r="0.4"/><circle cx="140.9" cy="861.5" r="0.5"/><circle cx="162.2" cy="894.1" r="0.4"/><circle cx="143.5" cy="869.8" r="0.3"/><circle cx="159.5" cy="885.7" r="0.3"/><circle cx="168.9" cy="894.3" r="0.5"/><circle cx="135.7" cy="844.2" r="0.4"/><circle cx="143.7" cy="880.9" r="0.3"/><circle cx="133" cy="840.9" r="0.4"/><circle cx="160.1" cy="893" r="0.4"/><circle cx="148.9" cy="875.1" r="0.5"/><circle cx="134.6" cy="838.6" r="0.3"/><circle cx="151.6" cy="864.4" r="0.4"/><circle cx="141.4" cy="873.2" r="0.4"/><circle cx="151.3" cy="886.3" r="0.5"/><circle cx="134.9" cy="840.3" r="0.3"/><circle cx="145.3" cy="877.2" r="0.5"/><circle cx="143.7" cy="853.9" r="0.3"/><circle cx="133.2" cy="839.5" r="0.5"/><circle cx="132.7" cy="851.8" r="0.5"/><circle cx="156.2" cy="890.7" r="0.5"/><circle cx="135.1" cy="851.3" r="0.5"/><circle cx="137.6" cy="864" r="0.5"/><circle cx="157.9" cy="888" r="0.5"/><circle cx="149.7" cy="873.8" r="0.5"/><circle cx="132.8" cy="842.6" r="0.4"/><circle cx="163" cy="891.8" r="0.5"/><circle cx="150.2" cy="862.1" r="0.5"/><circle cx="139.3" cy="869.8" r="0.3"/><circle cx="140.5" cy="860.9" r="0.5"/><circle cx="135.2" cy="853.1" r="0.3"/><circle cx="147.2" cy="855.3" r="0.5"/><circle cx="151" cy="861.6" r="0.3"/><circle cx="140.8" cy="852.7" r="0.5"/><circle cx="132.1" cy="850.7" r="0.4"/><circle cx="148.9" cy="856.9" r="0.4"/><circle cx="141.9" cy="868.1" r="0.5"/><circle cx="149.5" cy="878.6" r="0.5"/><circle cx="134.9" cy="838.7" r="0.4"/><circle cx="154" cy="866.7" r="0.4"/><circle cx="132.9" cy="842.3" r="0.5"/><circle cx="163.4" cy="895.1" r="0.4"/><circle cx="136.9" cy="865.5" r="0.4"/><circle cx="135.6" cy="846.5" r="0.4"/><circle cx="133.8" cy="841.1" r="0.3"/><circle cx="165.2" cy="892.6" r="0.5"/><circle cx="133.8" cy="836.7" r="0.4"/><circle cx="139" cy="855.8" r="0.5"/><circle cx="157.7" cy="889.5" r="0.3"/><circle cx="133.1" cy="853.8" r="0.4"/><circle cx="132.9" cy="854" r="0.5"/><circle cx="134.1" cy="849" r="0.4"/><circle cx="140.9" cy="864.5" r="0.5"/><circle cx="164.4" cy="891.3" r="0.5"/><circle cx="137.4" cy="863.8" r="0.3"/><circle cx="139.5" cy="850.8" r="0.4"/><circle cx="157" cy="884.9" r="0.3"/><circle cx="145.8" cy="878.4" r="0.4"/><circle cx="149.7" cy="886.5" r="0.4"/><circle cx="133.9" cy="843.2" r="0.5"/><circle cx="153.3" cy="865.8" r="0.4"/><circle cx="138.8" cy="863.7" r="0.4"/><circle cx="145.9" cy="874.1" r="0.5"/><circle cx="161.9" cy="889.1" r="0.4"/><circle cx="159.9" cy="888.9" r="0.3"/><circle cx="135.3" cy="840.9" r="0.5"/><circle cx="153.7" cy="873.5" r="0.4"/><circle cx="147.4" cy="868.2" r="0.3"/><circle cx="134.5" cy="860.1" r="0.4"/><circle cx="163" cy="885.2" r="0.5"/><circle cx="151.1" cy="867.8" r="0.4"/><circle cx="152.1" cy="879.8" r="0.4"/><circle cx="151.4" cy="883.9" r="0.5"/><circle cx="148.7" cy="886.1" r="0.5"/><circle cx="156.2" cy="882.8" r="0.4"/><circle cx="161.9" cy="893.2" r="0.5"/><circle cx="136.1" cy="865.8" r="0.4"/><circle cx="155.8" cy="874.5" r="0.5"/><circle cx="137.3" cy="864.3" r="0.5"/><circle cx="152.2" cy="883.4" r="0.5"/><circle cx="136.2" cy="845.1" r="0.5"/><circle cx="153.5" cy="883.8" r="0.4"/><circle cx="162.7" cy="893.2" r="0.4"/><circle cx="165.9" cy="895.6" r="0.3"/><circle cx="149.2" cy="871.6" r="0.3"/><circle cx="150.8" cy="873.2" r="0.5"/><circle cx="138.1" cy="848.4" r="0.5"/><circle cx="133.4" cy="842.5" r="0.3"/><circle cx="158.4" cy="880.9" r="0.5"/><circle cx="133" cy="842.9" r="0.3"/><circle cx="141.4" cy="860.2" r="0.5"/><circle cx="134" cy="840.8" r="0.4"/><circle cx="135.1" cy="842.3" r="0.4"/><circle cx="152" cy="863.2" r="0.5"/><circle cx="158.5" cy="883.3" r="0.4"/><circle cx="139.5" cy="862.3" r="0.4"/><circle cx="158.5" cy="886.2" r="0.4"/><circle cx="161" cy="889.6" r="0.3"/><circle cx="138.3" cy="849.2" r="0.3"/><circle cx="134.4" cy="841.4" r="0.5"/><circle cx="147.8" cy="856.4" r="0.3"/><circle cx="154.3" cy="891.3" r="0.5"/><circle cx="133.4" cy="836.9" r="0.4"/><circle cx="143.7" cy="864.4" r="0.3"/><circle cx="167.1" cy="893.8" r="0.4"/><circle cx="146" cy="858.3" r="0.4"/><circle cx="164.6" cy="891.6" r="0.5"/><circle cx="149.7" cy="858.1" r="0.5"/><circle cx="140.3" cy="865" r="0.4"/><circle cx="146.3" cy="882.8" r="0.3"/><circle cx="163.4" cy="895.2" r="0.3"/><circle cx="135.3" cy="844.7" r="0.5"/><circle cx="133.1" cy="842" r="0.5"/><circle cx="137.5" cy="850.1" r="0.4"/><circle cx="150.4" cy="886.4" r="0.4"/><circle cx="134" cy="835.9" r="0.4"/><circle cx="153.2" cy="872.8" r="0.3"/><circle cx="133.7" cy="838.1" r="0.4"/><circle cx="168" cy="892.7" r="0.4"/><circle cx="163.3" cy="894.9" r="0.4"/><circle cx="145.2" cy="871.4" r="0.5"/><circle cx="152" cy="868.6" r="0.3"/><circle cx="146.6" cy="867.1" r="0.4"/><circle cx="133.1" cy="840" r="0.4"/><circle cx="152.5" cy="885.9" r="0.5"/><circle cx="144" cy="859.4" r="0.4"/><circle cx="162" cy="891.4" r="0.5"/><circle cx="132.7" cy="845.6" r="0.5"/><circle cx="133.1" cy="836.7" r="0.5"/><circle cx="158.9" cy="893.3" r="0.4"/><circle cx="155.3" cy="881.7" r="0.5"/><circle cx="164.5" cy="895.3" r="0.3"/><circle cx="132.9" cy="842.3" r="0.4"/><circle cx="164.6" cy="890.8" r="0.3"/><circle cx="157.6" cy="891.7" r="0.5"/><circle cx="133.7" cy="858.8" r="0.5"/><circle cx="163.5" cy="892.4" r="0.3"/><circle cx="142.2" cy="848.8" r="0.4"/><circle cx="136" cy="862.3" r="0.4"/><circle cx="146.4" cy="881.3" r="0.3"/><circle cx="133.8" cy="845.3" r="0.4"/><circle cx="164" cy="891.9" r="0.5"/><circle cx="160.9" cy="884" r="0.4"/><circle cx="136.2" cy="852.9" r="0.5"/><circle cx="151.8" cy="875.5" r="0.5"/><circle cx="154.9" cy="887" r="0.3"/><circle cx="143.9" cy="859.1" r="0.5"/><circle cx="140.7" cy="863.6" r="0.3"/><circle cx="152.8" cy="883.1" r="0.5"/><circle cx="163.5" cy="892" r="0.3"/><circle cx="132" cy="852.6" r="0.4"/><circle cx="139.4" cy="869.8" r="0.5"/><circle cx="141.4" cy="875.1" r="0.5"/><circle cx="143.8" cy="859" r="0.5"/><circle cx="159.2" cy="887.6" r="0.3"/><circle cx="148.2" cy="873.4" r="0.4"/><circle cx="137.2" cy="851.9" r="0.5"/><circle cx="133.4" cy="844.8" r="0.5"/><circle cx="136.4" cy="840.3" r="0.3"/><circle cx="136.5" cy="844.5" r="0.3"/><circle cx="135.9" cy="852.4" r="0.3"/><circle cx="135.9" cy="842" r="0.4"/><circle cx="136.8" cy="854.8" r="0.5"/><circle cx="142.2" cy="863.5" r="0.5"/><circle cx="154" cy="876" r="0.5"/><circle cx="165" cy="894.5" r="0.5"/><circle cx="147.8" cy="859.4" r="0.5"/><circle cx="154.7" cy="883.3" r="0.5"/><circle cx="154.8" cy="889.6" r="0.4"/><circle cx="160.5" cy="884.8" r="0.5"/><circle cx="146.7" cy="871" r="0.3"/><circle cx="149.1" cy="879.3" r="0.5"/><circle cx="133.1" cy="856.7" r="0.5"/><circle cx="155.3" cy="884" r="0.4"/><circle cx="146.6" cy="862.3" r="0.3"/><circle cx="157.6" cy="891.5" r="0.3"/><circle cx="152.3" cy="888.6" r="0.4"/><circle cx="158.2" cy="887.6" r="0.4"/><circle cx="152.3" cy="873.8" r="0.5"/><circle cx="134.4" cy="836.4" r="0.5"/><circle cx="133.8" cy="839.9" r="0.3"/><circle cx="133.5" cy="841.6" r="0.3"/><circle cx="141.8" cy="852.9" r="0.4"/><circle cx="167.8" cy="893.2" r="0.5"/><circle cx="142.1" cy="862" r="0.4"/><circle cx="157.1" cy="887.6" r="0.5"/><circle cx="164.2" cy="890.3" r="0.4"/><circle cx="135.9" cy="847.1" r="0.5"/><circle cx="134.8" cy="841" r="0.4"/><circle cx="133.5" cy="857.9" r="0.3"/><circle cx="158.7" cy="890.1" r="0.5"/><circle cx="132.3" cy="846.8" r="0.3"/><circle cx="155.7" cy="885.1" r="0.5"/><circle cx="165.1" cy="892.5" r="0.4"/><circle cx="142.7" cy="863.7" r="0.5"/><circle cx="142.5" cy="851.8" r="0.3"/><circle cx="137.5" cy="848" r="0.4"/><circle cx="155.2" cy="887.7" r="0.5"/><circle cx="144.2" cy="881.8" r="0.4"/><circle cx="139.3" cy="867.7" r="0.4"/><circle cx="134.7" cy="839.5" r="0.4"/><circle cx="133.7" cy="841.5" r="0.5"/><circle cx="133.9" cy="841.7" r="0.5"/><circle cx="137.4" cy="860.4" r="0.5"/><circle cx="135.8" cy="840.5" r="0.4"/><circle cx="149.4" cy="861" r="0.3"/><circle cx="136.2" cy="855.6" r="0.5"/><circle cx="141.1" cy="858" r="0.5"/><circle cx="146.5" cy="863.1" r="0.5"/><circle cx="138" cy="856.4" r="0.5"/><circle cx="135.1" cy="846.5" r="0.5"/><circle cx="135.6" cy="841.3" r="0.5"/><circle cx="134.7" cy="840.2" r="0.4"/><circle cx="133.8" cy="837.8" r="0.3"/><circle cx="154.2" cy="872.8" r="0.3"/><circle cx="147" cy="857.4" r="0.5"/><circle cx="158" cy="882.4" r="0.4"/><circle cx="134.8" cy="846.6" r="0.5"/><circle cx="138.6" cy="850.7" r="0.4"/><circle cx="147.6" cy="881.2" r="0.4"/><circle cx="151.4" cy="864.4" r="0.5"/><circle cx="134" cy="838.4" r="0.4"/><circle cx="135.7" cy="849.4" r="0.3"/><circle cx="139.3" cy="844.6" r="0.4"/><circle cx="133.1" cy="840.3" r="0.5"/><circle cx="166.4" cy="891.7" r="0.5"/><circle cx="133.9" cy="847" r="0.3"/><circle cx="153.9" cy="882.6" r="0.3"/><circle cx="163.7" cy="887.7" r="0.5"/><circle cx="164.5" cy="892.4" r="0.4"/><circle cx="133.7" cy="857.2" r="0.4"/><circle cx="132.9" cy="844.2" r="0.4"/><circle cx="166.4" cy="894.5" r="0.5"/><circle cx="146.4" cy="876.3" r="0.4"/><circle cx="154.7" cy="873.7" r="0.5"/><circle cx="132.3" cy="846.7" r="0.4"/><circle cx="133.4" cy="836.2" r="0.4"/><circle cx="152.1" cy="878.2" r="0.4"/><circle cx="139.3" cy="845.6" r="0.3"/><circle cx="152.4" cy="875" r="0.3"/><circle cx="145.4" cy="865.3" r="0.3"/><circle cx="140" cy="854.5" r="0.5"/><circle cx="137.2" cy="857.6" r="0.4"/><circle cx="145.7" cy="881.4" r="0.4"/><circle cx="132.7" cy="849.7" r="0.5"/><circle cx="143" cy="870.2" r="0.3"/><circle cx="134.7" cy="845.8" r="0.5"/><circle cx="143.6" cy="856.6" r="0.5"/><circle cx="134.4" cy="851.1" r="0.5"/><circle cx="137.3" cy="851.9" r="0.4"/><circle cx="153.9" cy="877.1" r="0.4"/><circle cx="161.5" cy="882.1" r="0.5"/><circle cx="148.2" cy="866.9" r="0.4"/><circle cx="143.1" cy="858.3" r="0.5"/><circle cx="165.9" cy="892.4" r="0.5"/><circle cx="137.5" cy="849" r="0.5"/><circle cx="152.9" cy="887" r="0.4"/><circle cx="145" cy="863.4" r="0.5"/><circle cx="135" cy="844.5" r="0.5"/><circle cx="167.6" cy="893.7" r="0.5"/><circle cx="143.8" cy="854.8" r="0.4"/><circle cx="145.6" cy="867.8" r="0.5"/><circle cx="135.1" cy="837.8" r="0.4"/><circle cx="133.3" cy="838.7" r="0.5"/><circle cx="142.6" cy="852.1" r="0.4"/><circle cx="153.4" cy="869" r="0.4"/><circle cx="136.2" cy="852.9" r="0.3"/></g><g fill="#2f8e18"><circle cx="152.9" cy="874.1" r="0.5"/><circle cx="133.3" cy="836.7" r="0.4"/><circle cx="144.6" cy="879.8" r="0.3"/><circle cx="133.6" cy="850.2" r="0.5"/><circle cx="139.4" cy="845.4" r="0.5"/><circle cx="159.4" cy="881.6" r="0.3"/><circle cx="138.7" cy="844.2" r="0.3"/><circle cx="161.6" cy="884.5" r="0.3"/><circle cx="133.9" cy="841.4" r="0.5"/><circle cx="157.3" cy="891.5" r="0.5"/><circle cx="138.2" cy="865.1" r="0.4"/><circle cx="133.6" cy="841.5" r="0.5"/><circle cx="149" cy="862.3" r="0.5"/><circle cx="142.8" cy="856.8" r="0.5"/><circle cx="137.4" cy="854" r="0.3"/><circle cx="145.1" cy="873.1" r="0.4"/><circle cx="144.7" cy="879.5" r="0.5"/><circle cx="166.9" cy="895.4" r="0.5"/><circle cx="141.3" cy="866.2" r="0.5"/><circle cx="133.8" cy="836.4" r="0.4"/><circle cx="154.9" cy="880.6" r="0.4"/><circle cx="142.7" cy="851.8" r="0.3"/><circle cx="151.8" cy="881.6" r="0.4"/><circle cx="155" cy="890.9" r="0.4"/><circle cx="158.3" cy="891.1" r="0.5"/><circle cx="149.3" cy="885.3" r="0.4"/><circle cx="138.3" cy="851.8" r="0.4"/><circle cx="136.5" cy="850.3" r="0.3"/><circle cx="133.7" cy="846.7" r="0.5"/><circle cx="134.5" cy="859" r="0.3"/><circle cx="143.5" cy="858.7" r="0.5"/><circle cx="133.9" cy="843.1" r="0.3"/><circle cx="148.3" cy="860.8" r="0.5"/><circle cx="156.7" cy="881.3" r="0.4"/><circle cx="134.2" cy="843.9" r="0.5"/><circle cx="134.7" cy="861.3" r="0.4"/><circle cx="152.8" cy="882.4" r="0.5"/><circle cx="143" cy="864.1" r="0.5"/><circle cx="158.3" cy="888.6" r="0.3"/><circle cx="134" cy="837.5" r="0.4"/><circle cx="138.1" cy="860.7" r="0.5"/><circle cx="156.4" cy="888.4" r="0.5"/><circle cx="147.9" cy="864.4" r="0.4"/><circle cx="133.9" cy="841.2" r="0.4"/><circle cx="167.9" cy="893.4" r="0.5"/><circle cx="136.9" cy="857.2" r="0.5"/><circle cx="134.3" cy="839.2" r="0.5"/><circle cx="134.1" cy="839.3" r="0.5"/><circle cx="144.1" cy="853.1" r="0.5"/><circle cx="135.8" cy="844.3" r="0.3"/><circle cx="167.1" cy="891.4" r="0.5"/><circle cx="143.2" cy="868.2" r="0.5"/><circle cx="140.3" cy="874" r="0.4"/><circle cx="134.2" cy="836.8" r="0.4"/><circle cx="163.3" cy="885.9" r="0.4"/><circle cx="160.2" cy="881.7" r="0.3"/><circle cx="133.9" cy="840.3" r="0.5"/><circle cx="132.1" cy="850.4" r="0.5"/><circle cx="144.1" cy="878.6" r="0.4"/><circle cx="140.5" cy="850.5" r="0.4"/><circle cx="141.4" cy="859.6" r="0.4"/><circle cx="138.6" cy="855" r="0.5"/><circle cx="142.1" cy="859.3" r="0.5"/><circle cx="166.2" cy="895.5" r="0.4"/><circle cx="151.6" cy="881" r="0.4"/><circle cx="161.4" cy="889" r="0.3"/><circle cx="135.8" cy="857.6" r="0.5"/><circle cx="134.6" cy="842" r="0.5"/><circle cx="140.8" cy="866.1" r="0.4"/><circle cx="139.7" cy="866.1" r="0.4"/><circle cx="165.4" cy="893.8" r="0.4"/><circle cx="134.2" cy="841.1" r="0.5"/><circle cx="150.1" cy="877.6" r="0.5"/><circle cx="168.4" cy="894.4" r="0.4"/><circle cx="153.4" cy="884.6" r="0.4"/><circle cx="160.7" cy="885.1" r="0.5"/><circle cx="148.1" cy="862.3" r="0.5"/><circle cx="155.2" cy="877.8" r="0.5"/><circle cx="137.4" cy="859" r="0.5"/><circle cx="132.7" cy="843.3" r="0.4"/><circle cx="153.5" cy="884" r="0.4"/><circle cx="140.8" cy="873.8" r="0.5"/><circle cx="138.6" cy="866.7" r="0.4"/><circle cx="152.7" cy="880.8" r="0.5"/><circle cx="141.5" cy="855.1" r="0.3"/><circle cx="145.3" cy="856.9" r="0.5"/><circle cx="141.5" cy="867.1" r="0.3"/><circle cx="142.1" cy="856.5" r="0.3"/><circle cx="133.4" cy="838.8" r="0.5"/><circle cx="155.9" cy="879.5" r="0.4"/><circle cx="140.7" cy="858.3" r="0.4"/><circle cx="157.2" cy="880.4" r="0.4"/><circle cx="159" cy="878.2" r="0.3"/><circle cx="151.1" cy="877.9" r="0.5"/><circle cx="149" cy="858.9" r="0.5"/><circle cx="154.9" cy="873.8" r="0.5"/></g>
<rect x="180.7" y="901.2" width="7.2" height="1.3" fill="#ddd" stroke="none" stroke-width="1" />
<rect x="197.1" y="826.2" width="87.8" height="79.6" fill="#000" stroke="none" stroke-width="1" />
<g fill="#1b5e0c"><circle cx="251.8" cy="880.3" r="0.3"/><circle cx="258.4" cy="893.4" r="0.5"/><circle cx="233.4" cy="868.6" r="0.4"/><circle cx="244.8" cy="888.2" r="0.5"/><circle cx="235.8" cy="850.3" r="0.4"/><circle cx="254.1" cy="892.8" r="0.4"/><circle cx="224.7" cy="846.2" r="0.4"/><circle cx="225.8" cy="835.8" r="0.4"/><circle cx="251.1" cy="888.3" r="0.4"/><circle cx="239.8" cy="885.6" r="0.5"/><circle cx="234.6" cy="858.5" r="0.3"/><circle cx="259.2" cy="891.8" r="0.4"/><circle cx="242.4" cy="867.2" r="0.3"/><circle cx="237.9" cy="853.8" r="0.4"/><circle cx="228.2" cy="858.8" r="0.3"/><circle cx="250.4" cy="876" r="0.3"/><circle cx="260" cy="895.6" r="0.4"/><circle cx="245.2" cy="871.4" r="0.4"/><circle cx="227.1" cy="838.2" r="0.3"/><circle cx="245.7" cy="874.1" r="0.3"/><circle cx="229.1" cy="843.1" r="0.4"/><circle cx="261.3" cy="895.7" r="0.5"/><circle cx="240.6" cy="865" r="0.4"/><circle cx="259.1" cy="894.2" r="0.4"/><circle cx="237" cy="856.3" r="0.5"/><circle cx="246.3" cy="876.5" r="0.4"/><circle cx="230.3" cy="853.5" r="0.5"/><circle cx="235.8" cy="850.7" r="0.5"/><circle cx="225.8" cy="836.3" r="0.4"/><circle cx="237.3" cy="855.1" r="0.5"/><circle cx="260.7" cy="894.2" r="0.4"/><circle cx="229.5" cy="844.1" r="0.5"/><circle cx="247.1" cy="878.7" r="0.5"/><circle cx="250.1" cy="885.7" r="0.5"/><circle cx="245.3" cy="873.8" r="0.5"/><circle cx="225.3" cy="837.8" r="0.4"/><circle cx="229.7" cy="847.8" r="0.5"/><circle cx="233.2" cy="868.9" r="0.3"/><circle cx="228.3" cy="858.8" r="0.3"/><circle cx="235.1" cy="866.9" r="0.5"/><circle cx="232.5" cy="847.5" r="0.3"/><circle cx="228" cy="864.1" r="0.5"/><circle cx="250.6" cy="888.8" r="0.5"/><circle cx="229.3" cy="862.8" r="0.4"/><circle cx="260.2" cy="893.2" r="0.5"/><circle cx="252.2" cy="894.2" r="0.3"/><circle cx="233.1" cy="860.5" r="0.4"/><circle cx="237.7" cy="877.1" r="0.5"/><circle cx="232.8" cy="864.2" r="0.5"/><circle cx="230.5" cy="854" r="0.3"/><circle cx="246.7" cy="888.4" r="0.4"/><circle cx="259.6" cy="896.1" r="0.5"/><circle cx="243.8" cy="876.8" r="0.5"/><circle cx="246" cy="886.7" r="0.4"/><circle cx="231.4" cy="854.3" r="0.4"/><circle cx="248.3" cy="883.4" r="0.3"/><circle cx="242.1" cy="860.8" r="0.5"/><circle cx="226.1" cy="836.3" r="0.4"/><circle cx="232.9" cy="861.5" r="0.5"/><circle cx="254.2" cy="894.1" r="0.4"/><circle cx="235.5" cy="869.8" r="0.3"/><circle cx="251.5" cy="885.7" r="0.3"/><circle cx="260.9" cy="894.3" r="0.5"/><circle cx="227.7" cy="844.2" r="0.4"/><circle cx="235.7" cy="880.9" r="0.3"/><circle cx="225" cy="840.9" r="0.4"/><circle cx="252.1" cy="893" r="0.4"/><circle cx="240.9" cy="875.1" r="0.5"/><circle cx="226.6" cy="838.6" r="0.3"/><circle cx="243.6" cy="864.4" r="0.4"/><circle cx="233.4" cy="873.2" r="0.4"/><circle cx="243.3" cy="886.3" r="0.5"/><circle cx="226.9" cy="840.3" r="0.3"/><circle cx="237.3" cy="877.2" r="0.5"/><circle cx="235.7" cy="853.9" r="0.3"/><circle cx="225.2" cy="839.5" r="0.5"/><circle cx="224.7" cy="851.8" r="0.5"/><circle cx="248.2" cy="890.7" r="0.5"/><circle cx="227.1" cy="851.3" r="0.5"/><circle cx="229.6" cy="864" r="0.5"/><circle cx="249.9" cy="888" r="0.5"/><circle cx="241.7" cy="873.8" r="0.5"/><circle cx="224.8" cy="842.6" r="0.4"/><circle cx="255" cy="891.8" r="0.5"/><circle cx="242.2" cy="862.1" r="0.5"/><circle cx="231.3" cy="869.8" r="0.3"/><circle cx="232.5" cy="860.9" r="0.5"/><circle cx="227.2" cy="853.1" r="0.3"/><circle cx="239.2" cy="855.3" r="0.5"/><circle cx="243" cy="861.6" r="0.3"/><circle cx="232.8" cy="852.7" r="0.5"/><circle cx="224.1" cy="850.7" r="0.4"/><circle cx="240.9" cy="856.9" r="0.4"/><circle cx="233.9" cy="868.1" r="0.5"/><circle cx="241.5" cy="878.6" r="0.5"/><circle cx="226.9" cy="838.7" r="0.4"/><circle cx="246" cy="866.7" r="0.4"/><circle cx="224.9" cy="842.3" r="0.5"/><circle cx="255.4" cy="895.1" r="0.4"/><circle cx="228.9" cy="865.5" r="0.4"/><circle cx="227.6" cy="846.5" r="0.4"/><circle cx="225.8" cy="841.1" r="0.3"/><circle cx="257.2" cy="892.6" r="0.5"/><circle cx="225.8" cy="836.7" r="0.4"/><circle cx="231" cy="855.8" r="0.5"/><circle cx="249.7" cy="889.5" r="0.3"/><circle cx="225.1" cy="853.8" r="0.4"/><circle cx="224.9" cy="854" r="0.5"/><circle cx="226.1" cy="849" r="0.4"/><circle cx="232.9" cy="864.5" r="0.5"/><circle cx="256.4" cy="891.3" r="0.5"/><circle cx="229.4" cy="863.8" r="0.3"/><circle cx="231.5" cy="850.8" r="0.4"/><circle cx="249" cy="884.9" r="0.3"/><circle cx="237.8" cy="878.4" r="0.4"/><circle cx="241.7" cy="886.5" r="0.4"/><circle cx="225.9" cy="843.2" r="0.5"/><circle cx="245.3" cy="865.8" r="0.4"/><circle cx="230.8" cy="863.7" r="0.4"/><circle cx="237.9" cy="874.1" r="0.5"/><circle cx="253.9" cy="889.1" r="0.4"/><circle cx="251.9" cy="888.9" r="0.3"/><circle cx="227.3" cy="840.9" r="0.5"/><circle cx="245.7" cy="873.5" r="0.4"/><circle cx="239.4" cy="868.2" r="0.3"/><circle cx="226.5" cy="860.1" r="0.4"/><circle cx="255" cy="885.2" r="0.5"/><circle cx="243.1" cy="867.8" r="0.4"/><circle cx="244.1" cy="879.8" r="0.4"/><circle cx="243.4" cy="883.9" r="0.5"/><circle cx="240.7" cy="886.1" r="0.5"/><circle cx="248.2" cy="882.8" r="0.4"/><circle cx="253.9" cy="893.2" r="0.5"/><circle cx="228.1" cy="865.8" r="0.4"/><circle cx="247.8" cy="874.5" r="0.5"/><circle cx="229.3" cy="864.3" r="0.5"/><circle cx="244.2" cy="883.4" r="0.5"/><circle cx="228.2" cy="845.1" r="0.5"/><circle cx="245.5" cy="883.8" r="0.4"/><circle cx="254.7" cy="893.2" r="0.4"/><circle cx="257.9" cy="895.6" r="0.3"/><circle cx="241.2" cy="871.6" r="0.3"/><circle cx="242.8" cy="873.2" r="0.5"/><circle cx="230.1" cy="848.4" r="0.5"/><circle cx="225.4" cy="842.5" r="0.3"/><circle cx="250.4" cy="880.9" r="0.5"/><circle cx="225" cy="842.9" r="0.3"/><circle cx="233.4" cy="860.2" r="0.5"/><circle cx="226" cy="840.8" r="0.4"/><circle cx="227.1" cy="842.3" r="0.4"/><circle cx="244" cy="863.2" r="0.5"/><circle cx="250.5" cy="883.3" r="0.4"/><circle cx="231.5" cy="862.3" r="0.4"/><circle cx="250.5" cy="886.2" r="0.4"/><circle cx="253" cy="889.6" r="0.3"/><circle cx="230.3" cy="849.2" r="0.3"/><circle cx="226.4" cy="841.4" r="0.5"/><circle cx="239.8" cy="856.4" r="0.3"/><circle cx="246.3" cy="891.3" r="0.5"/><circle cx="225.4" cy="836.9" r="0.4"/><circle cx="235.7" cy="864.4" r="0.3"/><circle cx="259.1" cy="893.8" r="0.4"/><circle cx="238" cy="858.3" r="0.4"/><circle cx="256.6" cy="891.6" r="0.5"/><circle cx="241.7" cy="858.1" r="0.5"/><circle cx="232.3" cy="865" r="0.4"/><circle cx="238.3" cy="882.8" r="0.3"/><circle cx="255.4" cy="895.2" r="0.3"/><circle cx="227.3" cy="844.7" r="0.5"/><circle cx="225.1" cy="842" r="0.5"/><circle cx="229.5" cy="850.1" r="0.4"/><circle cx="242.4" cy="886.4" r="0.4"/><circle cx="226" cy="835.9" r="0.4"/><circle cx="245.2" cy="872.8" r="0.3"/><circle cx="225.7" cy="838.1" r="0.4"/><circle cx="260" cy="892.7" r="0.4"/><circle cx="255.3" cy="894.9" r="0.4"/><circle cx="237.2" cy="871.4" r="0.5"/><circle cx="244" cy="868.6" r="0.3"/><circle cx="238.6" cy="867.1" r="0.4"/><circle cx="225.1" cy="840" r="0.4"/><circle cx="244.5" cy="885.9" r="0.5"/><circle cx="236" cy="859.4" r="0.4"/><circle cx="254" cy="891.4" r="0.5"/><circle cx="224.7" cy="845.6" r="0.5"/><circle cx="225.1" cy="836.7" r="0.5"/><circle cx="250.9" cy="893.3" r="0.4"/><circle cx="247.3" cy="881.7" r="0.5"/><circle cx="256.5" cy="895.3" r="0.3"/><circle cx="224.9" cy="842.3" r="0.4"/><circle cx="256.6" cy="890.8" r="0.3"/><circle cx="249.6" cy="891.7" r="0.5"/><circle cx="225.7" cy="858.8" r="0.5"/><circle cx="255.5" cy="892.4" r="0.3"/><circle cx="234.2" cy="848.8" r="0.4"/><circle cx="228" cy="862.3" r="0.4"/><circle cx="238.4" cy="881.3" r="0.3"/><circle cx="225.8" cy="845.3" r="0.4"/><circle cx="256" cy="891.9" r="0.5"/><circle cx="252.9" cy="884" r="0.4"/><circle cx="228.2" cy="852.9" r="0.5"/><circle cx="243.8" cy="875.5" r="0.5"/><circle cx="246.9" cy="887" r="0.3"/><circle cx="235.9" cy="859.1" r="0.5"/><circle cx="232.7" cy="863.6" r="0.3"/><circle cx="244.8" cy="883.1" r="0.5"/><circle cx="255.5" cy="892" r="0.3"/><circle cx="224" cy="852.6" r="0.4"/><circle cx="231.4" cy="869.8" r="0.5"/><circle cx="233.4" cy="875.1" r="0.5"/><circle cx="235.8" cy="859" r="0.5"/><circle cx="251.2" cy="887.6" r="0.3"/><circle cx="240.2" cy="873.4" r="0.4"/><circle cx="229.2" cy="851.9" r="0.5"/><circle cx="225.4" cy="844.8" r="0.5"/><circle cx="228.4" cy="840.3" r="0.3"/><circle cx="228.5" cy="844.5" r="0.3"/><circle cx="227.9" cy="852.4" r="0.3"/><circle cx="227.9" cy="842" r="0.4"/><circle cx="228.8" cy="854.8" r="0.5"/><circle cx="234.2" cy="863.5" r="0.5"/><circle cx="246" cy="876" r="0.5"/><circle cx="257" cy="894.5" r="0.5"/><circle cx="239.8" cy="859.4" r="0.5"/><circle cx="246.7" cy="883.3" r="0.5"/><circle cx="246.8" cy="889.6" r="0.4"/><circle cx="252.5" cy="884.8" r="0.5"/><circle cx="238.7" cy="871" r="0.3"/><circle cx="241.1" cy="879.3" r="0.5"/><circle cx="225.1" cy="856.7" r="0.5"/><circle cx="247.3" cy="884" r="0.4"/><circle cx="238.6" cy="862.3" r="0.3"/><circle cx="249.6" cy="891.5" r="0.3"/><circle cx="244.3" cy="888.6" r="0.4"/><circle cx="250.2" cy="887.6" r="0.4"/><circle cx="244.3" cy="873.8" r="0.5"/><circle cx="226.4" cy="836.4" r="0.5"/><circle cx="225.8" cy="839.9" r="0.3"/><circle cx="225.5" cy="841.6" r="0.3"/><circle cx="233.8" cy="852.9" r="0.4"/><circle cx="259.8" cy="893.2" r="0.5"/><circle cx="234.1" cy="862" r="0.4"/><circle cx="249.1" cy="887.6" r="0.5"/><circle cx="256.2" cy="890.3" r="0.4"/><circle cx="227.9" cy="847.1" r="0.5"/><circle cx="226.8" cy="841" r="0.4"/><circle cx="225.5" cy="857.9" r="0.3"/><circle cx="250.7" cy="890.1" r="0.5"/><circle cx="224.3" cy="846.8" r="0.3"/><circle cx="247.7" cy="885.1" r="0.5"/><circle cx="257.1" cy="892.5" r="0.4"/><circle cx="234.7" cy="863.7" r="0.5"/><circle cx="234.5" cy="851.8" r="0.3"/><circle cx="229.5" cy="848" r="0.4"/><circle cx="247.2" cy="887.7" r="0.5"/><circle cx="236.2" cy="881.8" r="0.4"/><circle cx="231.3" cy="867.7" r="0.4"/><circle cx="226.7" cy="839.5" r="0.4"/><circle cx="225.7" cy="841.5" r="0.5"/><circle cx="225.9" cy="841.7" r="0.5"/><circle cx="229.4" cy="860.4" r="0.5"/><circle cx="227.8" cy="840.5" r="0.4"/><circle cx="241.4" cy="861" r="0.3"/><circle cx="228.2" cy="855.6" r="0.5"/><circle cx="233.1" cy="858" r="0.5"/><circle cx="238.5" cy="863.1" r="0.5"/><circle cx="230" cy="856.4" r="0.5"/><circle cx="227.1" cy="846.5" r="0.5"/><circle cx="227.6" cy="841.3" r="0.5"/><circle cx="226.7" cy="840.2" r="0.4"/><circle cx="225.8" cy="837.8" r="0.3"/><circle cx="246.2" cy="872.8" r="0.3"/><circle cx="239" cy="857.4" r="0.5"/><circle cx="250" cy="882.4" r="0.4"/><circle cx="226.8" cy="846.6" r="0.5"/><circle cx="230.6" cy="850.7" r="0.4"/><circle cx="239.6" cy="881.2" r="0.4"/><circle cx="243.4" cy="864.4" r="0.5"/><circle cx="226" cy="838.4" r="0.4"/><circle cx="227.7" cy="849.4" r="0.3"/><circle cx="231.3" cy="844.6" r="0.4"/><circle cx="225.1" cy="840.3" r="0.5"/><circle cx="258.4" cy="891.7" r="0.5"/><circle cx="225.9" cy="847" r="0.3"/><circle cx="245.9" cy="882.6" r="0.3"/><circle cx="255.7" cy="887.7" r="0.5"/><circle cx="256.5" cy="892.4" r="0.4"/><circle cx="225.7" cy="857.2" r="0.4"/><circle cx="224.9" cy="844.2" r="0.4"/><circle cx="258.4" cy="894.5" r="0.5"/><circle cx="238.4" cy="876.3" r="0.4"/><circle cx="246.7" cy="873.7" r="0.5"/><circle cx="224.3" cy="846.7" r="0.4"/><circle cx="225.4" cy="836.2" r="0.4"/><circle cx="244.1" cy="878.2" r="0.4"/><circle cx="231.3" cy="845.6" r="0.3"/><circle cx="244.4" cy="875" r="0.3"/><circle cx="237.4" cy="865.3" r="0.3"/><circle cx="232" cy="854.5" r="0.5"/><circle cx="229.2" cy="857.6" r="0.4"/><circle cx="237.7" cy="881.4" r="0.4"/><circle cx="224.7" cy="849.7" r="0.5"/><circle cx="235" cy="870.2" r="0.3"/><circle cx="226.7" cy="845.8" r="0.5"/><circle cx="235.6" cy="856.6" r="0.5"/><circle cx="226.4" cy="851.1" r="0.5"/><circle cx="229.3" cy="851.9" r="0.4"/><circle cx="245.9" cy="877.1" r="0.4"/><circle cx="253.5" cy="882.1" r="0.5"/><circle cx="240.2" cy="866.9" r="0.4"/><circle cx="235.1" cy="858.3" r="0.5"/><circle cx="257.9" cy="892.4" r="0.5"/><circle cx="229.5" cy="849" r="0.5"/><circle cx="244.9" cy="887" r="0.4"/><circle cx="237" cy="863.4" r="0.5"/><circle cx="227" cy="844.5" r="0.5"/><circle cx="259.6" cy="893.7" r="0.5"/><circle cx="235.8" cy="854.8" r="0.4"/><circle cx="237.6" cy="867.8" r="0.5"/><circle cx="227.1" cy="837.8" r="0.4"/><circle cx="225.3" cy="838.7" r="0.5"/><circle cx="234.6" cy="852.1" r="0.4"/><circle cx="245.4" cy="869" r="0.4"/><circle cx="228.2" cy="852.9" r="0.3"/></g><g fill="#2f8e18"><circle cx="244.9" cy="874.1" r="0.5"/><circle cx="225.3" cy="836.7" r="0.4"/><circle cx="236.6" cy="879.8" r="0.3"/><circle cx="225.6" cy="850.2" r="0.5"/><circle cx="231.4" cy="845.4" r="0.5"/><circle cx="251.4" cy="881.6" r="0.3"/><circle cx="230.7" cy="844.2" r="0.3"/><circle cx="253.6" cy="884.5" r="0.3"/><circle cx="225.9" cy="841.4" r="0.5"/><circle cx="249.3" cy="891.5" r="0.5"/><circle cx="230.2" cy="865.1" r="0.4"/><circle cx="225.6" cy="841.5" r="0.5"/><circle cx="241" cy="862.3" r="0.5"/><circle cx="234.8" cy="856.8" r="0.5"/><circle cx="229.4" cy="854" r="0.3"/><circle cx="237.1" cy="873.1" r="0.4"/><circle cx="236.7" cy="879.5" r="0.5"/><circle cx="258.9" cy="895.4" r="0.5"/><circle cx="233.3" cy="866.2" r="0.5"/><circle cx="225.8" cy="836.4" r="0.4"/><circle cx="246.9" cy="880.6" r="0.4"/><circle cx="234.7" cy="851.8" r="0.3"/><circle cx="243.8" cy="881.6" r="0.4"/><circle cx="247" cy="890.9" r="0.4"/><circle cx="250.3" cy="891.1" r="0.5"/><circle cx="241.3" cy="885.3" r="0.4"/><circle cx="230.3" cy="851.8" r="0.4"/><circle cx="228.5" cy="850.3" r="0.3"/><circle cx="225.7" cy="846.7" r="0.5"/><circle cx="226.5" cy="859" r="0.3"/><circle cx="235.5" cy="858.7" r="0.5"/><circle cx="225.9" cy="843.1" r="0.3"/><circle cx="240.3" cy="860.8" r="0.5"/><circle cx="248.7" cy="881.3" r="0.4"/><circle cx="226.2" cy="843.9" r="0.5"/><circle cx="226.7" cy="861.3" r="0.4"/><circle cx="244.8" cy="882.4" r="0.5"/><circle cx="235" cy="864.1" r="0.5"/><circle cx="250.3" cy="888.6" r="0.3"/><circle cx="226" cy="837.5" r="0.4"/><circle cx="230.1" cy="860.7" r="0.5"/><circle cx="248.4" cy="888.4" r="0.5"/><circle cx="239.9" cy="864.4" r="0.4"/><circle cx="225.9" cy="841.2" r="0.4"/><circle cx="259.9" cy="893.4" r="0.5"/><circle cx="228.9" cy="857.2" r="0.5"/><circle cx="226.3" cy="839.2" r="0.5"/><circle cx="226.1" cy="839.3" r="0.5"/><circle cx="236.1" cy="853.1" r="0.5"/><circle cx="227.8" cy="844.3" r="0.3"/><circle cx="259.1" cy="891.4" r="0.5"/><circle cx="235.2" cy="868.2" r="0.5"/><circle cx="232.3" cy="874" r="0.4"/><circle cx="226.2" cy="836.8" r="0.4"/><circle cx="255.3" cy="885.9" r="0.4"/><circle cx="252.2" cy="881.7" r="0.3"/><circle cx="225.9" cy="840.3" r="0.5"/><circle cx="224.1" cy="850.4" r="0.5"/><circle cx="236.1" cy="878.6" r="0.4"/><circle cx="232.5" cy="850.5" r="0.4"/><circle cx="233.4" cy="859.6" r="0.4"/><circle cx="230.6" cy="855" r="0.5"/><circle cx="234.1" cy="859.3" r="0.5"/><circle cx="258.2" cy="895.5" r="0.4"/><circle cx="243.6" cy="881" r="0.4"/><circle cx="253.4" cy="889" r="0.3"/><circle cx="227.8" cy="857.6" r="0.5"/><circle cx="226.6" cy="842" r="0.5"/><circle cx="232.8" cy="866.1" r="0.4"/><circle cx="231.7" cy="866.1" r="0.4"/><circle cx="257.4" cy="893.8" r="0.4"/><circle cx="226.2" cy="841.1" r="0.5"/><circle cx="242.1" cy="877.6" r="0.5"/><circle cx="260.4" cy="894.4" r="0.4"/><circle cx="245.4" cy="884.6" r="0.4"/><circle cx="252.7" cy="885.1" r="0.5"/><circle cx="240.1" cy="862.3" r="0.5"/><circle cx="247.2" cy="877.8" r="0.5"/><circle cx="229.4" cy="859" r="0.5"/><circle cx="224.7" cy="843.3" r="0.4"/><circle cx="245.5" cy="884" r="0.4"/><circle cx="232.8" cy="873.8" r="0.5"/><circle cx="230.6" cy="866.7" r="0.4"/><circle cx="244.7" cy="880.8" r="0.5"/><circle cx="233.5" cy="855.1" r="0.3"/><circle cx="237.3" cy="856.9" r="0.5"/><circle cx="233.5" cy="867.1" r="0.3"/><circle cx="234.1" cy="856.5" r="0.3"/><circle cx="225.4" cy="838.8" r="0.5"/><circle cx="247.9" cy="879.5" r="0.4"/><circle cx="232.7" cy="858.3" r="0.4"/><circle cx="249.2" cy="880.4" r="0.4"/><circle cx="251" cy="878.2" r="0.3"/><circle cx="243.1" cy="877.9" r="0.5"/><circle cx="241" cy="858.9" r="0.5"/><circle cx="246.9" cy="873.8" r="0.5"/></g>
<defs><clipPath id="nc2"><ellipse cx="238.6" cy="867.9" rx="9.6" ry="15.4" transform="rotate(-17 238.6 867.9)"/></clipPath></defs>
<g clip-path="url(#nc2)"><rect x="224.6" y="849.9" width="28" height="36" filter="url(#nucF)"/></g>
<ellipse cx="238.6" cy="867.9" rx="9.1" ry="14.9" transform="rotate(-17 238.6 867.9)" fill="none" stroke="#2626d8" stroke-width="1.0" stroke-opacity="0.75" stroke-dasharray="2 0.8 1 0.6"/>
<rect x="274.4" y="901.2" width="7.2" height="1.3" fill="#ddd" stroke="none" stroke-width="1" />
<text x="296.8" y="805.6" font-size="16.3" text-anchor="start" font-weight="bold" fill="#111" stroke="#111" stroke-width="0.1" >K</text>
<text x="368.7" y="803.7" font-size="9" text-anchor="middle" font-weight="bold" fill="#111" stroke="#111" stroke-width="0.1" >BEAS-2b</text>
<rect x="323.7" y="811.5" width="8.2" height="3.8" fill="#92bccf" stroke="none" stroke-width="1" />
<text x="333.5" y="815.9" font-size="6.9" text-anchor="start" font-weight="bold" fill="#111" stroke="#111" stroke-width="0.1" >Cytoplasm</text>
<rect x="377.5" y="811.5" width="7" height="3.8" fill="#c9586a" stroke="none" stroke-width="1" />
<text x="386" y="815.9" font-size="6.9" text-anchor="start" font-weight="bold" fill="#111" stroke="#111" stroke-width="0.1" >Nucleus</text>
<rect x="341.1" y="828.4" width="13.9" height="16.6" fill="#c9586a" stroke="#222" stroke-width="0.7" />
<rect x="341.1" y="845" width="13.9" height="55.6" fill="#92bccf" stroke="#222" stroke-width="0.7" />
<rect x="361.9" y="828.4" width="13.9" height="65.5" fill="#c9586a" stroke="#222" stroke-width="0.7" />
<rect x="361.9" y="893.9" width="13.9" height="6.7" fill="#92bccf" stroke="#222" stroke-width="0.7" />
<rect x="383" y="828.4" width="13.7" height="5.1" fill="#c9586a" stroke="#222" stroke-width="0.7" />
<rect x="383" y="833.5" width="13.7" height="67.1" fill="#92bccf" stroke="#222" stroke-width="0.7" />
<line x1="334.8" y1="827.8" x2="334.8" y2="901.1" stroke="#222" stroke-width="1.0" />
<line x1="334.3" y1="900.6" x2="403.6" y2="900.6" stroke="#222" stroke-width="1.0" />
<line x1="331.6" y1="900.6" x2="334.8" y2="900.6" stroke="#222" stroke-width="0.9" />
<text x="330.7" y="903.2" font-size="7.2" text-anchor="end" font-weight="bold" fill="#111" stroke="#111" stroke-width="0.1" >0.0</text>
<line x1="331.6" y1="886.2" x2="334.8" y2="886.2" stroke="#222" stroke-width="0.9" />
<text x="330.7" y="888.8" font-size="7.2" text-anchor="end" font-weight="bold" fill="#111" stroke="#111" stroke-width="0.1" >0.2</text>
<line x1="331.6" y1="871.7" x2="334.8" y2="871.7" stroke="#222" stroke-width="0.9" />
<text x="330.7" y="874.3" font-size="7.2" text-anchor="end" font-weight="bold" fill="#111" stroke="#111" stroke-width="0.1" >0.4</text>
<line x1="331.6" y1="857.3" x2="334.8" y2="857.3" stroke="#222" stroke-width="0.9" />
<text x="330.7" y="859.9" font-size="7.2" text-anchor="end" font-weight="bold" fill="#111" stroke="#111" stroke-width="0.1" >0.6</text>
<line x1="331.6" y1="842.8" x2="334.8" y2="842.8" stroke="#222" stroke-width="0.9" />
<text x="330.7" y="845.4" font-size="7.2" text-anchor="end" font-weight="bold" fill="#111" stroke="#111" stroke-width="0.1" >0.8</text>
<line x1="331.6" y1="828.4" x2="334.8" y2="828.4" stroke="#222" stroke-width="0.9" />
<text x="330.7" y="831" font-size="7.2" text-anchor="end" font-weight="bold" fill="#111" stroke="#111" stroke-width="0.1" >1.0</text>
<line x1="348.2" y1="900.6" x2="348.2" y2="904" stroke="#222" stroke-width="0.9" />
<text transform="translate(350.4 908.6) rotate(-45)" font-size="5.7" text-anchor="end" font-weight="bold" fill="#111" stroke="#111" stroke-width="0.1">GAPDH</text>
<line x1="368.9" y1="900.6" x2="368.9" y2="904" stroke="#222" stroke-width="0.9" />
<text transform="translate(371.1 908.6) rotate(-45)" font-size="5.7" text-anchor="end" font-weight="bold" fill="#111" stroke="#111" stroke-width="0.1">MALAT1</text>
<line x1="389.8" y1="900.6" x2="389.8" y2="904" stroke="#222" stroke-width="0.9" />
<text transform="translate(392 908.6) rotate(-45)" font-size="5.7" text-anchor="end" font-weight="bold" fill="#111" stroke="#111" stroke-width="0.1">circFCHO2</text>
<text transform="translate(316 862) rotate(-90)" font-size="9.8" text-anchor="middle" font-weight="bold" fill="#111" stroke="#111" stroke-width="0.1">Relative RNA levels</text>
<text x="433.8" y="805.6" font-size="16.3" text-anchor="start" font-weight="bold" fill="#111" stroke="#111" stroke-width="0.1" >L</text>
<text x="508.4" y="802.8" font-size="9.6" text-anchor="middle" font-weight="bold" fill="#e03030" stroke="#e03030" stroke-width="0.1" >hsa-circFCHO2</text>
<text x="632.2" y="802.8" font-size="9.6" text-anchor="middle" font-weight="bold" fill="#e03030" stroke="#e03030" stroke-width="0.1" >mus-circFCHO2</text>
<defs><filter id="tis31" x="0" y="0" width="100%" height="100%" color-interpolation-filters="sRGB"><feTurbulence type="fractalNoise" baseFrequency="0.5" numOctaves="2" seed="31" result="hi"/><feColorMatrix in="hi" type="matrix" values="0.7 0 0 0 -0.36  0.6 0 0 0 -0.31  5.5 0 0 0 -2.5  0 0 0 0 1" result="hb"/><feTurbulence type="fractalNoise" baseFrequency="0.09" numOctaves="2" seed="81" result="lo"/><feColorMatrix in="lo" type="matrix" values="2.6 0 0 0 -0.55  2.6 0 0 0 -0.55  2.6 0 0 0 -0.55  0 0 0 0 1" result="lm"/><feComposite in="hb" in2="lm" operator="arithmetic" k1="1" k2="0" k3="0" k4="0"/></filter></defs>
<rect x="456" y="808.6" width="104" height="49.7" fill="#000" stroke="none" stroke-width="1" filter="url(#tis31)"/>
<rect x="548" y="853" width="7.5" height="1.3" fill="#ddd" stroke="none" stroke-width="1" />
<defs><filter id="tis32" x="0" y="0" width="100%" height="100%" color-interpolation-filters="sRGB"><feTurbulence type="fractalNoise" baseFrequency="0.5" numOctaves="2" seed="32" result="hi"/><feColorMatrix in="hi" type="matrix" values="0.7 0 0 0 -0.36  0.6 0 0 0 -0.31  5.5 0 0 0 -2.5  0 0 0 0 1" result="hb"/><feTurbulence type="fractalNoise" baseFrequency="0.09" numOctaves="2" seed="82" result="lo"/><feColorMatrix in="lo" type="matrix" values="2.6 0 0 0 -0.55  2.6 0 0 0 -0.55  2.6 0 0 0 -0.55  0 0 0 0 1" result="lm"/><feComposite in="hb" in2="lm" operator="arithmetic" k1="1" k2="0" k3="0" k4="0"/></filter></defs>
<rect x="456" y="862.2" width="104" height="49.5" fill="#000" stroke="none" stroke-width="1" filter="url(#tis32)"/>
<g fill="#a01830"><circle cx="465.7" cy="873.9" r="0.5"/><circle cx="488.3" cy="905.2" r="0.5"/><circle cx="507.6" cy="897" r="0.5"/><circle cx="468" cy="887.4" r="0.5"/><circle cx="542.3" cy="888" r="0.5"/><circle cx="552.5" cy="904.3" r="0.5"/><circle cx="495.1" cy="864.2" r="0.5"/><circle cx="533.5" cy="870" r="0.5"/><circle cx="458.9" cy="897.4" r="0.5"/><circle cx="542.3" cy="902.3" r="0.5"/><circle cx="553.3" cy="873.4" r="0.5"/><circle cx="466.2" cy="869.7" r="0.5"/><circle cx="555.8" cy="869.3" r="0.5"/><circle cx="474" cy="865.1" r="0.5"/><circle cx="462.9" cy="865.9" r="0.5"/><circle cx="493.3" cy="871.6" r="0.5"/><circle cx="489" cy="906.5" r="0.5"/><circle cx="474.7" cy="901.3" r="0.5"/><circle cx="531.8" cy="890.1" r="0.5"/><circle cx="515.6" cy="899.2" r="0.5"/><circle cx="516.7" cy="874.6" r="0.5"/><circle cx="490.9" cy="875.3" r="0.5"/><circle cx="498.1" cy="909.1" r="0.5"/><circle cx="500.7" cy="867.4" r="0.5"/><circle cx="505.7" cy="901.2" r="0.5"/></g>
<rect x="548" y="906.4" width="7.5" height="1.3" fill="#ddd" stroke="none" stroke-width="1" />
<defs><filter id="tis33" x="0" y="0" width="100%" height="100%" color-interpolation-filters="sRGB"><feTurbulence type="fractalNoise" baseFrequency="0.5" numOctaves="2" seed="33" result="hi"/><feColorMatrix in="hi" type="matrix" values="0.7 0 0 0 -0.36  0.6 0 0 0 -0.31  5.5 0 0 0 -2.5  0 0 0 0 1" result="hb"/><feTurbulence type="fractalNoise" baseFrequency="0.075" numOctaves="2" seed="83" result="lo"/><feColorMatrix in="lo" type="matrix" values="7 0 0 0 -3.1  7 0 0 0 -3.1  7 0 0 0 -3.1  0 0 0 0 1" result="lm"/><feComposite in="hb" in2="lm" operator="arithmetic" k1="1" k2="0" k3="0" k4="0"/></filter></defs>
<rect x="579.4" y="808.6" width="103.6" height="49.7" fill="#000" stroke="none" stroke-width="1" filter="url(#tis33)"/>
<rect x="671" y="853" width="7.5" height="1.3" fill="#ddd" stroke="none" stroke-width="1" />
<defs><filter id="tis34" x="0" y="0" width="100%" height="100%" color-interpolation-filters="sRGB"><feTurbulence type="fractalNoise" baseFrequency="0.5" numOctaves="2" seed="34" result="hi"/><feColorMatrix in="hi" type="matrix" values="0.7 0 0 0 -0.36  0.6 0 0 0 -0.31  5.5 0 0 0 -2.5  0 0 0 0 1" result="hb"/><feTurbulence type="fractalNoise" baseFrequency="0.075" numOctaves="2" seed="84" result="lo"/><feColorMatrix in="lo" type="matrix" values="7 0 0 0 -3.1  7 0 0 0 -3.1  7 0 0 0 -3.1  0 0 0 0 1" result="lm"/><feComposite in="hb" in2="lm" operator="arithmetic" k1="1" k2="0" k3="0" k4="0"/></filter></defs>
<rect x="579.4" y="862.2" width="103.6" height="49.5" fill="#000" stroke="none" stroke-width="1" filter="url(#tis34)"/>
<g fill="#a01830"><circle cx="634.1" cy="890.9" r="0.5"/><circle cx="665.4" cy="905.1" r="0.5"/><circle cx="669.3" cy="880.8" r="0.5"/><circle cx="675.9" cy="883.5" r="0.5"/><circle cx="611.9" cy="868.5" r="0.5"/><circle cx="632.4" cy="871.2" r="0.5"/><circle cx="608.7" cy="892" r="0.5"/><circle cx="658.7" cy="898.4" r="0.5"/><circle cx="590" cy="867" r="0.5"/><circle cx="606.8" cy="889.3" r="0.5"/><circle cx="664.9" cy="900.6" r="0.5"/><circle cx="674.4" cy="891" r="0.5"/><circle cx="644.8" cy="877.5" r="0.5"/><circle cx="612.7" cy="873.6" r="0.5"/><circle cx="634.7" cy="891.8" r="0.5"/><circle cx="638.5" cy="882" r="0.5"/><circle cx="623.6" cy="875.5" r="0.5"/><circle cx="662.6" cy="890.6" r="0.5"/><circle cx="656" cy="901.1" r="0.5"/><circle cx="609.4" cy="869.5" r="0.5"/></g>
<rect x="671" y="906.4" width="7.5" height="1.3" fill="#ddd" stroke="none" stroke-width="1" />
<text x="443" y="830.1" font-size="8" text-anchor="middle" font-weight="bold" fill="#111" stroke="#111" stroke-width="0.1" >non-</text>
<text x="442.9" y="839.9" font-size="8" text-anchor="middle" font-weight="bold" fill="#111" stroke="#111" stroke-width="0.1" >COPD</text>
<text x="438.6" y="883.6" font-size="8" text-anchor="middle" font-weight="bold" fill="#111" stroke="#111" stroke-width="0.1" >COPD</text>
<text x="438.7" y="893.3" font-size="8.1" text-anchor="middle" font-weight="bold" fill="#111" stroke="#111" stroke-width="0.1" >Patient</text>
<text x="570.3" y="832.8" font-size="8.2" text-anchor="middle" font-weight="bold" fill="#111" stroke="#111" stroke-width="0.1" >Air</text>
<text x="570.8" y="887.7" font-size="8.2" text-anchor="middle" font-weight="bold" fill="#111" stroke="#111" stroke-width="0.1" >CS</text>
</svg></body></html>
